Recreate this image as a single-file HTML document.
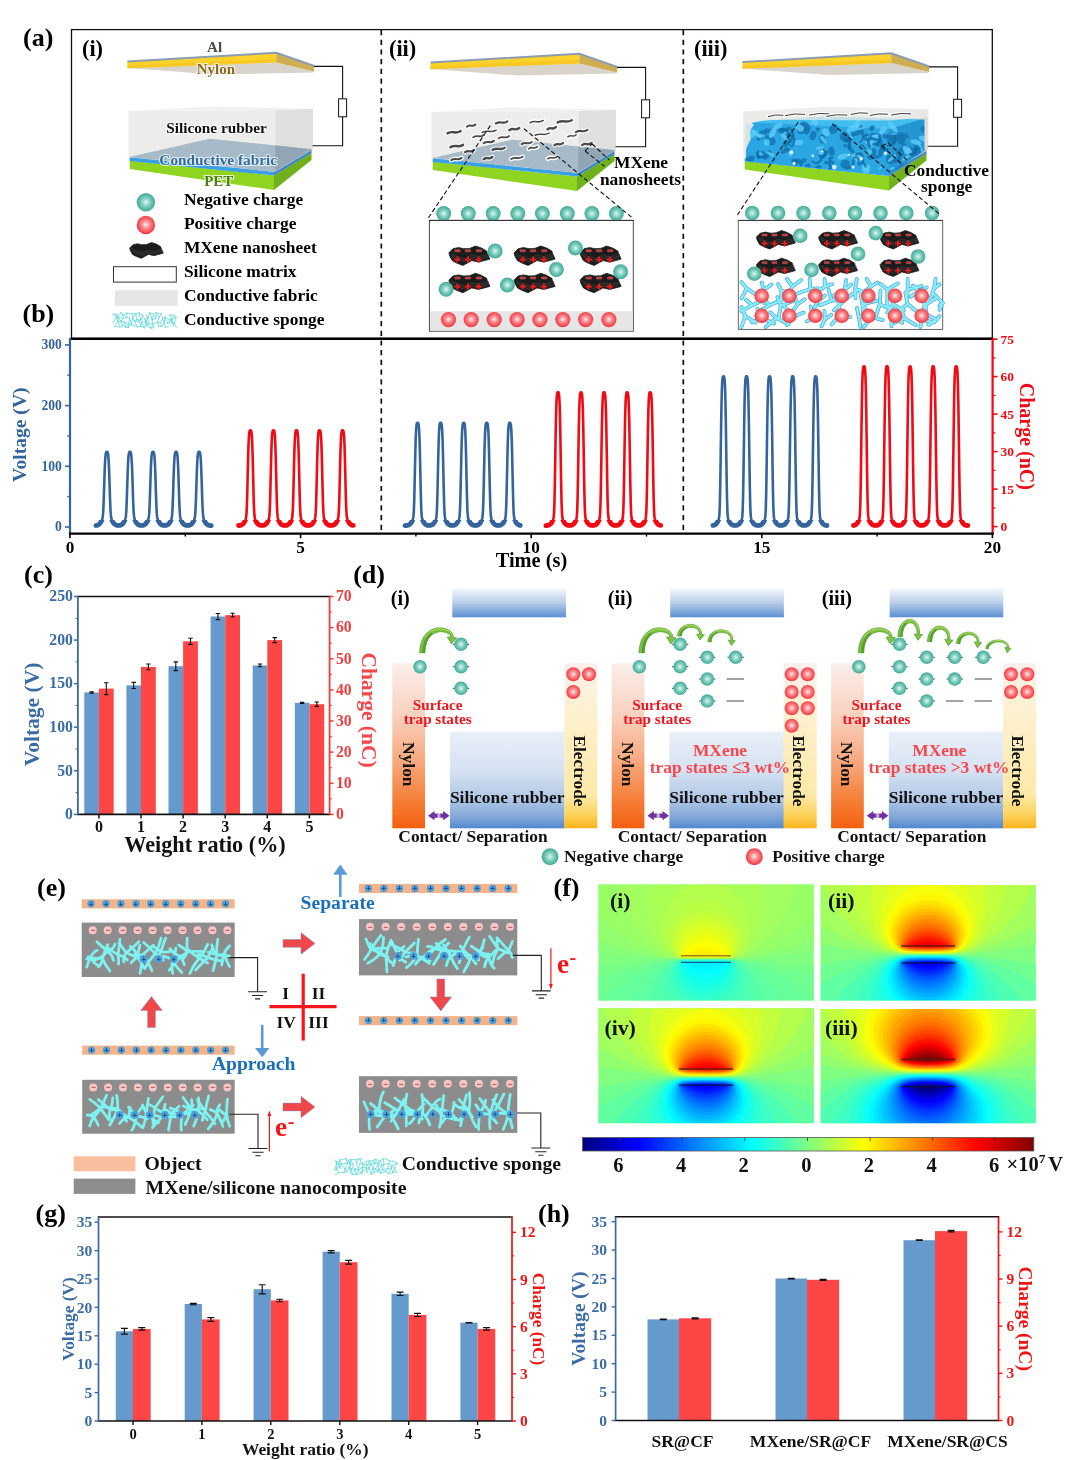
<!DOCTYPE html>
<html><head><meta charset="utf-8"><title>Figure</title>
<style>html,body{margin:0;padding:0;background:#fff}svg{display:block}text{font-family:"Liberation Serif",serif;font-weight:bold}</style>
</head><body><svg width="1080" height="1460" viewBox="0 0 1080 1460" font-family="Liberation Serif, serif" font-weight="bold">
<defs>
<radialGradient id="gT" cx="50%" cy="50%" r="52%"><stop offset="0" stop-color="#e4f7f2"/><stop offset="0.3" stop-color="#9edccf"/><stop offset="0.65" stop-color="#62c0af"/><stop offset="1" stop-color="#46a695"/></radialGradient>
<radialGradient id="gR" cx="50%" cy="48%" r="52%"><stop offset="0" stop-color="#fff0f0"/><stop offset="0.4" stop-color="#fb8e92"/><stop offset="1" stop-color="#f2333d"/></radialGradient>
<linearGradient id="gTopBlue" x1="0" y1="0" x2="0" y2="1"><stop offset="0" stop-color="#f4f7fc"/><stop offset="0.5" stop-color="#b9cde9"/><stop offset="1" stop-color="#5b8fd2"/></linearGradient>
<linearGradient id="gSil" x1="0" y1="0" x2="0" y2="1"><stop offset="0" stop-color="#e9eff8"/><stop offset="0.4" stop-color="#d6e2f2"/><stop offset="0.7" stop-color="#b0c7e5"/><stop offset="0.9" stop-color="#7ca4d7"/><stop offset="1" stop-color="#4f88cd"/></linearGradient>
<linearGradient id="gNylon" x1="0" y1="0" x2="0" y2="1"><stop offset="0" stop-color="#fbeeea"/><stop offset="0.3" stop-color="#f9d3c2"/><stop offset="0.6" stop-color="#f7a77c"/><stop offset="0.85" stop-color="#f57b32"/><stop offset="1" stop-color="#f4600f"/></linearGradient>
<linearGradient id="gElec" x1="0" y1="0" x2="0" y2="1"><stop offset="0" stop-color="#fcefee"/><stop offset="0.25" stop-color="#fdf1d3"/><stop offset="0.8" stop-color="#fde9a8"/><stop offset="0.92" stop-color="#fcd25a"/><stop offset="1" stop-color="#fbb31c"/></linearGradient>
<filter id="b05" x="-20%" y="-20%" width="140%" height="140%"><feGaussianBlur stdDeviation="0.35"/></filter>
<filter id="b1" x="-20%" y="-20%" width="140%" height="140%"><feGaussianBlur stdDeviation="0.6"/></filter>
<filter id="b2" x="-20%" y="-20%" width="140%" height="140%"><feGaussianBlur stdDeviation="1.2"/></filter>
<filter id="b4" x="-30%" y="-30%" width="160%" height="160%"><feGaussianBlur stdDeviation="4"/></filter>
<filter id="b8" x="-30%" y="-30%" width="160%" height="160%"><feGaussianBlur stdDeviation="8"/></filter>
<filter id="b14" x="-50%" y="-50%" width="200%" height="200%"><feGaussianBlur stdDeviation="14"/></filter>
</defs>

<rect x="71.5" y="29.6" width="920.8" height="308.6" fill="none" stroke="#111" stroke-width="1.3"/>
<line x1="70" y1="338.9" x2="993.5" y2="338.9" stroke="#000" stroke-width="2.4"/>
<line x1="381.3" y1="30" x2="381.3" y2="533" stroke="#111" stroke-width="1.7" stroke-dasharray="5.2 4.5"/>
<line x1="683.3" y1="30" x2="683.3" y2="533" stroke="#111" stroke-width="1.7" stroke-dasharray="5.2 4.5"/>
<text x="23" y="45.5" font-size="26" fill="#000" text-anchor="start" >(a)</text>
<text x="22.5" y="321.5" font-size="26" fill="#000" text-anchor="start" >(b)</text>
<text x="82" y="55.8" font-size="22.3" fill="#000" text-anchor="start" >(i)</text>
<text x="389" y="55.8" font-size="22.3" fill="#000" text-anchor="start" >(ii)</text>
<text x="694" y="55.8" font-size="22.3" fill="#000" text-anchor="start" >(iii)</text>
<g transform="translate(0 0)"><polygon points="127.4,68.0 276.2,62.4 314.2,71.5 313.0,72.5 215.0,74.6" fill="#d8d3cb" /><polygon points="127.4,61.8 276.2,53.0 276.2,62.4 127.4,68.2" fill="#fbd22a" /><polygon points="127.4,65.5 276.2,59 276.2,62.4 127.4,68.2" fill="#f6c423" opacity="0.8"/><polygon points="276.2,53.0 314.2,66.2 314.2,71.5 276.2,62.4" fill="#cfae52" /><path d="M127.4,61.6 L276.2,52.7 L314.2,66" fill="none" stroke="#8c9db2" stroke-width="2" stroke-linejoin="round"/></g>
<g transform="translate(0 0)"><path d="M314,66.4 H342.6 V145.8 H312" fill="none" stroke="#111" stroke-width="1.1"/><rect x="338.6" y="98.8" width="8" height="18" fill="#fff" stroke="#111" stroke-width="1"/></g>
<g transform="translate(303 1)"><polygon points="127.4,68.0 276.2,62.4 314.2,71.5 313.0,72.5 215.0,74.6" fill="#d8d3cb" /><polygon points="127.4,61.8 276.2,53.0 276.2,62.4 127.4,68.2" fill="#fbd22a" /><polygon points="127.4,65.5 276.2,59 276.2,62.4 127.4,68.2" fill="#f6c423" opacity="0.8"/><polygon points="276.2,53.0 314.2,66.2 314.2,71.5 276.2,62.4" fill="#cfae52" /><path d="M127.4,61.6 L276.2,52.7 L314.2,66" fill="none" stroke="#8c9db2" stroke-width="2" stroke-linejoin="round"/></g>
<g transform="translate(303 1)"><path d="M314,66.4 H342.6 V145.8 H312" fill="none" stroke="#111" stroke-width="1.1"/><rect x="338.6" y="98.8" width="8" height="18" fill="#fff" stroke="#111" stroke-width="1"/></g>
<g transform="translate(615 0.5)"><polygon points="127.4,68.0 276.2,62.4 314.2,71.5 313.0,72.5 215.0,74.6" fill="#d8d3cb" /><polygon points="127.4,61.8 276.2,53.0 276.2,62.4 127.4,68.2" fill="#fbd22a" /><polygon points="127.4,65.5 276.2,59 276.2,62.4 127.4,68.2" fill="#f6c423" opacity="0.8"/><polygon points="276.2,53.0 314.2,66.2 314.2,71.5 276.2,62.4" fill="#cfae52" /><path d="M127.4,61.6 L276.2,52.7 L314.2,66" fill="none" stroke="#8c9db2" stroke-width="2" stroke-linejoin="round"/></g>
<g transform="translate(615 0.5)"><path d="M314,66.4 H342.6 V145.8 H312" fill="none" stroke="#111" stroke-width="1.1"/><rect x="338.6" y="98.8" width="8" height="18" fill="#fff" stroke="#111" stroke-width="1"/></g>
<g transform="translate(0 0)"><polygon points="129.7,160.8 274.0,175.4 274.0,190.0 129.7,169.0" fill="#8fd421" /><polygon points="274.0,175.4 311.5,152.7 311.5,160.0 274.0,190.0" fill="#6fb01c" /><polygon points="129.7,156.9 274.0,171.7 274.0,175.6 129.7,161.0" fill="#3aa0e6" /><polygon points="274.0,171.7 311.5,149.2 311.5,152.9 274.0,175.6" fill="#3b86c8" /><polygon points="129.7,156.9 209.5,138.8 311.5,149.2 274.0,171.7" fill="#86a2b6" /><polygon points="128.5,111.0 275.5,110.0 275.5,172.0 128.5,157.2" fill="#e6e6e3" opacity="0.74"/><polygon points="275.5,110.0 313.0,108.7 313.0,149.5 275.5,172.0" fill="#cfcfcc" opacity="0.66"/><polygon points="128.5,111.0 210.0,106.4 313.0,108.7 275.5,110.2" fill="#efefed" opacity="0.9"/><polygon points="129.7,156.9 209.5,138.8 311.5,149.2 274.0,171.7" fill="#7f9fb8" opacity="0.5"/><polygon points="275.5,171.0 311.5,149.2 275.5,145.6" fill="#7f93a6" opacity="0.35"/></g>
<text x="214.6" y="52" font-size="15" fill="#4a4a4a" text-anchor="middle" stroke="#fff" stroke-opacity="0.75" stroke-width="2.2" paint-order="stroke" stroke-linejoin="round">Al</text>
<text x="215.8" y="74" font-size="15" fill="#8a6a1c" text-anchor="middle" stroke="#fff" stroke-opacity="0.75" stroke-width="2.2" paint-order="stroke" stroke-linejoin="round">Nylon</text>
<text x="216.5" y="132.5" font-size="15.3" fill="#111" text-anchor="middle" stroke="#fff" stroke-opacity="0.75" stroke-width="2.2" paint-order="stroke" stroke-linejoin="round">Silicone rubber</text>
<text x="218.2" y="165" font-size="15.3" fill="#2e6da4" text-anchor="middle" stroke="#fff" stroke-opacity="0.75" stroke-width="2.2" paint-order="stroke" stroke-linejoin="round">Conductive fabric</text>
<text x="218.8" y="185.5" font-size="15" fill="#4f7c14" text-anchor="middle" stroke="#fff" stroke-opacity="0.75" stroke-width="2.2" paint-order="stroke" stroke-linejoin="round">PET</text>
<circle cx="145.9" cy="202.2" r="9.2" fill="url(#gT)"/>
<circle cx="145.9" cy="225.0" r="9.2" fill="url(#gR)"/>
<g transform="translate(146.5 250.3) scale(0.82)"><path d="M-20.5,-2.8 L-16.5,-6.9 L-10.9,-8 L-5.7,-6.9 L0.2,-7.2 L6.1,-9.6 L12,-7.6 L17.2,-4.6 L18,-2 L19.4,0.9 L20.5,3.5 L15,5 L9.1,6.5 L2.4,5 L-4.3,8.7 L-6.5,9.8 L-12.4,7.6 L-17.2,5 L-19.8,0.2 Z" fill="#1c1c1c" stroke="#1c1c1c" stroke-width="0.8" stroke-linejoin="round"/><path d="M-19.0,-2.6 L-13,0.6 L-5,2.9 L2,-0.2 L9,1.0 L19.5,-1.4" fill="none" stroke="#4a4a4a" stroke-width="0.55"/><path d="M-18.2,-0.9 L-13,2.3 L-5,4.6 L2,1.5 L9,2.7 L19.2,0.3" fill="none" stroke="#4a4a4a" stroke-width="0.55"/><path d="M-17.4,0.8 L-13,4.0 L-5,6.3 L2,3.2 L9,4.4 L18.9,2.0" fill="none" stroke="#4a4a4a" stroke-width="0.55"/></g>
<rect x="113.5" y="266.7" width="62.8" height="15.4" fill="#fff" stroke="#333" stroke-width="1"/>
<rect x="114.8" y="290.2" width="63" height="15.7" fill="#e6e6e6"/>
<path d="M112.8,314.1 L116.8,314.3 M112.8,314.1 L116.3,317.0 M116.8,314.3 L117.9,317.4 M116.8,314.3 L116.3,317.0 M121.0,312.6 L123.0,315.1 M121.0,312.6 L123.7,318.1 M121.0,312.6 L117.9,317.4 M123.0,315.1 L127.2,313.1 M123.0,315.1 L126.4,317.7 M127.2,313.1 L132.7,313.9 M127.2,313.1 L126.4,317.7 M132.7,313.9 L135.9,313.9 M132.7,313.9 L132.8,318.6 M135.9,313.9 L139.0,312.9 M135.9,313.9 L137.0,319.6 M135.9,313.9 L132.8,318.6 M139.0,312.9 L142.6,315.2 M139.0,312.9 L140.9,319.7 M142.6,315.2 L144.9,319.9 M142.6,315.2 L140.9,319.7 M145.9,314.8 L148.0,317.3 M149.8,312.6 L153.6,314.3 M149.8,312.6 L152.1,319.8 M149.8,312.6 L148.0,317.3 M153.6,314.3 L155.8,318.6 M153.6,314.3 L152.1,319.8 M156.0,312.5 L161.1,313.9 M156.0,312.5 L158.9,317.4 M156.0,312.5 L155.8,318.6 M161.1,313.9 L162.8,318.6 M161.1,313.9 L158.9,317.4 M167.9,315.3 L170.6,315.0 M170.6,315.0 L174.4,315.4 M170.6,315.0 L171.6,319.3 M174.4,315.4 L176.1,317.2 M174.4,315.4 L171.6,319.3 M116.3,317.0 L117.9,317.4 M116.3,317.0 L113.0,323.5 M116.3,317.0 L118.1,321.2 M117.9,317.4 L123.7,318.1 M117.9,317.4 L118.1,321.2 M117.9,317.4 L121.0,321.2 M123.7,318.1 L121.0,321.2 M126.4,317.7 L129.7,318.0 M129.7,318.0 L128.8,324.2 M129.7,318.0 L131.5,324.3 M132.8,318.6 L131.5,324.3 M132.8,318.6 L134.5,321.3 M137.0,319.6 L140.9,319.7 M137.0,319.6 L134.5,321.3 M137.0,319.6 L138.9,321.2 M140.9,319.7 L138.9,321.2 M140.9,319.7 L141.4,322.4 M144.9,319.9 L148.0,317.3 M144.9,319.9 L146.1,321.6 M148.0,317.3 L146.1,321.6 M148.0,317.3 L148.2,323.8 M152.1,319.8 L155.8,318.6 M152.1,319.8 L152.5,324.1 M158.9,317.4 L157.6,322.3 M162.8,318.6 L160.0,322.7 M162.8,318.6 L164.1,323.0 M165.0,316.9 L170.0,319.9 M165.0,316.9 L164.1,323.0 M165.0,316.9 L167.5,323.1 M170.0,319.9 L171.6,319.3 M170.0,319.9 L167.5,323.1 M170.0,319.9 L172.1,322.7 M171.6,319.3 L176.1,317.2 M171.6,319.3 L172.1,322.7 M171.6,319.3 L174.3,323.4 M176.1,317.2 L174.3,323.4 M118.1,321.2 L121.0,321.2 M118.1,321.2 L120.1,327.1 M118.1,321.2 L114.6,326.4 M121.0,321.2 L124.8,322.1 M121.0,321.2 L122.6,325.4 M124.8,322.1 L128.8,324.2 M124.8,322.1 L125.8,327.3 M124.8,322.1 L122.6,325.4 M128.8,324.2 L131.5,324.3 M128.8,324.2 L128.4,327.4 M128.8,324.2 L125.8,327.3 M131.5,324.3 L133.6,325.6 M131.5,324.3 L128.4,327.4 M134.5,321.3 L138.9,321.2 M134.5,321.3 L137.2,326.9 M138.9,321.2 L140.9,326.5 M141.4,322.4 L146.1,321.6 M141.4,322.4 L144.5,327.8 M141.4,322.4 L140.9,326.5 M146.1,321.6 L148.2,323.8 M146.1,321.6 L146.3,325.6 M146.1,321.6 L144.5,327.8 M148.2,323.8 L152.5,324.1 M148.2,323.8 L151.6,328.5 M148.2,323.8 L146.3,325.6 M152.5,324.1 L157.6,322.3 M152.5,324.1 L154.1,326.9 M152.5,324.1 L151.6,328.5 M157.6,322.3 L160.0,322.7 M157.6,322.3 L158.6,326.4 M160.0,322.7 L161.6,326.4 M164.1,323.0 L165.2,327.3 M164.1,323.0 L161.6,326.4 M167.5,323.1 L172.1,322.7 M172.1,322.7 L173.4,325.5 M174.3,323.4 L176.5,327.8 M174.3,323.4 L173.4,325.5 M114.6,326.4 L120.1,327.1 M120.1,327.1 L122.6,325.4 M122.6,325.4 L125.8,327.3 M125.8,327.3 L128.4,327.4 M133.6,325.6 L137.2,326.9 M137.2,326.9 L140.9,326.5 M140.9,326.5 L144.5,327.8 M146.3,325.6 L151.6,328.5 M151.6,328.5 L154.1,326.9 M158.6,326.4 L161.6,326.4 M165.2,327.3 L168.6,326.6" stroke="#62d8dc" stroke-width="0.8" fill="none" stroke-linecap="round"/>
<text x="183.9" y="205.2" font-size="17.4" fill="#000" text-anchor="start" >Negative charge</text>
<text x="183.9" y="228.9" font-size="17.4" fill="#000" text-anchor="start" >Positive charge</text>
<text x="183.9" y="252.6" font-size="17.4" fill="#000" text-anchor="start" >MXene nanosheet</text>
<text x="183.9" y="276.9" font-size="17.4" fill="#000" text-anchor="start" >Silicone matrix</text>
<text x="183.9" y="300.6" font-size="17.4" fill="#000" text-anchor="start" >Conductive fabric</text>
<text x="183.9" y="325.2" font-size="17.4" fill="#000" text-anchor="start" >Conductive sponge</text>
<g transform="translate(303 1)"><polygon points="129.7,160.8 274.0,175.4 274.0,190.0 129.7,169.0" fill="#8fd421" /><polygon points="274.0,175.4 311.5,152.7 311.5,160.0 274.0,190.0" fill="#6fb01c" /><polygon points="129.7,156.9 274.0,171.7 274.0,175.6 129.7,161.0" fill="#3aa0e6" /><polygon points="274.0,171.7 311.5,149.2 311.5,152.9 274.0,175.6" fill="#3b86c8" /><polygon points="129.7,156.9 209.5,138.8 311.5,149.2 274.0,171.7" fill="#86a2b6" /><polygon points="128.5,111.0 275.5,110.0 275.5,172.0 128.5,157.2" fill="#e6e6e3" opacity="0.74"/><polygon points="275.5,110.0 313.0,108.7 313.0,149.5 275.5,172.0" fill="#cfcfcc" opacity="0.66"/><polygon points="128.5,111.0 210.0,106.4 313.0,108.7 275.5,110.2" fill="#efefed" opacity="0.9"/><polygon points="129.7,156.9 209.5,138.8 311.5,149.2 274.0,171.7" fill="#7f9fb8" opacity="0.5"/><polygon points="275.5,171.0 311.5,149.2 275.5,145.6" fill="#7f93a6" opacity="0.35"/></g>
<g filter="url(#b1)"><path d="M447.4,133.3 q3.3,-1.6 6.6,-1 t6.6,-1.2" fill="none" stroke="#fff" stroke-width="4.6" stroke-linecap="round" opacity="0.95"/><path d="M466.9,126.7 q2.1,-1.6 4.3,-1 t4.3,-1.2" fill="none" stroke="#fff" stroke-width="4.6" stroke-linecap="round" opacity="0.95"/><path d="M482.2,132.4 q3.5,-1.6 6.9,-1 t6.9,-1.2" fill="none" stroke="#fff" stroke-width="4.6" stroke-linecap="round" opacity="0.95"/><path d="M495.8,123.5 q2.9,-1.6 5.8,-1 t5.8,-1.2" fill="none" stroke="#fff" stroke-width="4.6" stroke-linecap="round" opacity="0.95"/><path d="M509.3,130.2 q2.5,-1.6 5.0,-1 t5.0,-1.2" fill="none" stroke="#fff" stroke-width="4.6" stroke-linecap="round" opacity="0.95"/><path d="M530.0,122.7 q3.3,-1.6 6.6,-1 t6.6,-1.2" fill="none" stroke="#fff" stroke-width="4.6" stroke-linecap="round" opacity="0.95"/><path d="M547.5,129.3 q2.1,-1.6 4.2,-1 t4.2,-1.2" fill="none" stroke="#fff" stroke-width="4.6" stroke-linecap="round" opacity="0.95"/><path d="M557.6,122.4 q3.6,-1.6 7.1,-1 t7.1,-1.2" fill="none" stroke="#fff" stroke-width="4.6" stroke-linecap="round" opacity="0.95"/><path d="M575.9,132.1 q2.9,-1.6 5.8,-1 t5.8,-1.2" fill="none" stroke="#fff" stroke-width="4.6" stroke-linecap="round" opacity="0.95"/><path d="M450.4,147.1 q3.1,-1.6 6.3,-1 t6.3,-1.2" fill="none" stroke="#fff" stroke-width="4.6" stroke-linecap="round" opacity="0.95"/><path d="M473.2,137.2 q2.6,-1.6 5.3,-1 t5.3,-1.2" fill="none" stroke="#fff" stroke-width="4.6" stroke-linecap="round" opacity="0.95"/><path d="M483.7,143.1 q2.6,-1.6 5.1,-1 t5.1,-1.2" fill="none" stroke="#fff" stroke-width="4.6" stroke-linecap="round" opacity="0.95"/><path d="M498.7,138.3 q2.6,-1.6 5.2,-1 t5.2,-1.2" fill="none" stroke="#fff" stroke-width="4.6" stroke-linecap="round" opacity="0.95"/><path d="M521.6,144.2 q2.6,-1.6 5.1,-1 t5.1,-1.2" fill="none" stroke="#fff" stroke-width="4.6" stroke-linecap="round" opacity="0.95"/><path d="M535.0,135.3 q3.6,-1.6 7.1,-1 t7.1,-1.2" fill="none" stroke="#fff" stroke-width="4.6" stroke-linecap="round" opacity="0.95"/><path d="M554.5,145.2 q2.1,-1.6 4.3,-1 t4.3,-1.2" fill="none" stroke="#fff" stroke-width="4.6" stroke-linecap="round" opacity="0.95"/><path d="M567.8,136.9 q2.1,-1.6 4.2,-1 t4.2,-1.2" fill="none" stroke="#fff" stroke-width="4.6" stroke-linecap="round" opacity="0.95"/><path d="M582.1,145.1 q2.4,-1.6 4.8,-1 t4.8,-1.2" fill="none" stroke="#fff" stroke-width="4.6" stroke-linecap="round" opacity="0.95"/><path d="M451.2,160.1 q2.6,-1.6 5.2,-1 t5.2,-1.2" fill="none" stroke="#fff" stroke-width="4.6" stroke-linecap="round" opacity="0.95"/><path d="M465.0,152.2 q2.3,-1.6 4.5,-1 t4.5,-1.2" fill="none" stroke="#fff" stroke-width="4.6" stroke-linecap="round" opacity="0.95"/><path d="M483.7,159.2 q2.2,-1.6 4.3,-1 t4.3,-1.2" fill="none" stroke="#fff" stroke-width="4.6" stroke-linecap="round" opacity="0.95"/><path d="M492.6,149.9 q3.0,-1.6 6.0,-1 t6.0,-1.2" fill="none" stroke="#fff" stroke-width="4.6" stroke-linecap="round" opacity="0.95"/><path d="M511.1,159.0 q2.9,-1.6 5.8,-1 t5.8,-1.2" fill="none" stroke="#fff" stroke-width="4.6" stroke-linecap="round" opacity="0.95"/><path d="M528.6,148.8 q2.2,-1.6 4.4,-1 t4.4,-1.2" fill="none" stroke="#fff" stroke-width="4.6" stroke-linecap="round" opacity="0.95"/><path d="M547.6,158.8 q2.3,-1.6 4.7,-1 t4.7,-1.2" fill="none" stroke="#fff" stroke-width="4.6" stroke-linecap="round" opacity="0.95"/></g><g filter="url(#b05)"><path d="M447.4,133.3 q3.3,-1.6 6.6,-1 t6.6,-1.2" fill="none" stroke="#4a4a4a" stroke-width="2.4" stroke-linecap="round"/><path d="M466.9,126.7 q2.1,-1.6 4.3,-1 t4.3,-1.2" fill="none" stroke="#4a4a4a" stroke-width="2.0" stroke-linecap="round"/><path d="M482.2,132.4 q3.5,-1.6 6.9,-1 t6.9,-1.2" fill="none" stroke="#4a4a4a" stroke-width="1.6" stroke-linecap="round"/><path d="M495.8,123.5 q2.9,-1.6 5.8,-1 t5.8,-1.2" fill="none" stroke="#4a4a4a" stroke-width="2.1" stroke-linecap="round"/><path d="M509.3,130.2 q2.5,-1.6 5.0,-1 t5.0,-1.2" fill="none" stroke="#4a4a4a" stroke-width="2.4" stroke-linecap="round"/><path d="M530.0,122.7 q3.3,-1.6 6.6,-1 t6.6,-1.2" fill="none" stroke="#4a4a4a" stroke-width="1.6" stroke-linecap="round"/><path d="M547.5,129.3 q2.1,-1.6 4.2,-1 t4.2,-1.2" fill="none" stroke="#4a4a4a" stroke-width="2.4" stroke-linecap="round"/><path d="M557.6,122.4 q3.6,-1.6 7.1,-1 t7.1,-1.2" fill="none" stroke="#4a4a4a" stroke-width="2.4" stroke-linecap="round"/><path d="M575.9,132.1 q2.9,-1.6 5.8,-1 t5.8,-1.2" fill="none" stroke="#4a4a4a" stroke-width="2.2" stroke-linecap="round"/><path d="M450.4,147.1 q3.1,-1.6 6.3,-1 t6.3,-1.2" fill="none" stroke="#4a4a4a" stroke-width="2.5" stroke-linecap="round"/><path d="M473.2,137.2 q2.6,-1.6 5.3,-1 t5.3,-1.2" fill="none" stroke="#4a4a4a" stroke-width="1.7" stroke-linecap="round"/><path d="M483.7,143.1 q2.6,-1.6 5.1,-1 t5.1,-1.2" fill="none" stroke="#4a4a4a" stroke-width="2.1" stroke-linecap="round"/><path d="M498.7,138.3 q2.6,-1.6 5.2,-1 t5.2,-1.2" fill="none" stroke="#4a4a4a" stroke-width="1.8" stroke-linecap="round"/><path d="M521.6,144.2 q2.6,-1.6 5.1,-1 t5.1,-1.2" fill="none" stroke="#4a4a4a" stroke-width="2.0" stroke-linecap="round"/><path d="M535.0,135.3 q3.6,-1.6 7.1,-1 t7.1,-1.2" fill="none" stroke="#4a4a4a" stroke-width="1.5" stroke-linecap="round"/><path d="M554.5,145.2 q2.1,-1.6 4.3,-1 t4.3,-1.2" fill="none" stroke="#4a4a4a" stroke-width="2.3" stroke-linecap="round"/><path d="M567.8,136.9 q2.1,-1.6 4.2,-1 t4.2,-1.2" fill="none" stroke="#4a4a4a" stroke-width="1.5" stroke-linecap="round"/><path d="M582.1,145.1 q2.4,-1.6 4.8,-1 t4.8,-1.2" fill="none" stroke="#4a4a4a" stroke-width="2.3" stroke-linecap="round"/><path d="M451.2,160.1 q2.6,-1.6 5.2,-1 t5.2,-1.2" fill="none" stroke="#4a4a4a" stroke-width="1.9" stroke-linecap="round"/><path d="M465.0,152.2 q2.3,-1.6 4.5,-1 t4.5,-1.2" fill="none" stroke="#4a4a4a" stroke-width="2.2" stroke-linecap="round"/><path d="M483.7,159.2 q2.2,-1.6 4.3,-1 t4.3,-1.2" fill="none" stroke="#4a4a4a" stroke-width="2.4" stroke-linecap="round"/><path d="M492.6,149.9 q3.0,-1.6 6.0,-1 t6.0,-1.2" fill="none" stroke="#4a4a4a" stroke-width="2.4" stroke-linecap="round"/><path d="M511.1,159.0 q2.9,-1.6 5.8,-1 t5.8,-1.2" fill="none" stroke="#4a4a4a" stroke-width="1.8" stroke-linecap="round"/><path d="M528.6,148.8 q2.2,-1.6 4.4,-1 t4.4,-1.2" fill="none" stroke="#4a4a4a" stroke-width="1.6" stroke-linecap="round"/><path d="M547.6,158.8 q2.3,-1.6 4.7,-1 t4.7,-1.2" fill="none" stroke="#4a4a4a" stroke-width="1.5" stroke-linecap="round"/></g>
<path d="M585,151 L604.4,166.3 M592.1,143.9 L609.5,160.2 M585,151 L592.1,143.9" stroke="#111" stroke-width="1.1" stroke-dasharray="4.5 2.6" fill="none"/>
<text x="614" y="168" font-size="17.4" fill="#000" text-anchor="start" >MXene</text>
<text x="599.9" y="184.8" font-size="17.4" fill="#000" text-anchor="start" >nanosheets</text>
<rect x="429.4" y="220.4" width="203.9" height="110.8" fill="#fff" stroke="#4a4a4a" stroke-width="1"/>
<rect x="430" y="311.2" width="202.8" height="19.5" fill="#e6e6e6"/>
<circle cx="443.7" cy="213.6" r="7.5" fill="url(#gT)"/>
<circle cx="468.3" cy="213.6" r="7.5" fill="url(#gT)"/>
<circle cx="493.2" cy="213.6" r="7.5" fill="url(#gT)"/>
<circle cx="517.8" cy="213.6" r="7.5" fill="url(#gT)"/>
<circle cx="542.4" cy="213.6" r="7.5" fill="url(#gT)"/>
<circle cx="567.3" cy="213.6" r="7.5" fill="url(#gT)"/>
<circle cx="591.9" cy="213.6" r="7.5" fill="url(#gT)"/>
<circle cx="616.4" cy="213.6" r="7.5" fill="url(#gT)"/>
<line x1="428.9" y1="220.4" x2="633.3" y2="220.4" stroke="#333" stroke-width="1"/>
<circle cx="448.5" cy="319.6" r="7.6" fill="url(#gR)"/>
<circle cx="471.2" cy="319.6" r="7.6" fill="url(#gR)"/>
<circle cx="494.2" cy="319.6" r="7.6" fill="url(#gR)"/>
<circle cx="517.1" cy="319.6" r="7.6" fill="url(#gR)"/>
<circle cx="539.9" cy="319.6" r="7.6" fill="url(#gR)"/>
<circle cx="562.8" cy="319.6" r="7.6" fill="url(#gR)"/>
<circle cx="585.6" cy="319.6" r="7.6" fill="url(#gR)"/>
<circle cx="608.9" cy="319.6" r="7.6" fill="url(#gR)"/>
<g transform="translate(469.4 255.6) scale(1.0)"><path d="M-20.5,-2.8 L-16.5,-6.9 L-10.9,-8 L-5.7,-6.9 L0.2,-7.2 L6.1,-9.6 L12,-7.6 L17.2,-4.6 L18,-2 L19.4,0.9 L20.5,3.5 L15,5 L9.1,6.5 L2.4,5 L-4.3,8.7 L-6.5,9.8 L-12.4,7.6 L-17.2,5 L-19.8,0.2 Z" fill="#1c1c1c" stroke="#1c1c1c" stroke-width="0.8" stroke-linejoin="round"/><path d="M-19.0,-2.6 L-13,0.6 L-5,2.9 L2,-0.2 L9,1.0 L19.5,-1.4" fill="none" stroke="#4a4a4a" stroke-width="0.55"/><path d="M-18.2,-0.9 L-13,2.3 L-5,4.6 L2,1.5 L9,2.7 L19.2,0.3" fill="none" stroke="#4a4a4a" stroke-width="0.55"/><path d="M-17.4,0.8 L-13,4.0 L-5,6.3 L2,3.2 L9,4.4 L18.9,2.0" fill="none" stroke="#4a4a4a" stroke-width="0.55"/><rect x="-14.6" y="-5.9" width="5.4" height="2" rx="0.6" fill="#f41818" stroke="#9a9a9a" stroke-width="0.45"/><rect x="-4.2" y="-5.9" width="5.4" height="2" rx="0.6" fill="#f41818" stroke="#9a9a9a" stroke-width="0.45"/><rect x="6.9" y="-5.9" width="5.4" height="2" rx="0.6" fill="#f41818" stroke="#9a9a9a" stroke-width="0.45"/><text x="-11.9" y="7.4" font-size="11" fill="#f41818" stroke="#f41818" stroke-width="1" text-anchor="middle">+</text><text x="-1.5" y="7.4" font-size="11" fill="#f41818" stroke="#f41818" stroke-width="1" text-anchor="middle">+</text><text x="9.3" y="7.4" font-size="11" fill="#f41818" stroke="#f41818" stroke-width="1" text-anchor="middle">+</text></g>
<g transform="translate(534.6 255.6) scale(1.0)"><path d="M-20.5,-2.8 L-16.5,-6.9 L-10.9,-8 L-5.7,-6.9 L0.2,-7.2 L6.1,-9.6 L12,-7.6 L17.2,-4.6 L18,-2 L19.4,0.9 L20.5,3.5 L15,5 L9.1,6.5 L2.4,5 L-4.3,8.7 L-6.5,9.8 L-12.4,7.6 L-17.2,5 L-19.8,0.2 Z" fill="#1c1c1c" stroke="#1c1c1c" stroke-width="0.8" stroke-linejoin="round"/><path d="M-19.0,-2.6 L-13,0.6 L-5,2.9 L2,-0.2 L9,1.0 L19.5,-1.4" fill="none" stroke="#4a4a4a" stroke-width="0.55"/><path d="M-18.2,-0.9 L-13,2.3 L-5,4.6 L2,1.5 L9,2.7 L19.2,0.3" fill="none" stroke="#4a4a4a" stroke-width="0.55"/><path d="M-17.4,0.8 L-13,4.0 L-5,6.3 L2,3.2 L9,4.4 L18.9,2.0" fill="none" stroke="#4a4a4a" stroke-width="0.55"/><rect x="-14.6" y="-5.9" width="5.4" height="2" rx="0.6" fill="#f41818" stroke="#9a9a9a" stroke-width="0.45"/><rect x="-4.2" y="-5.9" width="5.4" height="2" rx="0.6" fill="#f41818" stroke="#9a9a9a" stroke-width="0.45"/><rect x="6.9" y="-5.9" width="5.4" height="2" rx="0.6" fill="#f41818" stroke="#9a9a9a" stroke-width="0.45"/><text x="-11.9" y="7.4" font-size="11" fill="#f41818" stroke="#f41818" stroke-width="1" text-anchor="middle">+</text><text x="-1.5" y="7.4" font-size="11" fill="#f41818" stroke="#f41818" stroke-width="1" text-anchor="middle">+</text><text x="9.3" y="7.4" font-size="11" fill="#f41818" stroke="#f41818" stroke-width="1" text-anchor="middle">+</text></g>
<g transform="translate(600.6 255.6) scale(1.0)"><path d="M-20.5,-2.8 L-16.5,-6.9 L-10.9,-8 L-5.7,-6.9 L0.2,-7.2 L6.1,-9.6 L12,-7.6 L17.2,-4.6 L18,-2 L19.4,0.9 L20.5,3.5 L15,5 L9.1,6.5 L2.4,5 L-4.3,8.7 L-6.5,9.8 L-12.4,7.6 L-17.2,5 L-19.8,0.2 Z" fill="#1c1c1c" stroke="#1c1c1c" stroke-width="0.8" stroke-linejoin="round"/><path d="M-19.0,-2.6 L-13,0.6 L-5,2.9 L2,-0.2 L9,1.0 L19.5,-1.4" fill="none" stroke="#4a4a4a" stroke-width="0.55"/><path d="M-18.2,-0.9 L-13,2.3 L-5,4.6 L2,1.5 L9,2.7 L19.2,0.3" fill="none" stroke="#4a4a4a" stroke-width="0.55"/><path d="M-17.4,0.8 L-13,4.0 L-5,6.3 L2,3.2 L9,4.4 L18.9,2.0" fill="none" stroke="#4a4a4a" stroke-width="0.55"/><rect x="-14.6" y="-5.9" width="5.4" height="2" rx="0.6" fill="#f41818" stroke="#9a9a9a" stroke-width="0.45"/><rect x="-4.2" y="-5.9" width="5.4" height="2" rx="0.6" fill="#f41818" stroke="#9a9a9a" stroke-width="0.45"/><rect x="6.9" y="-5.9" width="5.4" height="2" rx="0.6" fill="#f41818" stroke="#9a9a9a" stroke-width="0.45"/><text x="-11.9" y="7.4" font-size="11" fill="#f41818" stroke="#f41818" stroke-width="1" text-anchor="middle">+</text><text x="-1.5" y="7.4" font-size="11" fill="#f41818" stroke="#f41818" stroke-width="1" text-anchor="middle">+</text><text x="9.3" y="7.4" font-size="11" fill="#f41818" stroke="#f41818" stroke-width="1" text-anchor="middle">+</text></g>
<g transform="translate(469.4 282.9) scale(1.0)"><path d="M-20.5,-2.8 L-16.5,-6.9 L-10.9,-8 L-5.7,-6.9 L0.2,-7.2 L6.1,-9.6 L12,-7.6 L17.2,-4.6 L18,-2 L19.4,0.9 L20.5,3.5 L15,5 L9.1,6.5 L2.4,5 L-4.3,8.7 L-6.5,9.8 L-12.4,7.6 L-17.2,5 L-19.8,0.2 Z" fill="#1c1c1c" stroke="#1c1c1c" stroke-width="0.8" stroke-linejoin="round"/><path d="M-19.0,-2.6 L-13,0.6 L-5,2.9 L2,-0.2 L9,1.0 L19.5,-1.4" fill="none" stroke="#4a4a4a" stroke-width="0.55"/><path d="M-18.2,-0.9 L-13,2.3 L-5,4.6 L2,1.5 L9,2.7 L19.2,0.3" fill="none" stroke="#4a4a4a" stroke-width="0.55"/><path d="M-17.4,0.8 L-13,4.0 L-5,6.3 L2,3.2 L9,4.4 L18.9,2.0" fill="none" stroke="#4a4a4a" stroke-width="0.55"/><rect x="-14.6" y="-5.9" width="5.4" height="2" rx="0.6" fill="#f41818" stroke="#9a9a9a" stroke-width="0.45"/><rect x="-4.2" y="-5.9" width="5.4" height="2" rx="0.6" fill="#f41818" stroke="#9a9a9a" stroke-width="0.45"/><rect x="6.9" y="-5.9" width="5.4" height="2" rx="0.6" fill="#f41818" stroke="#9a9a9a" stroke-width="0.45"/><text x="-11.9" y="7.4" font-size="11" fill="#f41818" stroke="#f41818" stroke-width="1" text-anchor="middle">+</text><text x="-1.5" y="7.4" font-size="11" fill="#f41818" stroke="#f41818" stroke-width="1" text-anchor="middle">+</text><text x="9.3" y="7.4" font-size="11" fill="#f41818" stroke="#f41818" stroke-width="1" text-anchor="middle">+</text></g>
<g transform="translate(534.6 282.9) scale(1.0)"><path d="M-20.5,-2.8 L-16.5,-6.9 L-10.9,-8 L-5.7,-6.9 L0.2,-7.2 L6.1,-9.6 L12,-7.6 L17.2,-4.6 L18,-2 L19.4,0.9 L20.5,3.5 L15,5 L9.1,6.5 L2.4,5 L-4.3,8.7 L-6.5,9.8 L-12.4,7.6 L-17.2,5 L-19.8,0.2 Z" fill="#1c1c1c" stroke="#1c1c1c" stroke-width="0.8" stroke-linejoin="round"/><path d="M-19.0,-2.6 L-13,0.6 L-5,2.9 L2,-0.2 L9,1.0 L19.5,-1.4" fill="none" stroke="#4a4a4a" stroke-width="0.55"/><path d="M-18.2,-0.9 L-13,2.3 L-5,4.6 L2,1.5 L9,2.7 L19.2,0.3" fill="none" stroke="#4a4a4a" stroke-width="0.55"/><path d="M-17.4,0.8 L-13,4.0 L-5,6.3 L2,3.2 L9,4.4 L18.9,2.0" fill="none" stroke="#4a4a4a" stroke-width="0.55"/><rect x="-14.6" y="-5.9" width="5.4" height="2" rx="0.6" fill="#f41818" stroke="#9a9a9a" stroke-width="0.45"/><rect x="-4.2" y="-5.9" width="5.4" height="2" rx="0.6" fill="#f41818" stroke="#9a9a9a" stroke-width="0.45"/><rect x="6.9" y="-5.9" width="5.4" height="2" rx="0.6" fill="#f41818" stroke="#9a9a9a" stroke-width="0.45"/><text x="-11.9" y="7.4" font-size="11" fill="#f41818" stroke="#f41818" stroke-width="1" text-anchor="middle">+</text><text x="-1.5" y="7.4" font-size="11" fill="#f41818" stroke="#f41818" stroke-width="1" text-anchor="middle">+</text><text x="9.3" y="7.4" font-size="11" fill="#f41818" stroke="#f41818" stroke-width="1" text-anchor="middle">+</text></g>
<g transform="translate(600.6 282.9) scale(1.0)"><path d="M-20.5,-2.8 L-16.5,-6.9 L-10.9,-8 L-5.7,-6.9 L0.2,-7.2 L6.1,-9.6 L12,-7.6 L17.2,-4.6 L18,-2 L19.4,0.9 L20.5,3.5 L15,5 L9.1,6.5 L2.4,5 L-4.3,8.7 L-6.5,9.8 L-12.4,7.6 L-17.2,5 L-19.8,0.2 Z" fill="#1c1c1c" stroke="#1c1c1c" stroke-width="0.8" stroke-linejoin="round"/><path d="M-19.0,-2.6 L-13,0.6 L-5,2.9 L2,-0.2 L9,1.0 L19.5,-1.4" fill="none" stroke="#4a4a4a" stroke-width="0.55"/><path d="M-18.2,-0.9 L-13,2.3 L-5,4.6 L2,1.5 L9,2.7 L19.2,0.3" fill="none" stroke="#4a4a4a" stroke-width="0.55"/><path d="M-17.4,0.8 L-13,4.0 L-5,6.3 L2,3.2 L9,4.4 L18.9,2.0" fill="none" stroke="#4a4a4a" stroke-width="0.55"/><rect x="-14.6" y="-5.9" width="5.4" height="2" rx="0.6" fill="#f41818" stroke="#9a9a9a" stroke-width="0.45"/><rect x="-4.2" y="-5.9" width="5.4" height="2" rx="0.6" fill="#f41818" stroke="#9a9a9a" stroke-width="0.45"/><rect x="6.9" y="-5.9" width="5.4" height="2" rx="0.6" fill="#f41818" stroke="#9a9a9a" stroke-width="0.45"/><text x="-11.9" y="7.4" font-size="11" fill="#f41818" stroke="#f41818" stroke-width="1" text-anchor="middle">+</text><text x="-1.5" y="7.4" font-size="11" fill="#f41818" stroke="#f41818" stroke-width="1" text-anchor="middle">+</text><text x="9.3" y="7.4" font-size="11" fill="#f41818" stroke="#f41818" stroke-width="1" text-anchor="middle">+</text></g>
<circle cx="495.1" cy="251.0" r="7.5" fill="url(#gT)"/>
<circle cx="575.4" cy="248.0" r="7.5" fill="url(#gT)"/>
<circle cx="556.4" cy="269.4" r="7.5" fill="url(#gT)"/>
<circle cx="620.6" cy="271.8" r="7.5" fill="url(#gT)"/>
<circle cx="446.1" cy="289.3" r="7.5" fill="url(#gT)"/>
<circle cx="507.4" cy="285.0" r="7.5" fill="url(#gT)"/>
<g transform="translate(615 0.5)"><polygon points="129.7,160.8 274.0,175.4 274.0,190.0 129.7,169.0" fill="#8fd421" /><polygon points="274.0,175.4 311.5,152.7 311.5,160.0 274.0,190.0" fill="#6fb01c" /><polygon points="129.7,156.9 274.0,171.7 274.0,175.6 129.7,161.0" fill="#3aa0e6" /><polygon points="274.0,171.7 311.5,149.2 311.5,152.9 274.0,175.6" fill="#3b86c8" /><polygon points="129.7,156.9 209.5,138.8 311.5,149.2 274.0,171.7" fill="#86a2b6" /></g>
<polygon points="743.3,111.5 890.5,110.5 890.5,172.0 743.3,158.0" fill="#e6e6e3" opacity="0.85"/><polygon points="890.5,110.5 928.3,109.0 928.3,150.0 890.5,172.0" fill="#d6d6d3" opacity="0.8"/><polygon points="743.3,111.5 825.0,106.8 928.3,109.0 890.5,110.7" fill="#efefed" /><clipPath id="spc"><polygon points="746,124.5 760,121 825,116.5 924.5,119.5 924.5,150.5 888,175.5 746,160.8"/></clipPath><g clip-path="url(#spc)"><g filter="url(#b1)"><polygon points="744.0,118.0 889.0,126.0 889.0,178.0 744.0,163.0" fill="#2aa7e3" /><polygon points="889.0,126.0 926.0,117.0 926.0,152.0 889.0,178.0" fill="#2596d2" /><polygon points="744.0,122.0 825.0,114.0 926.0,118.0 889.0,129.0" fill="#43bdf0" /><ellipse cx="860.5" cy="127.2" rx="3.2" ry="2.3" transform="rotate(28 860.5 127.2)" fill="#1477b3" opacity="0.85"/><ellipse cx="867.1" cy="167.0" rx="2.4" ry="3.0" transform="rotate(-56 867.1 167.0)" fill="#1477b3" opacity="0.85"/><ellipse cx="786.5" cy="149.2" rx="2.1" ry="2.2" transform="rotate(18 786.5 149.2)" fill="#1477b3" opacity="0.85"/><ellipse cx="843.9" cy="136.1" rx="4.7" ry="4.3" transform="rotate(-59 843.9 136.1)" fill="#1477b3" opacity="0.85"/><ellipse cx="889.8" cy="158.1" rx="3.5" ry="2.0" transform="rotate(55 889.8 158.1)" fill="#1477b3" opacity="0.85"/><ellipse cx="807.2" cy="130.3" rx="2.4" ry="4.5" transform="rotate(12 807.2 130.3)" fill="#1477b3" opacity="0.85"/><ellipse cx="890.1" cy="159.6" rx="4.4" ry="4.9" transform="rotate(-15 890.1 159.6)" fill="#1477b3" opacity="0.85"/><ellipse cx="845.2" cy="164.2" rx="4.8" ry="4.5" transform="rotate(9 845.2 164.2)" fill="#1477b3" opacity="0.85"/><ellipse cx="872.0" cy="128.1" rx="3.0" ry="2.5" transform="rotate(-50 872.0 128.1)" fill="#1477b3" opacity="0.85"/><ellipse cx="789.0" cy="130.6" rx="3.3" ry="3.7" transform="rotate(-16 789.0 130.6)" fill="#1477b3" opacity="0.85"/><ellipse cx="813.2" cy="135.6" rx="3.2" ry="4.8" transform="rotate(18 813.2 135.6)" fill="#1477b3" opacity="0.85"/><ellipse cx="855.2" cy="133.9" rx="5.3" ry="2.1" transform="rotate(-14 855.2 133.9)" fill="#1477b3" opacity="0.85"/><ellipse cx="922.2" cy="155.4" rx="4.5" ry="3.9" transform="rotate(41 922.2 155.4)" fill="#1477b3" opacity="0.85"/><ellipse cx="884.6" cy="136.5" rx="2.1" ry="2.6" transform="rotate(-28 884.6 136.5)" fill="#1477b3" opacity="0.85"/><ellipse cx="785.1" cy="169.4" rx="5.9" ry="2.6" transform="rotate(19 785.1 169.4)" fill="#1477b3" opacity="0.85"/><ellipse cx="817.6" cy="168.1" rx="4.1" ry="2.4" transform="rotate(-30 817.6 168.1)" fill="#1477b3" opacity="0.85"/><ellipse cx="846.8" cy="138.1" rx="4.6" ry="4.6" transform="rotate(-12 846.8 138.1)" fill="#1477b3" opacity="0.85"/><ellipse cx="786.6" cy="171.9" rx="4.3" ry="1.8" transform="rotate(-54 786.6 171.9)" fill="#1477b3" opacity="0.85"/><ellipse cx="767.3" cy="154.9" rx="5.6" ry="3.0" transform="rotate(-52 767.3 154.9)" fill="#1477b3" opacity="0.85"/><ellipse cx="815.2" cy="171.8" rx="4.4" ry="4.9" transform="rotate(43 815.2 171.8)" fill="#1477b3" opacity="0.85"/><ellipse cx="750.0" cy="159.2" rx="5.1" ry="3.4" transform="rotate(-28 750.0 159.2)" fill="#1477b3" opacity="0.85"/><ellipse cx="860.8" cy="131.1" rx="4.0" ry="3.1" transform="rotate(54 860.8 131.1)" fill="#1477b3" opacity="0.85"/><ellipse cx="902.2" cy="138.1" rx="4.3" ry="2.1" transform="rotate(50 902.2 138.1)" fill="#1477b3" opacity="0.85"/><ellipse cx="901.2" cy="139.7" rx="4.9" ry="3.6" transform="rotate(-42 901.2 139.7)" fill="#1477b3" opacity="0.85"/><ellipse cx="882.2" cy="150.8" rx="5.5" ry="3.4" transform="rotate(-60 882.2 150.8)" fill="#1477b3" opacity="0.85"/><ellipse cx="805.1" cy="126.9" rx="6.2" ry="4.6" transform="rotate(40 805.1 126.9)" fill="#1477b3" opacity="0.85"/><ellipse cx="802.1" cy="128.7" rx="6.0" ry="4.8" transform="rotate(-50 802.1 128.7)" fill="#1477b3" opacity="0.85"/><ellipse cx="833.5" cy="129.2" rx="5.4" ry="4.2" transform="rotate(-45 833.5 129.2)" fill="#1477b3" opacity="0.85"/><ellipse cx="831.6" cy="151.3" rx="3.2" ry="4.6" transform="rotate(-9 831.6 151.3)" fill="#1477b3" opacity="0.85"/><ellipse cx="785.3" cy="150.8" rx="5.3" ry="2.2" transform="rotate(-23 785.3 150.8)" fill="#1477b3" opacity="0.85"/><ellipse cx="923.1" cy="155.9" rx="4.0" ry="3.3" transform="rotate(-45 923.1 155.9)" fill="#1477b3" opacity="0.85"/><ellipse cx="787.5" cy="141.6" rx="4.6" ry="2.3" transform="rotate(-34 787.5 141.6)" fill="#1477b3" opacity="0.85"/><ellipse cx="760.5" cy="155.0" rx="3.0" ry="4.7" transform="rotate(43 760.5 155.0)" fill="#1477b3" opacity="0.85"/><ellipse cx="760.5" cy="136.9" rx="5.0" ry="2.2" transform="rotate(-44 760.5 136.9)" fill="#1477b3" opacity="0.85"/><ellipse cx="912.7" cy="152.3" rx="4.1" ry="4.2" transform="rotate(37 912.7 152.3)" fill="#1477b3" opacity="0.85"/><ellipse cx="781.5" cy="130.5" rx="3.9" ry="3.0" transform="rotate(-4 781.5 130.5)" fill="#1477b3" opacity="0.85"/><ellipse cx="876.3" cy="157.0" rx="6.4" ry="1.8" transform="rotate(-12 876.3 157.0)" fill="#1477b3" opacity="0.85"/><ellipse cx="807.7" cy="165.6" rx="3.1" ry="2.2" transform="rotate(-6 807.7 165.6)" fill="#1477b3" opacity="0.85"/><ellipse cx="822.3" cy="138.8" rx="3.1" ry="4.7" transform="rotate(-7 822.3 138.8)" fill="#1477b3" opacity="0.85"/><ellipse cx="899.6" cy="151.3" rx="2.2" ry="5.0" transform="rotate(40 899.6 151.3)" fill="#1477b3" opacity="0.85"/><ellipse cx="918.5" cy="168.6" rx="5.8" ry="2.1" transform="rotate(-2 918.5 168.6)" fill="#1477b3" opacity="0.85"/><ellipse cx="785.6" cy="144.4" rx="2.3" ry="2.8" transform="rotate(58 785.6 144.4)" fill="#1477b3" opacity="0.85"/><ellipse cx="794.7" cy="162.1" rx="4.0" ry="3.0" transform="rotate(55 794.7 162.1)" fill="#1477b3" opacity="0.85"/><ellipse cx="923.2" cy="151.6" rx="5.2" ry="2.0" transform="rotate(-24 923.2 151.6)" fill="#1477b3" opacity="0.85"/><ellipse cx="918.5" cy="152.6" rx="4.4" ry="4.1" transform="rotate(-53 918.5 152.6)" fill="#1477b3" opacity="0.85"/><ellipse cx="850.8" cy="149.1" rx="5.8" ry="2.1" transform="rotate(55 850.8 149.1)" fill="#1477b3" opacity="0.85"/><ellipse cx="762.1" cy="134.5" rx="4.7" ry="3.9" transform="rotate(-32 762.1 134.5)" fill="#1477b3" opacity="0.85"/><ellipse cx="769.1" cy="167.0" rx="3.1" ry="3.6" transform="rotate(14 769.1 167.0)" fill="#1477b3" opacity="0.85"/><ellipse cx="821.8" cy="152.8" rx="4.4" ry="4.8" transform="rotate(-35 821.8 152.8)" fill="#1477b3" opacity="0.85"/><ellipse cx="874.0" cy="137.0" rx="3.8" ry="3.9" transform="rotate(-24 874.0 137.0)" fill="#1477b3" opacity="0.85"/><ellipse cx="803.6" cy="160.6" rx="2.3" ry="3.1" transform="rotate(60 803.6 160.6)" fill="#1477b3" opacity="0.85"/><ellipse cx="923.3" cy="129.4" rx="3.0" ry="2.4" transform="rotate(52 923.3 129.4)" fill="#1477b3" opacity="0.85"/><ellipse cx="903.0" cy="166.4" rx="3.7" ry="2.1" transform="rotate(40 903.0 166.4)" fill="#1477b3" opacity="0.85"/><ellipse cx="871.8" cy="154.1" rx="6.4" ry="3.8" transform="rotate(-59 871.8 154.1)" fill="#1477b3" opacity="0.85"/><ellipse cx="891.8" cy="139.8" rx="5.0" ry="4.8" transform="rotate(-44 891.8 139.8)" fill="#1477b3" opacity="0.85"/><ellipse cx="768.3" cy="130.9" rx="4.5" ry="2.5" transform="rotate(13 768.3 130.9)" fill="#1477b3" opacity="0.85"/><ellipse cx="874.3" cy="135.4" rx="4.9" ry="2.4" transform="rotate(-1 874.3 135.4)" fill="#1477b3" opacity="0.85"/><ellipse cx="907.3" cy="164.9" rx="2.4" ry="3.0" transform="rotate(-27 907.3 164.9)" fill="#1477b3" opacity="0.85"/><ellipse cx="748.6" cy="161.5" rx="4.9" ry="2.4" transform="rotate(29 748.6 161.5)" fill="#1477b3" opacity="0.85"/><ellipse cx="845.1" cy="145.7" rx="2.0" ry="1.8" transform="rotate(46 845.1 145.7)" fill="#1477b3" opacity="0.85"/><ellipse cx="907.1" cy="151.1" rx="5.8" ry="3.5" transform="rotate(-42 907.1 151.1)" fill="#1477b3" opacity="0.85"/><ellipse cx="770.4" cy="140.2" rx="6.0" ry="4.3" transform="rotate(43 770.4 140.2)" fill="#1477b3" opacity="0.85"/><ellipse cx="906.2" cy="135.7" rx="3.1" ry="1.9" transform="rotate(34 906.2 135.7)" fill="#1477b3" opacity="0.85"/><ellipse cx="903.6" cy="144.7" rx="4.8" ry="2.0" transform="rotate(52 903.6 144.7)" fill="#1477b3" opacity="0.85"/><ellipse cx="900.2" cy="170.9" rx="5.6" ry="4.6" transform="rotate(-57 900.2 170.9)" fill="#1477b3" opacity="0.85"/><ellipse cx="877.6" cy="141.3" rx="6.2" ry="4.3" transform="rotate(44 877.6 141.3)" fill="#1477b3" opacity="0.85"/><ellipse cx="890.7" cy="138.3" rx="5.5" ry="1.9" transform="rotate(45 890.7 138.3)" fill="#1477b3" opacity="0.85"/><ellipse cx="899.1" cy="136.2" rx="5.7" ry="3.1" transform="rotate(-23 899.1 136.2)" fill="#1477b3" opacity="0.85"/><ellipse cx="888.0" cy="136.5" rx="2.1" ry="2.2" transform="rotate(-21 888.0 136.5)" fill="#1477b3" opacity="0.85"/><ellipse cx="900.1" cy="170.5" rx="3.3" ry="3.7" transform="rotate(-12 900.1 170.5)" fill="#1477b3" opacity="0.85"/><ellipse cx="920.7" cy="147.7" rx="6.7" ry="1.3" transform="rotate(66 920.7 147.7)" fill="#5ccdf7" opacity="0.8"/><ellipse cx="779.4" cy="168.2" rx="3.3" ry="1.3" transform="rotate(-9 779.4 168.2)" fill="#5ccdf7" opacity="0.8"/><ellipse cx="876.2" cy="137.1" rx="5.0" ry="2.3" transform="rotate(-16 876.2 137.1)" fill="#5ccdf7" opacity="0.8"/><ellipse cx="849.5" cy="134.2" rx="5.5" ry="1.0" transform="rotate(60 849.5 134.2)" fill="#5ccdf7" opacity="0.8"/><ellipse cx="842.8" cy="156.5" rx="5.7" ry="2.7" transform="rotate(-19 842.8 156.5)" fill="#5ccdf7" opacity="0.8"/><ellipse cx="760.3" cy="153.9" rx="3.7" ry="1.8" transform="rotate(49 760.3 153.9)" fill="#5ccdf7" opacity="0.8"/><ellipse cx="874.7" cy="136.4" rx="3.5" ry="2.0" transform="rotate(-14 874.7 136.4)" fill="#5ccdf7" opacity="0.8"/><ellipse cx="800.0" cy="128.1" rx="4.1" ry="3.4" transform="rotate(25 800.0 128.1)" fill="#5ccdf7" opacity="0.8"/><ellipse cx="906.9" cy="151.5" rx="3.5" ry="2.4" transform="rotate(-70 906.9 151.5)" fill="#5ccdf7" opacity="0.8"/><ellipse cx="798.5" cy="142.6" rx="4.9" ry="2.6" transform="rotate(-5 798.5 142.6)" fill="#5ccdf7" opacity="0.8"/><ellipse cx="825.8" cy="132.3" rx="4.4" ry="3.3" transform="rotate(41 825.8 132.3)" fill="#5ccdf7" opacity="0.8"/><ellipse cx="777.9" cy="126.1" rx="4.6" ry="2.6" transform="rotate(-23 777.9 126.1)" fill="#5ccdf7" opacity="0.8"/><ellipse cx="892.0" cy="158.1" rx="5.4" ry="1.6" transform="rotate(-42 892.0 158.1)" fill="#5ccdf7" opacity="0.8"/><ellipse cx="752.3" cy="133.8" rx="4.4" ry="3.1" transform="rotate(-60 752.3 133.8)" fill="#5ccdf7" opacity="0.8"/><ellipse cx="820.9" cy="152.2" rx="3.0" ry="2.7" transform="rotate(-1 820.9 152.2)" fill="#5ccdf7" opacity="0.8"/><ellipse cx="790.9" cy="153.5" rx="2.0" ry="2.9" transform="rotate(38 790.9 153.5)" fill="#5ccdf7" opacity="0.8"/><ellipse cx="766.8" cy="142.4" rx="2.9" ry="3.4" transform="rotate(3 766.8 142.4)" fill="#5ccdf7" opacity="0.8"/><ellipse cx="756.8" cy="134.0" rx="6.2" ry="2.1" transform="rotate(42 756.8 134.0)" fill="#5ccdf7" opacity="0.8"/><ellipse cx="865.5" cy="169.4" rx="5.0" ry="3.4" transform="rotate(55 865.5 169.4)" fill="#5ccdf7" opacity="0.8"/><ellipse cx="855.8" cy="156.5" rx="4.5" ry="3.1" transform="rotate(7 855.8 156.5)" fill="#5ccdf7" opacity="0.8"/><ellipse cx="905.9" cy="157.7" rx="4.4" ry="1.6" transform="rotate(-35 905.9 157.7)" fill="#5ccdf7" opacity="0.8"/><ellipse cx="860.2" cy="158.8" rx="4.6" ry="2.6" transform="rotate(-32 860.2 158.8)" fill="#5ccdf7" opacity="0.8"/><ellipse cx="761.6" cy="135.7" rx="3.4" ry="1.8" transform="rotate(6 761.6 135.7)" fill="#5ccdf7" opacity="0.8"/><ellipse cx="772.4" cy="133.1" rx="5.5" ry="2.8" transform="rotate(-61 772.4 133.1)" fill="#5ccdf7" opacity="0.8"/><ellipse cx="819.7" cy="148.0" rx="4.1" ry="1.5" transform="rotate(-11 819.7 148.0)" fill="#5ccdf7" opacity="0.8"/><ellipse cx="907.3" cy="150.0" rx="5.5" ry="3.1" transform="rotate(37 907.3 150.0)" fill="#5ccdf7" opacity="0.8"/><ellipse cx="814.9" cy="122.3" rx="3.8" ry="2.9" transform="rotate(49 814.9 122.3)" fill="#5ccdf7" opacity="0.8"/><ellipse cx="915.8" cy="142.1" rx="5.7" ry="2.4" transform="rotate(14 915.8 142.1)" fill="#5ccdf7" opacity="0.8"/><ellipse cx="786.8" cy="132.5" rx="4.2" ry="1.1" transform="rotate(-23 786.8 132.5)" fill="#5ccdf7" opacity="0.8"/><ellipse cx="867.5" cy="141.4" rx="2.8" ry="2.2" transform="rotate(-52 867.5 141.4)" fill="#5ccdf7" opacity="0.8"/><ellipse cx="857.5" cy="123.3" rx="4.0" ry="2.4" transform="rotate(-66 857.5 123.3)" fill="#5ccdf7" opacity="0.8"/><ellipse cx="861.1" cy="128.5" rx="4.3" ry="1.1" transform="rotate(-17 861.1 128.5)" fill="#5ccdf7" opacity="0.8"/><ellipse cx="785.3" cy="137.7" rx="5.8" ry="1.9" transform="rotate(35 785.3 137.7)" fill="#5ccdf7" opacity="0.8"/><ellipse cx="894.4" cy="134.1" rx="2.4" ry="1.0" transform="rotate(6 894.4 134.1)" fill="#5ccdf7" opacity="0.8"/><ellipse cx="924.0" cy="138.8" rx="5.3" ry="3.0" transform="rotate(21 924.0 138.8)" fill="#5ccdf7" opacity="0.8"/><ellipse cx="880.7" cy="167.6" rx="3.0" ry="1.1" transform="rotate(-49 880.7 167.6)" fill="#5ccdf7" opacity="0.8"/><ellipse cx="770.2" cy="154.1" rx="4.8" ry="1.5" transform="rotate(28 770.2 154.1)" fill="#5ccdf7" opacity="0.8"/><ellipse cx="883.0" cy="130.1" rx="5.0" ry="2.9" transform="rotate(-54 883.0 130.1)" fill="#5ccdf7" opacity="0.8"/><ellipse cx="892.2" cy="168.3" rx="2.5" ry="1.1" transform="rotate(-26 892.2 168.3)" fill="#5ccdf7" opacity="0.8"/><ellipse cx="867.2" cy="168.0" rx="4.0" ry="2.8" transform="rotate(-59 867.2 168.0)" fill="#5ccdf7" opacity="0.8"/><ellipse cx="869.5" cy="152.1" rx="2.5" ry="2.9" transform="rotate(49 869.5 152.1)" fill="#5ccdf7" opacity="0.8"/><ellipse cx="853.7" cy="127.8" rx="6.9" ry="3.0" transform="rotate(-21 853.7 127.8)" fill="#5ccdf7" opacity="0.8"/><ellipse cx="823.4" cy="139.8" rx="4.5" ry="1.9" transform="rotate(49 823.4 139.8)" fill="#5ccdf7" opacity="0.8"/><ellipse cx="892.7" cy="127.1" rx="6.8" ry="2.6" transform="rotate(46 892.7 127.1)" fill="#5ccdf7" opacity="0.8"/><ellipse cx="872.5" cy="142.9" rx="5.7" ry="3.4" transform="rotate(-32 872.5 142.9)" fill="#5ccdf7" opacity="0.8"/><path d="M887.4,149.5 q-8.0,0.8 -5.0,-3.3" stroke="#0f6aa6" stroke-width="3.0" fill="none" stroke-linecap="round" opacity="0.8"/><path d="M795.6,162.1 q2.7,-4.9 5.6,2.6" stroke="#0f6aa6" stroke-width="3.3" fill="none" stroke-linecap="round" opacity="0.8"/><path d="M791.5,146.6 q-5.9,-4.9 0.9,-4.6" stroke="#0f6aa6" stroke-width="1.6" fill="none" stroke-linecap="round" opacity="0.8"/><path d="M894.7,135.3 q2.5,10.3 -7.3,10.7" stroke="#0f6aa6" stroke-width="2.2" fill="none" stroke-linecap="round" opacity="0.8"/><path d="M899.7,156.0 q-0.8,5.0 -4.7,5.0" stroke="#0f6aa6" stroke-width="3.4" fill="none" stroke-linecap="round" opacity="0.8"/><path d="M764.6,156.8 q-10.3,0.8 -6.2,-5.2" stroke="#0f6aa6" stroke-width="2.9" fill="none" stroke-linecap="round" opacity="0.8"/><path d="M859.8,147.6 q1.5,-5.5 5.4,1.3" stroke="#0f6aa6" stroke-width="1.9" fill="none" stroke-linecap="round" opacity="0.8"/><path d="M867.6,140.2 q-7.3,-4.1 -0.5,-5.3" stroke="#0f6aa6" stroke-width="2.6" fill="none" stroke-linecap="round" opacity="0.8"/><path d="M822.3,157.8 q-4.8,8.7 -9.9,3.6" stroke="#0f6aa6" stroke-width="2.0" fill="none" stroke-linecap="round" opacity="0.8"/><path d="M792.7,132.8 q2.1,5.5 -3.5,7.7" stroke="#0f6aa6" stroke-width="2.6" fill="none" stroke-linecap="round" opacity="0.8"/><path d="M879.6,135.4 q1.8,8.2 -5.9,8.9" stroke="#0f6aa6" stroke-width="2.9" fill="none" stroke-linecap="round" opacity="0.8"/><path d="M916.0,149.0 q-1.2,5.6 -5.3,5.0" stroke="#0f6aa6" stroke-width="1.9" fill="none" stroke-linecap="round" opacity="0.8"/><path d="M788.7,135.2 q8.7,0.8 4.1,10.7" stroke="#0f6aa6" stroke-width="2.0" fill="none" stroke-linecap="round" opacity="0.8"/><path d="M915.6,150.1 q-1.9,-5.6 3.6,-1.6" stroke="#0f6aa6" stroke-width="3.2" fill="none" stroke-linecap="round" opacity="0.8"/><path d="M833.4,162.9 q-7.4,-3.7 -0.9,-5.2" stroke="#0f6aa6" stroke-width="2.4" fill="none" stroke-linecap="round" opacity="0.8"/><path d="M781.3,130.1 q7.8,-3.0 6.8,7.9" stroke="#0f6aa6" stroke-width="3.1" fill="none" stroke-linecap="round" opacity="0.8"/><path d="M818.1,131.0 q-3.7,-3.9 1.3,-2.2" stroke="#0f6aa6" stroke-width="1.8" fill="none" stroke-linecap="round" opacity="0.8"/><path d="M845.7,140.2 q5.8,-0.2 3.3,7.8" stroke="#0f6aa6" stroke-width="3.0" fill="none" stroke-linecap="round" opacity="0.8"/><path d="M853.1,159.6 q1.3,8.6 -6.5,8.7" stroke="#0f6aa6" stroke-width="2.4" fill="none" stroke-linecap="round" opacity="0.8"/><path d="M825.3,162.4 q7.1,-0.5 4.2,8.7" stroke="#0f6aa6" stroke-width="2.7" fill="none" stroke-linecap="round" opacity="0.8"/><path d="M853.6,157.6 q6.1,-2.1 5.1,7.0" stroke="#0f6aa6" stroke-width="1.9" fill="none" stroke-linecap="round" opacity="0.8"/><path d="M862.3,134.3 q2.5,4.9 -2.7,7.8" stroke="#0f6aa6" stroke-width="1.5" fill="none" stroke-linecap="round" opacity="0.8"/><path d="M826.6,151.8 q-1.7,6.4 -6.3,5.0" stroke="#0f6aa6" stroke-width="2.9" fill="none" stroke-linecap="round" opacity="0.8"/><path d="M869.5,146.2 q-4.4,-10.6 6.5,-6.4" stroke="#0f6aa6" stroke-width="3.1" fill="none" stroke-linecap="round" opacity="0.8"/><path d="M856.3,154.4 q7.3,-3.3 6.7,7.4" stroke="#0f6aa6" stroke-width="2.6" fill="none" stroke-linecap="round" opacity="0.8"/><path d="M860.1,164.3 q2.5,-4.9 5.5,2.5" stroke="#0f6aa6" stroke-width="1.8" fill="none" stroke-linecap="round" opacity="0.8"/><circle cx="794.1" cy="163.5" r="1.7" fill="#e8f4fb" opacity="0.9"/><circle cx="791.3" cy="152.2" r="1.9" fill="#e8f4fb" opacity="0.9"/><circle cx="853.0" cy="167.0" r="1.7" fill="#e8f4fb" opacity="0.9"/><circle cx="822.1" cy="151.4" r="1.1" fill="#e8f4fb" opacity="0.9"/><circle cx="812.8" cy="155.8" r="1.3" fill="#e8f4fb" opacity="0.9"/><circle cx="761.7" cy="167.3" r="2.1" fill="#e8f4fb" opacity="0.9"/><circle cx="834.3" cy="167.1" r="2.3" fill="#e8f4fb" opacity="0.9"/><circle cx="848.8" cy="154.9" r="1.1" fill="#e8f4fb" opacity="0.9"/><circle cx="861.4" cy="158.5" r="1.8" fill="#e8f4fb" opacity="0.9"/><circle cx="885.4" cy="153.3" r="1.8" fill="#e8f4fb" opacity="0.9"/></g></g><path d="M744,123 q6,-3 10,2 q-6,6 -3,14 q-5,8 -7,18 z" fill="#e9e9e6" opacity="0.9"/><polygon points="743.3,111.5 890.5,110.5 928.3,109.0 928.3,117.0 890.5,120.5 743.3,119.5" fill="#e9e9e6" opacity="0.75"/><path d="M768.4,116.5 q7.4,-2.5 14.7,-1.2" stroke="#fff" stroke-width="3.4" fill="none" stroke-linecap="round" opacity="0.9"/><path d="M768.4,116.5 q7.4,-2.5 14.7,-1.2" stroke="#3c3c3c" stroke-width="1" fill="none" stroke-linecap="round"/><path d="M785.4,115.5 q9.7,-2.5 19.4,-1.2" stroke="#fff" stroke-width="3.4" fill="none" stroke-linecap="round" opacity="0.9"/><path d="M785.4,115.5 q9.7,-2.5 19.4,-1.2" stroke="#3c3c3c" stroke-width="1" fill="none" stroke-linecap="round"/><path d="M809.4,115.0 q9.8,-2.5 19.5,-1.2" stroke="#fff" stroke-width="3.4" fill="none" stroke-linecap="round" opacity="0.9"/><path d="M809.4,115.0 q9.8,-2.5 19.5,-1.2" stroke="#3c3c3c" stroke-width="1" fill="none" stroke-linecap="round"/><path d="M826.5,116.3 q10.3,-2.5 20.5,-1.2" stroke="#fff" stroke-width="3.4" fill="none" stroke-linecap="round" opacity="0.9"/><path d="M826.5,116.3 q10.3,-2.5 20.5,-1.2" stroke="#3c3c3c" stroke-width="1" fill="none" stroke-linecap="round"/><path d="M851.0,114.4 q8.3,-2.5 16.5,-1.2" stroke="#fff" stroke-width="3.4" fill="none" stroke-linecap="round" opacity="0.9"/><path d="M851.0,114.4 q8.3,-2.5 16.5,-1.2" stroke="#3c3c3c" stroke-width="1" fill="none" stroke-linecap="round"/><path d="M870.3,115.4 q8.6,-2.5 17.2,-1.2" stroke="#fff" stroke-width="3.4" fill="none" stroke-linecap="round" opacity="0.9"/><path d="M870.3,115.4 q8.6,-2.5 17.2,-1.2" stroke="#3c3c3c" stroke-width="1" fill="none" stroke-linecap="round"/><path d="M891.5,115.0 q9.6,-2.5 19.3,-1.2" stroke="#fff" stroke-width="3.4" fill="none" stroke-linecap="round" opacity="0.9"/><path d="M891.5,115.0 q9.6,-2.5 19.3,-1.2" stroke="#3c3c3c" stroke-width="1" fill="none" stroke-linecap="round"/>
<path d="M881.8,146 L903,165 M887.9,142.9 L907.2,160.2 M881.8,146 L887.9,142.9" stroke="#111" stroke-width="1.1" stroke-dasharray="4.5 2.6" fill="none"/>
<text x="903.9" y="176" font-size="17.4" fill="#000" text-anchor="start" >Conductive</text>
<text x="921.1" y="192.2" font-size="17.4" fill="#000" text-anchor="start" >sponge</text>
<rect x="738.3" y="220.4" width="204.4" height="109" fill="#fff" stroke="#555" stroke-width="0.9"/>
<circle cx="752.2" cy="213.0" r="7.3" fill="url(#gT)"/>
<circle cx="778.0" cy="213.0" r="7.3" fill="url(#gT)"/>
<circle cx="803.5" cy="213.0" r="7.3" fill="url(#gT)"/>
<circle cx="829.3" cy="213.0" r="7.3" fill="url(#gT)"/>
<circle cx="855.0" cy="213.0" r="7.3" fill="url(#gT)"/>
<circle cx="880.5" cy="213.0" r="7.3" fill="url(#gT)"/>
<circle cx="906.3" cy="213.0" r="7.3" fill="url(#gT)"/>
<circle cx="932.1" cy="213.0" r="7.3" fill="url(#gT)"/>
<line x1="738.3" y1="220.4" x2="942.7" y2="220.4" stroke="#333" stroke-width="1"/>
<path d="M746.7,288.4 L755.6,294.4 M746.7,288.4 L741.5,298.4 M746.7,288.4 L741.5,281.9 M763.6,289.8 L771.5,284.7 M763.6,289.8 L764.2,303.2 M763.6,289.8 L761.8,282.6 M781.5,290.8 L793.1,293.3 M781.5,290.8 L781.1,297.9 M781.5,290.8 L778.1,284.1 M792.5,286.5 L801.0,279.9 M792.5,286.5 L786.6,298.8 M792.5,286.5 L786.9,279.0 M810.2,289.0 L819.4,288.4 M810.2,289.0 L796.1,294.0 M810.2,289.0 L809.7,279.0 M824.9,286.4 L832.1,284.2 M824.9,286.4 L816.9,292.7 M824.9,286.4 L824.6,279.0 M844.5,290.1 L851.2,284.5 M844.5,290.1 L834.9,294.9 M844.5,290.1 L846.2,280.0 M855.0,288.8 L863.5,292.3 M855.0,288.8 L855.5,298.4 M855.0,288.8 L856.8,279.0 M871.1,286.5 L877.5,282.5 M871.1,286.5 L864.3,291.4 M871.1,286.5 L866.7,279.0 M887.3,289.4 L897.9,283.4 M887.3,289.4 L887.4,299.8 M887.3,289.4 L880.1,283.8 M907.8,289.8 L921.4,286.0 M907.8,289.8 L906.6,299.9 M907.8,289.8 L907.6,279.0 M918.4,290.9 L926.7,287.4 M918.4,290.9 L910.8,296.8 M918.4,290.9 L913.0,285.6 M934.1,288.5 L939.5,284.3 M934.1,288.5 L930.5,298.5 M934.1,288.5 L935.6,279.0 M752.4,305.2 L759.9,301.7 M752.4,305.2 L741.5,311.3 M752.4,305.2 L746.0,299.7 M769.2,305.6 L782.5,299.6 M769.2,305.6 L758.9,311.4 M769.2,305.6 L764.7,299.3 M780.8,305.8 L792.6,301.3 M780.8,305.8 L778.3,319.1 M780.8,305.8 L777.4,297.1 M797.5,304.3 L804.7,299.3 M797.5,304.3 L789.5,315.6 M797.5,304.3 L794.3,295.6 M817.7,301.2 L824.8,295.5 M817.7,301.2 L814.4,308.0 M817.7,301.2 L809.5,295.6 M831.4,300.8 L845.3,298.1 M831.4,300.8 L820.0,305.2 M831.4,300.8 L828.6,289.5 M844.6,300.2 L855.8,291.3 M844.6,300.2 L834.0,310.3 M844.6,300.2 L833.5,295.6 M862.5,304.4 L877.0,300.6 M862.5,304.4 L863.2,315.7 M862.5,304.4 L859.9,290.4 M879.8,304.2 L893.0,309.9 M879.8,304.2 L875.9,316.1 M879.8,304.2 L880.5,290.3 M893.7,304.7 L903.8,310.4 M893.7,304.7 L887.2,312.4 M893.7,304.7 L889.1,293.8 M907.5,303.8 L918.3,312.8 M907.5,303.8 L899.9,310.5 M907.5,303.8 L905.4,292.4 M925.4,305.0 L936.3,297.9 M925.4,305.0 L927.0,316.7 M925.4,305.0 L920.9,297.4 M942.8,303.0 L939.5,305.3 M942.8,303.0 L939.5,309.9 M942.8,303.0 L934.0,294.2 M745.2,316.0 L755.6,322.6 M745.2,316.0 L741.5,327.0 M745.2,316.0 L741.5,307.0 M761.0,317.6 L774.0,323.5 M761.0,317.6 L752.2,322.5 M761.0,317.6 L757.3,308.8 M776.4,318.0 L788.7,324.2 M776.4,318.0 L765.7,327.0 M776.4,318.0 L770.3,312.3 M794.1,316.7 L803.6,312.6 M794.1,316.7 L787.0,325.0 M794.1,316.7 L784.5,306.8 M813.1,317.7 L819.1,313.6 M813.1,317.7 L806.7,321.4 M813.1,317.7 L810.6,306.4 M824.9,319.7 L831.2,314.7 M824.9,319.7 L821.6,326.2 M824.9,319.7 L824.4,310.9 M839.6,315.3 L850.0,317.2 M839.6,315.3 L831.7,324.6 M839.6,315.3 L838.4,300.7 M858.7,316.2 L867.1,315.9 M858.7,316.2 L860.4,326.8 M858.7,316.2 L856.9,308.0 M872.0,317.1 L882.8,320.1 M872.0,317.1 L863.7,327.0 M872.0,317.1 L863.8,306.6 M891.6,315.5 L902.1,322.8 M891.6,315.5 L891.5,326.2 M891.6,315.5 L886.9,302.0 M904.3,318.4 L915.8,325.2 M904.3,318.4 L894.5,322.8 M904.3,318.4 L901.7,310.2 M922.1,319.9 L934.6,322.4 M922.1,319.9 L920.3,327.0 M922.1,319.9 L924.5,305.3 M936.8,319.7 L939.5,316.2 M936.8,319.7 L928.4,324.8 M936.8,319.7 L927.5,314.9" stroke="#3f9fd6" stroke-width="3.8" fill="none" stroke-linecap="round"/>
<path d="M746.7,288.4 L755.6,294.4 M746.7,288.4 L741.5,298.4 M746.7,288.4 L741.5,281.9 M763.6,289.8 L771.5,284.7 M763.6,289.8 L764.2,303.2 M763.6,289.8 L761.8,282.6 M781.5,290.8 L793.1,293.3 M781.5,290.8 L781.1,297.9 M781.5,290.8 L778.1,284.1 M792.5,286.5 L801.0,279.9 M792.5,286.5 L786.6,298.8 M792.5,286.5 L786.9,279.0 M810.2,289.0 L819.4,288.4 M810.2,289.0 L796.1,294.0 M810.2,289.0 L809.7,279.0 M824.9,286.4 L832.1,284.2 M824.9,286.4 L816.9,292.7 M824.9,286.4 L824.6,279.0 M844.5,290.1 L851.2,284.5 M844.5,290.1 L834.9,294.9 M844.5,290.1 L846.2,280.0 M855.0,288.8 L863.5,292.3 M855.0,288.8 L855.5,298.4 M855.0,288.8 L856.8,279.0 M871.1,286.5 L877.5,282.5 M871.1,286.5 L864.3,291.4 M871.1,286.5 L866.7,279.0 M887.3,289.4 L897.9,283.4 M887.3,289.4 L887.4,299.8 M887.3,289.4 L880.1,283.8 M907.8,289.8 L921.4,286.0 M907.8,289.8 L906.6,299.9 M907.8,289.8 L907.6,279.0 M918.4,290.9 L926.7,287.4 M918.4,290.9 L910.8,296.8 M918.4,290.9 L913.0,285.6 M934.1,288.5 L939.5,284.3 M934.1,288.5 L930.5,298.5 M934.1,288.5 L935.6,279.0 M752.4,305.2 L759.9,301.7 M752.4,305.2 L741.5,311.3 M752.4,305.2 L746.0,299.7 M769.2,305.6 L782.5,299.6 M769.2,305.6 L758.9,311.4 M769.2,305.6 L764.7,299.3 M780.8,305.8 L792.6,301.3 M780.8,305.8 L778.3,319.1 M780.8,305.8 L777.4,297.1 M797.5,304.3 L804.7,299.3 M797.5,304.3 L789.5,315.6 M797.5,304.3 L794.3,295.6 M817.7,301.2 L824.8,295.5 M817.7,301.2 L814.4,308.0 M817.7,301.2 L809.5,295.6 M831.4,300.8 L845.3,298.1 M831.4,300.8 L820.0,305.2 M831.4,300.8 L828.6,289.5 M844.6,300.2 L855.8,291.3 M844.6,300.2 L834.0,310.3 M844.6,300.2 L833.5,295.6 M862.5,304.4 L877.0,300.6 M862.5,304.4 L863.2,315.7 M862.5,304.4 L859.9,290.4 M879.8,304.2 L893.0,309.9 M879.8,304.2 L875.9,316.1 M879.8,304.2 L880.5,290.3 M893.7,304.7 L903.8,310.4 M893.7,304.7 L887.2,312.4 M893.7,304.7 L889.1,293.8 M907.5,303.8 L918.3,312.8 M907.5,303.8 L899.9,310.5 M907.5,303.8 L905.4,292.4 M925.4,305.0 L936.3,297.9 M925.4,305.0 L927.0,316.7 M925.4,305.0 L920.9,297.4 M942.8,303.0 L939.5,305.3 M942.8,303.0 L939.5,309.9 M942.8,303.0 L934.0,294.2 M745.2,316.0 L755.6,322.6 M745.2,316.0 L741.5,327.0 M745.2,316.0 L741.5,307.0 M761.0,317.6 L774.0,323.5 M761.0,317.6 L752.2,322.5 M761.0,317.6 L757.3,308.8 M776.4,318.0 L788.7,324.2 M776.4,318.0 L765.7,327.0 M776.4,318.0 L770.3,312.3 M794.1,316.7 L803.6,312.6 M794.1,316.7 L787.0,325.0 M794.1,316.7 L784.5,306.8 M813.1,317.7 L819.1,313.6 M813.1,317.7 L806.7,321.4 M813.1,317.7 L810.6,306.4 M824.9,319.7 L831.2,314.7 M824.9,319.7 L821.6,326.2 M824.9,319.7 L824.4,310.9 M839.6,315.3 L850.0,317.2 M839.6,315.3 L831.7,324.6 M839.6,315.3 L838.4,300.7 M858.7,316.2 L867.1,315.9 M858.7,316.2 L860.4,326.8 M858.7,316.2 L856.9,308.0 M872.0,317.1 L882.8,320.1 M872.0,317.1 L863.7,327.0 M872.0,317.1 L863.8,306.6 M891.6,315.5 L902.1,322.8 M891.6,315.5 L891.5,326.2 M891.6,315.5 L886.9,302.0 M904.3,318.4 L915.8,325.2 M904.3,318.4 L894.5,322.8 M904.3,318.4 L901.7,310.2 M922.1,319.9 L934.6,322.4 M922.1,319.9 L920.3,327.0 M922.1,319.9 L924.5,305.3 M936.8,319.7 L939.5,316.2 M936.8,319.7 L928.4,324.8 M936.8,319.7 L927.5,314.9" stroke="#86ecf8" stroke-width="2.6" fill="none" stroke-linecap="round"/>
<circle cx="761.7" cy="295.9" r="7.3" fill="url(#gR)"/>
<circle cx="789.3" cy="295.9" r="7.3" fill="url(#gR)"/>
<circle cx="815.3" cy="295.9" r="7.3" fill="url(#gR)"/>
<circle cx="841.7" cy="295.9" r="7.3" fill="url(#gR)"/>
<circle cx="868.4" cy="295.9" r="7.3" fill="url(#gR)"/>
<circle cx="895.0" cy="295.9" r="7.3" fill="url(#gR)"/>
<circle cx="921.7" cy="295.9" r="7.3" fill="url(#gR)"/>
<circle cx="761.7" cy="315.8" r="7.3" fill="url(#gR)"/>
<circle cx="789.3" cy="315.8" r="7.3" fill="url(#gR)"/>
<circle cx="815.3" cy="315.8" r="7.3" fill="url(#gR)"/>
<circle cx="841.7" cy="315.8" r="7.3" fill="url(#gR)"/>
<circle cx="868.4" cy="315.8" r="7.3" fill="url(#gR)"/>
<circle cx="895.0" cy="315.8" r="7.3" fill="url(#gR)"/>
<circle cx="921.7" cy="315.8" r="7.3" fill="url(#gR)"/>
<g transform="translate(775.9 239.7) scale(0.95)"><path d="M-20.5,-2.8 L-16.5,-6.9 L-10.9,-8 L-5.7,-6.9 L0.2,-7.2 L6.1,-9.6 L12,-7.6 L17.2,-4.6 L18,-2 L19.4,0.9 L20.5,3.5 L15,5 L9.1,6.5 L2.4,5 L-4.3,8.7 L-6.5,9.8 L-12.4,7.6 L-17.2,5 L-19.8,0.2 Z" fill="#1c1c1c" stroke="#1c1c1c" stroke-width="0.8" stroke-linejoin="round"/><path d="M-19.0,-2.6 L-13,0.6 L-5,2.9 L2,-0.2 L9,1.0 L19.5,-1.4" fill="none" stroke="#4a4a4a" stroke-width="0.55"/><path d="M-18.2,-0.9 L-13,2.3 L-5,4.6 L2,1.5 L9,2.7 L19.2,0.3" fill="none" stroke="#4a4a4a" stroke-width="0.55"/><path d="M-17.4,0.8 L-13,4.0 L-5,6.3 L2,3.2 L9,4.4 L18.9,2.0" fill="none" stroke="#4a4a4a" stroke-width="0.55"/><rect x="-14.6" y="-5.9" width="5.4" height="2" rx="0.6" fill="#f41818" stroke="#9a9a9a" stroke-width="0.45"/><rect x="-4.2" y="-5.9" width="5.4" height="2" rx="0.6" fill="#f41818" stroke="#9a9a9a" stroke-width="0.45"/><rect x="6.9" y="-5.9" width="5.4" height="2" rx="0.6" fill="#f41818" stroke="#9a9a9a" stroke-width="0.45"/><text x="-11.9" y="7.4" font-size="11" fill="#f41818" stroke="#f41818" stroke-width="1" text-anchor="middle">+</text><text x="-1.5" y="7.4" font-size="11" fill="#f41818" stroke="#f41818" stroke-width="1" text-anchor="middle">+</text><text x="9.3" y="7.4" font-size="11" fill="#f41818" stroke="#f41818" stroke-width="1" text-anchor="middle">+</text></g>
<g transform="translate(838.1 239.7) scale(0.95)"><path d="M-20.5,-2.8 L-16.5,-6.9 L-10.9,-8 L-5.7,-6.9 L0.2,-7.2 L6.1,-9.6 L12,-7.6 L17.2,-4.6 L18,-2 L19.4,0.9 L20.5,3.5 L15,5 L9.1,6.5 L2.4,5 L-4.3,8.7 L-6.5,9.8 L-12.4,7.6 L-17.2,5 L-19.8,0.2 Z" fill="#1c1c1c" stroke="#1c1c1c" stroke-width="0.8" stroke-linejoin="round"/><path d="M-19.0,-2.6 L-13,0.6 L-5,2.9 L2,-0.2 L9,1.0 L19.5,-1.4" fill="none" stroke="#4a4a4a" stroke-width="0.55"/><path d="M-18.2,-0.9 L-13,2.3 L-5,4.6 L2,1.5 L9,2.7 L19.2,0.3" fill="none" stroke="#4a4a4a" stroke-width="0.55"/><path d="M-17.4,0.8 L-13,4.0 L-5,6.3 L2,3.2 L9,4.4 L18.9,2.0" fill="none" stroke="#4a4a4a" stroke-width="0.55"/><rect x="-14.6" y="-5.9" width="5.4" height="2" rx="0.6" fill="#f41818" stroke="#9a9a9a" stroke-width="0.45"/><rect x="-4.2" y="-5.9" width="5.4" height="2" rx="0.6" fill="#f41818" stroke="#9a9a9a" stroke-width="0.45"/><rect x="6.9" y="-5.9" width="5.4" height="2" rx="0.6" fill="#f41818" stroke="#9a9a9a" stroke-width="0.45"/><text x="-11.9" y="7.4" font-size="11" fill="#f41818" stroke="#f41818" stroke-width="1" text-anchor="middle">+</text><text x="-1.5" y="7.4" font-size="11" fill="#f41818" stroke="#f41818" stroke-width="1" text-anchor="middle">+</text><text x="9.3" y="7.4" font-size="11" fill="#f41818" stroke="#f41818" stroke-width="1" text-anchor="middle">+</text></g>
<g transform="translate(899.5 239.7) scale(0.95)"><path d="M-20.5,-2.8 L-16.5,-6.9 L-10.9,-8 L-5.7,-6.9 L0.2,-7.2 L6.1,-9.6 L12,-7.6 L17.2,-4.6 L18,-2 L19.4,0.9 L20.5,3.5 L15,5 L9.1,6.5 L2.4,5 L-4.3,8.7 L-6.5,9.8 L-12.4,7.6 L-17.2,5 L-19.8,0.2 Z" fill="#1c1c1c" stroke="#1c1c1c" stroke-width="0.8" stroke-linejoin="round"/><path d="M-19.0,-2.6 L-13,0.6 L-5,2.9 L2,-0.2 L9,1.0 L19.5,-1.4" fill="none" stroke="#4a4a4a" stroke-width="0.55"/><path d="M-18.2,-0.9 L-13,2.3 L-5,4.6 L2,1.5 L9,2.7 L19.2,0.3" fill="none" stroke="#4a4a4a" stroke-width="0.55"/><path d="M-17.4,0.8 L-13,4.0 L-5,6.3 L2,3.2 L9,4.4 L18.9,2.0" fill="none" stroke="#4a4a4a" stroke-width="0.55"/><rect x="-14.6" y="-5.9" width="5.4" height="2" rx="0.6" fill="#f41818" stroke="#9a9a9a" stroke-width="0.45"/><rect x="-4.2" y="-5.9" width="5.4" height="2" rx="0.6" fill="#f41818" stroke="#9a9a9a" stroke-width="0.45"/><rect x="6.9" y="-5.9" width="5.4" height="2" rx="0.6" fill="#f41818" stroke="#9a9a9a" stroke-width="0.45"/><text x="-11.9" y="7.4" font-size="11" fill="#f41818" stroke="#f41818" stroke-width="1" text-anchor="middle">+</text><text x="-1.5" y="7.4" font-size="11" fill="#f41818" stroke="#f41818" stroke-width="1" text-anchor="middle">+</text><text x="9.3" y="7.4" font-size="11" fill="#f41818" stroke="#f41818" stroke-width="1" text-anchor="middle">+</text></g>
<g transform="translate(775.9 267.3) scale(0.95)"><path d="M-20.5,-2.8 L-16.5,-6.9 L-10.9,-8 L-5.7,-6.9 L0.2,-7.2 L6.1,-9.6 L12,-7.6 L17.2,-4.6 L18,-2 L19.4,0.9 L20.5,3.5 L15,5 L9.1,6.5 L2.4,5 L-4.3,8.7 L-6.5,9.8 L-12.4,7.6 L-17.2,5 L-19.8,0.2 Z" fill="#1c1c1c" stroke="#1c1c1c" stroke-width="0.8" stroke-linejoin="round"/><path d="M-19.0,-2.6 L-13,0.6 L-5,2.9 L2,-0.2 L9,1.0 L19.5,-1.4" fill="none" stroke="#4a4a4a" stroke-width="0.55"/><path d="M-18.2,-0.9 L-13,2.3 L-5,4.6 L2,1.5 L9,2.7 L19.2,0.3" fill="none" stroke="#4a4a4a" stroke-width="0.55"/><path d="M-17.4,0.8 L-13,4.0 L-5,6.3 L2,3.2 L9,4.4 L18.9,2.0" fill="none" stroke="#4a4a4a" stroke-width="0.55"/><rect x="-14.6" y="-5.9" width="5.4" height="2" rx="0.6" fill="#f41818" stroke="#9a9a9a" stroke-width="0.45"/><rect x="-4.2" y="-5.9" width="5.4" height="2" rx="0.6" fill="#f41818" stroke="#9a9a9a" stroke-width="0.45"/><rect x="6.9" y="-5.9" width="5.4" height="2" rx="0.6" fill="#f41818" stroke="#9a9a9a" stroke-width="0.45"/><text x="-11.9" y="7.4" font-size="11" fill="#f41818" stroke="#f41818" stroke-width="1" text-anchor="middle">+</text><text x="-1.5" y="7.4" font-size="11" fill="#f41818" stroke="#f41818" stroke-width="1" text-anchor="middle">+</text><text x="9.3" y="7.4" font-size="11" fill="#f41818" stroke="#f41818" stroke-width="1" text-anchor="middle">+</text></g>
<g transform="translate(838.1 267.3) scale(0.95)"><path d="M-20.5,-2.8 L-16.5,-6.9 L-10.9,-8 L-5.7,-6.9 L0.2,-7.2 L6.1,-9.6 L12,-7.6 L17.2,-4.6 L18,-2 L19.4,0.9 L20.5,3.5 L15,5 L9.1,6.5 L2.4,5 L-4.3,8.7 L-6.5,9.8 L-12.4,7.6 L-17.2,5 L-19.8,0.2 Z" fill="#1c1c1c" stroke="#1c1c1c" stroke-width="0.8" stroke-linejoin="round"/><path d="M-19.0,-2.6 L-13,0.6 L-5,2.9 L2,-0.2 L9,1.0 L19.5,-1.4" fill="none" stroke="#4a4a4a" stroke-width="0.55"/><path d="M-18.2,-0.9 L-13,2.3 L-5,4.6 L2,1.5 L9,2.7 L19.2,0.3" fill="none" stroke="#4a4a4a" stroke-width="0.55"/><path d="M-17.4,0.8 L-13,4.0 L-5,6.3 L2,3.2 L9,4.4 L18.9,2.0" fill="none" stroke="#4a4a4a" stroke-width="0.55"/><rect x="-14.6" y="-5.9" width="5.4" height="2" rx="0.6" fill="#f41818" stroke="#9a9a9a" stroke-width="0.45"/><rect x="-4.2" y="-5.9" width="5.4" height="2" rx="0.6" fill="#f41818" stroke="#9a9a9a" stroke-width="0.45"/><rect x="6.9" y="-5.9" width="5.4" height="2" rx="0.6" fill="#f41818" stroke="#9a9a9a" stroke-width="0.45"/><text x="-11.9" y="7.4" font-size="11" fill="#f41818" stroke="#f41818" stroke-width="1" text-anchor="middle">+</text><text x="-1.5" y="7.4" font-size="11" fill="#f41818" stroke="#f41818" stroke-width="1" text-anchor="middle">+</text><text x="9.3" y="7.4" font-size="11" fill="#f41818" stroke="#f41818" stroke-width="1" text-anchor="middle">+</text></g>
<g transform="translate(899.5 267.3) scale(0.95)"><path d="M-20.5,-2.8 L-16.5,-6.9 L-10.9,-8 L-5.7,-6.9 L0.2,-7.2 L6.1,-9.6 L12,-7.6 L17.2,-4.6 L18,-2 L19.4,0.9 L20.5,3.5 L15,5 L9.1,6.5 L2.4,5 L-4.3,8.7 L-6.5,9.8 L-12.4,7.6 L-17.2,5 L-19.8,0.2 Z" fill="#1c1c1c" stroke="#1c1c1c" stroke-width="0.8" stroke-linejoin="round"/><path d="M-19.0,-2.6 L-13,0.6 L-5,2.9 L2,-0.2 L9,1.0 L19.5,-1.4" fill="none" stroke="#4a4a4a" stroke-width="0.55"/><path d="M-18.2,-0.9 L-13,2.3 L-5,4.6 L2,1.5 L9,2.7 L19.2,0.3" fill="none" stroke="#4a4a4a" stroke-width="0.55"/><path d="M-17.4,0.8 L-13,4.0 L-5,6.3 L2,3.2 L9,4.4 L18.9,2.0" fill="none" stroke="#4a4a4a" stroke-width="0.55"/><rect x="-14.6" y="-5.9" width="5.4" height="2" rx="0.6" fill="#f41818" stroke="#9a9a9a" stroke-width="0.45"/><rect x="-4.2" y="-5.9" width="5.4" height="2" rx="0.6" fill="#f41818" stroke="#9a9a9a" stroke-width="0.45"/><rect x="6.9" y="-5.9" width="5.4" height="2" rx="0.6" fill="#f41818" stroke="#9a9a9a" stroke-width="0.45"/><text x="-11.9" y="7.4" font-size="11" fill="#f41818" stroke="#f41818" stroke-width="1" text-anchor="middle">+</text><text x="-1.5" y="7.4" font-size="11" fill="#f41818" stroke="#f41818" stroke-width="1" text-anchor="middle">+</text><text x="9.3" y="7.4" font-size="11" fill="#f41818" stroke="#f41818" stroke-width="1" text-anchor="middle">+</text></g>
<circle cx="800.2" cy="235.8" r="7.3" fill="url(#gT)"/>
<circle cx="875.8" cy="233.1" r="7.3" fill="url(#gT)"/>
<circle cx="858.0" cy="253.9" r="7.3" fill="url(#gT)"/>
<circle cx="918.1" cy="256.5" r="7.3" fill="url(#gT)"/>
<circle cx="754.3" cy="273.7" r="7.3" fill="url(#gT)"/>
<circle cx="811.5" cy="269.9" r="7.3" fill="url(#gT)"/>
<path d="M798.1,122.2 L737.4,215 M832.2,123.7 L940.4,215" stroke="#111" stroke-width="1.1" stroke-dasharray="4.5 2.6" fill="none"/>
<path d="M490.3,125.6 L428.3,218 M523.9,128.6 L632.5,218" stroke="#111" stroke-width="1.1" stroke-dasharray="4.5 2.6" fill="none"/>
<clipPath id="pk1"><rect x="92" y="520.1" width="123.5" height="12"/></clipPath><path d="M96.0,525.5 L96.4,525.4 L96.8,525.3 L97.2,525.3 L97.6,525.1 L98.0,525.0 L98.4,524.8 L98.8,524.5 L99.2,524.2 L99.6,523.8 L100.0,523.4 L100.4,522.8 L100.8,522.2 L101.2,521.5 L101.6,520.7 L102.0,519.8 L102.4,518.7 L102.8,516.5 L103.2,512.0 L103.6,503.6 L104.0,491.7 L104.4,478.8 L104.8,467.5 L105.2,459.5 L105.6,454.9 L106.0,452.7 L106.4,451.9 L106.8,451.7 L107.2,451.8 L107.6,452.2 L108.0,453.5 L108.4,456.8 L108.8,463.0 L109.2,472.8 L109.6,485.2 L110.0,498.0 L110.4,508.3 L110.8,514.7 L111.2,517.8 L111.6,519.3 L112.0,520.3 L112.4,521.1 L112.8,521.9 L113.2,522.5 L113.6,523.1 L114.0,523.6 L114.4,524.0 L114.8,524.4 L115.2,524.6 L115.6,524.9 L116.0,525.0 L116.4,525.2 L116.8,525.3 L117.2,525.4 L117.6,525.4 L118.0,525.4 L118.4,525.5 L118.8,525.4 L119.2,525.4 L119.6,525.4 L120.0,525.3 L120.4,525.2 L120.8,525.1 L121.2,524.9 L121.6,524.7 L122.0,524.4 L122.4,524.1 L122.8,523.7 L123.2,523.2 L123.6,522.6 L124.0,522.0 L124.4,521.2 L124.8,520.4 L125.2,519.4 L125.6,518.0 L126.0,515.2 L126.4,509.3 L126.8,499.5 L127.2,486.8 L127.6,474.2 L128.0,464.1 L128.4,457.4 L128.8,453.8 L129.2,452.3 L129.6,451.8 L130.0,451.7 L130.4,451.9 L130.8,452.5 L131.2,454.5 L131.6,458.7 L132.0,466.3 L132.4,477.2 L132.8,490.1 L133.2,502.3 L133.6,511.1 L134.0,516.1 L134.4,518.5 L134.8,519.7 L135.2,520.6 L135.6,521.4 L136.0,522.1 L136.4,522.8 L136.8,523.3 L137.2,523.8 L137.6,524.2 L138.0,524.5 L138.4,524.7 L138.8,524.9 L139.2,525.1 L139.6,525.2 L140.0,525.3 L140.4,525.4 L140.8,525.4 L141.2,525.4 L141.6,525.5 L142.0,525.4 L142.4,525.4 L142.8,525.3 L143.2,525.3 L143.6,525.2 L144.0,525.0 L144.4,524.8 L144.8,524.6 L145.2,524.3 L145.6,523.9 L146.0,523.5 L146.4,523.0 L146.8,522.4 L147.2,521.7 L147.6,520.9 L148.0,520.1 L148.4,519.0 L148.8,517.2 L149.2,513.4 L149.6,506.1 L150.0,494.9 L150.4,481.9 L150.8,470.0 L151.2,461.1 L151.6,455.7 L152.0,453.1 L152.4,452.0 L152.8,451.7 L153.2,451.7 L153.6,452.0 L154.0,453.1 L154.4,455.7 L154.8,461.1 L155.2,470.0 L155.6,481.9 L156.0,494.9 L156.4,506.1 L156.8,513.4 L157.2,517.2 L157.6,519.0 L158.0,520.1 L158.4,520.9 L158.8,521.7 L159.2,522.4 L159.6,523.0 L160.0,523.5 L160.4,523.9 L160.8,524.3 L161.2,524.6 L161.6,524.8 L162.0,525.0 L162.4,525.2 L162.8,525.3 L163.2,525.3 L163.6,525.4 L164.0,525.4 L164.4,525.5 L164.8,525.4 L165.2,525.4 L165.6,525.4 L166.0,525.3 L166.4,525.2 L166.8,525.1 L167.2,524.9 L167.6,524.7 L168.0,524.5 L168.4,524.2 L168.8,523.8 L169.2,523.3 L169.6,522.8 L170.0,522.1 L170.4,521.4 L170.8,520.6 L171.2,519.7 L171.6,518.5 L172.0,516.1 L172.4,511.1 L172.8,502.3 L173.2,490.1 L173.6,477.2 L174.0,466.3 L174.4,458.7 L174.8,454.5 L175.2,452.5 L175.6,451.9 L176.0,451.7 L176.4,451.8 L176.8,452.3 L177.2,453.8 L177.6,457.4 L178.0,464.1 L178.4,474.2 L178.8,486.8 L179.2,499.5 L179.6,509.3 L180.0,515.2 L180.4,518.0 L180.8,519.4 L181.2,520.4 L181.6,521.2 L182.0,522.0 L182.4,522.6 L182.8,523.2 L183.2,523.7 L183.6,524.1 L184.0,524.4 L184.4,524.7 L184.8,524.9 L185.2,525.1 L185.6,525.2 L186.0,525.3 L186.4,525.4 L186.8,525.4 L187.2,525.4 L187.6,525.5 L188.0,525.4 L188.4,525.4 L188.8,525.4 L189.2,525.3 L189.6,525.2 L190.0,525.0 L190.4,524.9 L190.8,524.6 L191.2,524.4 L191.6,524.0 L192.0,523.6 L192.4,523.1 L192.8,522.5 L193.2,521.9 L193.6,521.1 L194.0,520.3 L194.4,519.3 L194.8,517.8 L195.2,514.7 L195.6,508.3 L196.0,498.0 L196.4,485.2 L196.8,472.8 L197.2,463.0 L197.6,456.8 L198.0,453.5 L198.4,452.2 L198.8,451.8 L199.2,451.7 L199.6,451.9 L200.0,452.7 L200.4,454.9 L200.8,459.5 L201.2,467.5 L201.6,478.8 L202.0,491.7 L202.4,503.6 L202.8,512.0 L203.2,516.5 L203.6,518.7 L204.0,519.8 L204.4,520.7 L204.8,521.5 L205.2,522.2 L205.6,522.8 L206.0,523.4 L206.4,523.8 L206.8,524.2 L207.2,524.5 L207.6,524.8 L208.0,525.0 L208.4,525.1 L208.8,525.3 L209.2,525.3 L209.6,525.4 L210.0,525.5 L210.4,525.5 L210.8,525.5 L211.2,525.6" stroke="#33659c" stroke-width="2.6" fill="none" stroke-linejoin="round" stroke-linecap="round"/><path d="M96.0,525.5 L96.4,525.4 L96.8,525.3 L97.2,525.3 L97.6,525.1 L98.0,525.0 L98.4,524.8 L98.8,524.5 L99.2,524.2 L99.6,523.8 L100.0,523.4 L100.4,522.8 L100.8,522.2 L101.2,521.5 L101.6,520.7 L102.0,519.8 L102.4,518.7 L102.8,516.5 L103.2,512.0 L103.6,503.6 L104.0,491.7 L104.4,478.8 L104.8,467.5 L105.2,459.5 L105.6,454.9 L106.0,452.7 L106.4,451.9 L106.8,451.7 L107.2,451.8 L107.6,452.2 L108.0,453.5 L108.4,456.8 L108.8,463.0 L109.2,472.8 L109.6,485.2 L110.0,498.0 L110.4,508.3 L110.8,514.7 L111.2,517.8 L111.6,519.3 L112.0,520.3 L112.4,521.1 L112.8,521.9 L113.2,522.5 L113.6,523.1 L114.0,523.6 L114.4,524.0 L114.8,524.4 L115.2,524.6 L115.6,524.9 L116.0,525.0 L116.4,525.2 L116.8,525.3 L117.2,525.4 L117.6,525.4 L118.0,525.4 L118.4,525.5 L118.8,525.4 L119.2,525.4 L119.6,525.4 L120.0,525.3 L120.4,525.2 L120.8,525.1 L121.2,524.9 L121.6,524.7 L122.0,524.4 L122.4,524.1 L122.8,523.7 L123.2,523.2 L123.6,522.6 L124.0,522.0 L124.4,521.2 L124.8,520.4 L125.2,519.4 L125.6,518.0 L126.0,515.2 L126.4,509.3 L126.8,499.5 L127.2,486.8 L127.6,474.2 L128.0,464.1 L128.4,457.4 L128.8,453.8 L129.2,452.3 L129.6,451.8 L130.0,451.7 L130.4,451.9 L130.8,452.5 L131.2,454.5 L131.6,458.7 L132.0,466.3 L132.4,477.2 L132.8,490.1 L133.2,502.3 L133.6,511.1 L134.0,516.1 L134.4,518.5 L134.8,519.7 L135.2,520.6 L135.6,521.4 L136.0,522.1 L136.4,522.8 L136.8,523.3 L137.2,523.8 L137.6,524.2 L138.0,524.5 L138.4,524.7 L138.8,524.9 L139.2,525.1 L139.6,525.2 L140.0,525.3 L140.4,525.4 L140.8,525.4 L141.2,525.4 L141.6,525.5 L142.0,525.4 L142.4,525.4 L142.8,525.3 L143.2,525.3 L143.6,525.2 L144.0,525.0 L144.4,524.8 L144.8,524.6 L145.2,524.3 L145.6,523.9 L146.0,523.5 L146.4,523.0 L146.8,522.4 L147.2,521.7 L147.6,520.9 L148.0,520.1 L148.4,519.0 L148.8,517.2 L149.2,513.4 L149.6,506.1 L150.0,494.9 L150.4,481.9 L150.8,470.0 L151.2,461.1 L151.6,455.7 L152.0,453.1 L152.4,452.0 L152.8,451.7 L153.2,451.7 L153.6,452.0 L154.0,453.1 L154.4,455.7 L154.8,461.1 L155.2,470.0 L155.6,481.9 L156.0,494.9 L156.4,506.1 L156.8,513.4 L157.2,517.2 L157.6,519.0 L158.0,520.1 L158.4,520.9 L158.8,521.7 L159.2,522.4 L159.6,523.0 L160.0,523.5 L160.4,523.9 L160.8,524.3 L161.2,524.6 L161.6,524.8 L162.0,525.0 L162.4,525.2 L162.8,525.3 L163.2,525.3 L163.6,525.4 L164.0,525.4 L164.4,525.5 L164.8,525.4 L165.2,525.4 L165.6,525.4 L166.0,525.3 L166.4,525.2 L166.8,525.1 L167.2,524.9 L167.6,524.7 L168.0,524.5 L168.4,524.2 L168.8,523.8 L169.2,523.3 L169.6,522.8 L170.0,522.1 L170.4,521.4 L170.8,520.6 L171.2,519.7 L171.6,518.5 L172.0,516.1 L172.4,511.1 L172.8,502.3 L173.2,490.1 L173.6,477.2 L174.0,466.3 L174.4,458.7 L174.8,454.5 L175.2,452.5 L175.6,451.9 L176.0,451.7 L176.4,451.8 L176.8,452.3 L177.2,453.8 L177.6,457.4 L178.0,464.1 L178.4,474.2 L178.8,486.8 L179.2,499.5 L179.6,509.3 L180.0,515.2 L180.4,518.0 L180.8,519.4 L181.2,520.4 L181.6,521.2 L182.0,522.0 L182.4,522.6 L182.8,523.2 L183.2,523.7 L183.6,524.1 L184.0,524.4 L184.4,524.7 L184.8,524.9 L185.2,525.1 L185.6,525.2 L186.0,525.3 L186.4,525.4 L186.8,525.4 L187.2,525.4 L187.6,525.5 L188.0,525.4 L188.4,525.4 L188.8,525.4 L189.2,525.3 L189.6,525.2 L190.0,525.0 L190.4,524.9 L190.8,524.6 L191.2,524.4 L191.6,524.0 L192.0,523.6 L192.4,523.1 L192.8,522.5 L193.2,521.9 L193.6,521.1 L194.0,520.3 L194.4,519.3 L194.8,517.8 L195.2,514.7 L195.6,508.3 L196.0,498.0 L196.4,485.2 L196.8,472.8 L197.2,463.0 L197.6,456.8 L198.0,453.5 L198.4,452.2 L198.8,451.8 L199.2,451.7 L199.6,451.9 L200.0,452.7 L200.4,454.9 L200.8,459.5 L201.2,467.5 L201.6,478.8 L202.0,491.7 L202.4,503.6 L202.8,512.0 L203.2,516.5 L203.6,518.7 L204.0,519.8 L204.4,520.7 L204.8,521.5 L205.2,522.2 L205.6,522.8 L206.0,523.4 L206.4,523.8 L206.8,524.2 L207.2,524.5 L207.6,524.8 L208.0,525.0 L208.4,525.1 L208.8,525.3 L209.2,525.3 L209.6,525.4 L210.0,525.5 L210.4,525.5 L210.8,525.5 L211.2,525.6" stroke="#33659c" stroke-width="4.8" fill="none" stroke-linejoin="round" stroke-linecap="round" clip-path="url(#pk1)"/>
<clipPath id="pk2"><rect x="234.5" y="520.1" width="123.0" height="12"/></clipPath><path d="M238.5,525.5 L238.9,525.5 L239.3,525.5 L239.7,525.4 L240.1,525.4 L240.5,525.3 L240.9,525.2 L241.3,525.1 L241.7,524.9 L242.1,524.6 L242.5,524.4 L242.9,524.0 L243.3,523.6 L243.7,523.1 L244.1,522.5 L244.5,521.9 L244.9,521.1 L245.3,520.3 L245.7,519.3 L246.1,517.6 L246.5,513.6 L246.9,505.3 L247.3,491.6 L247.7,474.5 L248.1,457.9 L248.5,444.9 L248.9,436.7 L249.3,432.4 L249.7,430.7 L250.1,430.3 L250.5,430.2 L250.9,430.4 L251.3,431.4 L251.7,434.2 L252.1,440.2 L252.5,450.8 L252.9,465.9 L253.3,483.3 L253.7,499.1 L254.1,510.2 L254.5,516.0 L254.9,518.6 L255.3,519.8 L255.7,520.7 L256.1,521.5 L256.5,522.2 L256.9,522.8 L257.3,523.4 L257.7,523.8 L258.1,524.2 L258.5,524.5 L258.9,524.8 L259.3,525.0 L259.7,525.1 L260.1,525.2 L260.5,525.3 L260.9,525.4 L261.3,525.4 L261.7,525.4 L262.1,525.5 L262.5,525.4 L262.9,525.4 L263.3,525.3 L263.7,525.3 L264.1,525.1 L264.5,525.0 L264.9,524.8 L265.3,524.5 L265.7,524.2 L266.1,523.9 L266.5,523.4 L266.9,522.9 L267.3,522.3 L267.7,521.6 L268.1,520.8 L268.5,519.9 L268.9,518.8 L269.3,516.5 L269.7,511.1 L270.1,500.8 L270.5,485.4 L270.9,468.0 L271.3,452.5 L271.7,441.3 L272.1,434.7 L272.5,431.6 L272.9,430.5 L273.3,430.2 L273.7,430.2 L274.1,430.6 L274.5,432.1 L274.9,436.0 L275.3,443.6 L275.7,456.0 L276.1,472.4 L276.5,489.6 L276.9,503.9 L277.3,512.9 L277.7,517.2 L278.1,519.1 L278.5,520.2 L278.9,521.0 L279.3,521.8 L279.7,522.5 L280.1,523.0 L280.5,523.5 L280.9,524.0 L281.3,524.3 L281.7,524.6 L282.1,524.8 L282.5,525.0 L282.9,525.2 L283.3,525.3 L283.7,525.4 L284.1,525.4 L284.5,525.4 L284.9,525.5 L285.3,525.4 L285.7,525.4 L286.1,525.4 L286.5,525.3 L286.9,525.2 L287.3,525.1 L287.7,524.9 L288.1,524.7 L288.5,524.4 L288.9,524.1 L289.3,523.7 L289.7,523.2 L290.1,522.7 L290.5,522.0 L290.9,521.3 L291.3,520.5 L291.7,519.6 L292.1,518.1 L292.5,515.0 L292.9,507.9 L293.3,495.5 L293.7,478.9 L294.1,461.8 L294.5,447.7 L294.9,438.3 L295.3,433.2 L295.7,431.0 L296.1,430.3 L296.5,430.2 L296.9,430.3 L297.3,431.0 L297.7,433.2 L298.1,438.3 L298.5,447.7 L298.9,461.8 L299.3,478.9 L299.7,495.5 L300.1,507.9 L300.5,515.0 L300.9,518.1 L301.3,519.6 L301.7,520.5 L302.1,521.3 L302.5,522.0 L302.9,522.7 L303.3,523.2 L303.7,523.7 L304.1,524.1 L304.5,524.4 L304.9,524.7 L305.3,524.9 L305.7,525.1 L306.1,525.2 L306.5,525.3 L306.9,525.4 L307.3,525.4 L307.7,525.4 L308.1,525.5 L308.5,525.4 L308.9,525.4 L309.3,525.4 L309.7,525.3 L310.1,525.2 L310.5,525.0 L310.9,524.8 L311.3,524.6 L311.7,524.3 L312.1,524.0 L312.5,523.5 L312.9,523.0 L313.3,522.5 L313.7,521.8 L314.1,521.0 L314.5,520.2 L314.9,519.1 L315.3,517.2 L315.7,512.9 L316.1,503.9 L316.5,489.6 L316.9,472.4 L317.3,456.0 L317.7,443.6 L318.1,436.0 L318.5,432.1 L318.9,430.6 L319.3,430.2 L319.7,430.2 L320.1,430.5 L320.5,431.6 L320.9,434.7 L321.3,441.3 L321.7,452.5 L322.1,468.0 L322.5,485.4 L322.9,500.8 L323.3,511.1 L323.7,516.5 L324.1,518.8 L324.5,519.9 L324.9,520.8 L325.3,521.6 L325.7,522.3 L326.1,522.9 L326.5,523.4 L326.9,523.9 L327.3,524.2 L327.7,524.5 L328.1,524.8 L328.5,525.0 L328.9,525.1 L329.3,525.3 L329.7,525.3 L330.1,525.4 L330.5,525.4 L330.9,525.5 L331.3,525.4 L331.7,525.4 L332.1,525.4 L332.5,525.3 L332.9,525.2 L333.3,525.1 L333.7,525.0 L334.1,524.8 L334.5,524.5 L334.9,524.2 L335.3,523.8 L335.7,523.4 L336.1,522.8 L336.5,522.2 L336.9,521.5 L337.3,520.7 L337.7,519.8 L338.1,518.6 L338.5,516.0 L338.9,510.2 L339.3,499.1 L339.7,483.3 L340.1,465.9 L340.5,450.8 L340.9,440.2 L341.3,434.2 L341.7,431.4 L342.1,430.4 L342.5,430.2 L342.9,430.3 L343.3,430.7 L343.7,432.4 L344.1,436.7 L344.5,444.9 L344.9,457.9 L345.3,474.5 L345.7,491.6 L346.1,505.3 L346.5,513.6 L346.9,517.6 L347.3,519.3 L347.7,520.3 L348.1,521.1 L348.5,521.9 L348.9,522.5 L349.3,523.1 L349.7,523.6 L350.1,524.0 L350.5,524.4 L350.9,524.6 L351.3,524.9 L351.7,525.1 L352.1,525.2 L352.5,525.3 L352.9,525.4 L353.3,525.4" stroke="#f00a14" stroke-width="2.6" fill="none" stroke-linejoin="round" stroke-linecap="round"/><path d="M238.5,525.5 L238.9,525.5 L239.3,525.5 L239.7,525.4 L240.1,525.4 L240.5,525.3 L240.9,525.2 L241.3,525.1 L241.7,524.9 L242.1,524.6 L242.5,524.4 L242.9,524.0 L243.3,523.6 L243.7,523.1 L244.1,522.5 L244.5,521.9 L244.9,521.1 L245.3,520.3 L245.7,519.3 L246.1,517.6 L246.5,513.6 L246.9,505.3 L247.3,491.6 L247.7,474.5 L248.1,457.9 L248.5,444.9 L248.9,436.7 L249.3,432.4 L249.7,430.7 L250.1,430.3 L250.5,430.2 L250.9,430.4 L251.3,431.4 L251.7,434.2 L252.1,440.2 L252.5,450.8 L252.9,465.9 L253.3,483.3 L253.7,499.1 L254.1,510.2 L254.5,516.0 L254.9,518.6 L255.3,519.8 L255.7,520.7 L256.1,521.5 L256.5,522.2 L256.9,522.8 L257.3,523.4 L257.7,523.8 L258.1,524.2 L258.5,524.5 L258.9,524.8 L259.3,525.0 L259.7,525.1 L260.1,525.2 L260.5,525.3 L260.9,525.4 L261.3,525.4 L261.7,525.4 L262.1,525.5 L262.5,525.4 L262.9,525.4 L263.3,525.3 L263.7,525.3 L264.1,525.1 L264.5,525.0 L264.9,524.8 L265.3,524.5 L265.7,524.2 L266.1,523.9 L266.5,523.4 L266.9,522.9 L267.3,522.3 L267.7,521.6 L268.1,520.8 L268.5,519.9 L268.9,518.8 L269.3,516.5 L269.7,511.1 L270.1,500.8 L270.5,485.4 L270.9,468.0 L271.3,452.5 L271.7,441.3 L272.1,434.7 L272.5,431.6 L272.9,430.5 L273.3,430.2 L273.7,430.2 L274.1,430.6 L274.5,432.1 L274.9,436.0 L275.3,443.6 L275.7,456.0 L276.1,472.4 L276.5,489.6 L276.9,503.9 L277.3,512.9 L277.7,517.2 L278.1,519.1 L278.5,520.2 L278.9,521.0 L279.3,521.8 L279.7,522.5 L280.1,523.0 L280.5,523.5 L280.9,524.0 L281.3,524.3 L281.7,524.6 L282.1,524.8 L282.5,525.0 L282.9,525.2 L283.3,525.3 L283.7,525.4 L284.1,525.4 L284.5,525.4 L284.9,525.5 L285.3,525.4 L285.7,525.4 L286.1,525.4 L286.5,525.3 L286.9,525.2 L287.3,525.1 L287.7,524.9 L288.1,524.7 L288.5,524.4 L288.9,524.1 L289.3,523.7 L289.7,523.2 L290.1,522.7 L290.5,522.0 L290.9,521.3 L291.3,520.5 L291.7,519.6 L292.1,518.1 L292.5,515.0 L292.9,507.9 L293.3,495.5 L293.7,478.9 L294.1,461.8 L294.5,447.7 L294.9,438.3 L295.3,433.2 L295.7,431.0 L296.1,430.3 L296.5,430.2 L296.9,430.3 L297.3,431.0 L297.7,433.2 L298.1,438.3 L298.5,447.7 L298.9,461.8 L299.3,478.9 L299.7,495.5 L300.1,507.9 L300.5,515.0 L300.9,518.1 L301.3,519.6 L301.7,520.5 L302.1,521.3 L302.5,522.0 L302.9,522.7 L303.3,523.2 L303.7,523.7 L304.1,524.1 L304.5,524.4 L304.9,524.7 L305.3,524.9 L305.7,525.1 L306.1,525.2 L306.5,525.3 L306.9,525.4 L307.3,525.4 L307.7,525.4 L308.1,525.5 L308.5,525.4 L308.9,525.4 L309.3,525.4 L309.7,525.3 L310.1,525.2 L310.5,525.0 L310.9,524.8 L311.3,524.6 L311.7,524.3 L312.1,524.0 L312.5,523.5 L312.9,523.0 L313.3,522.5 L313.7,521.8 L314.1,521.0 L314.5,520.2 L314.9,519.1 L315.3,517.2 L315.7,512.9 L316.1,503.9 L316.5,489.6 L316.9,472.4 L317.3,456.0 L317.7,443.6 L318.1,436.0 L318.5,432.1 L318.9,430.6 L319.3,430.2 L319.7,430.2 L320.1,430.5 L320.5,431.6 L320.9,434.7 L321.3,441.3 L321.7,452.5 L322.1,468.0 L322.5,485.4 L322.9,500.8 L323.3,511.1 L323.7,516.5 L324.1,518.8 L324.5,519.9 L324.9,520.8 L325.3,521.6 L325.7,522.3 L326.1,522.9 L326.5,523.4 L326.9,523.9 L327.3,524.2 L327.7,524.5 L328.1,524.8 L328.5,525.0 L328.9,525.1 L329.3,525.3 L329.7,525.3 L330.1,525.4 L330.5,525.4 L330.9,525.5 L331.3,525.4 L331.7,525.4 L332.1,525.4 L332.5,525.3 L332.9,525.2 L333.3,525.1 L333.7,525.0 L334.1,524.8 L334.5,524.5 L334.9,524.2 L335.3,523.8 L335.7,523.4 L336.1,522.8 L336.5,522.2 L336.9,521.5 L337.3,520.7 L337.7,519.8 L338.1,518.6 L338.5,516.0 L338.9,510.2 L339.3,499.1 L339.7,483.3 L340.1,465.9 L340.5,450.8 L340.9,440.2 L341.3,434.2 L341.7,431.4 L342.1,430.4 L342.5,430.2 L342.9,430.3 L343.3,430.7 L343.7,432.4 L344.1,436.7 L344.5,444.9 L344.9,457.9 L345.3,474.5 L345.7,491.6 L346.1,505.3 L346.5,513.6 L346.9,517.6 L347.3,519.3 L347.7,520.3 L348.1,521.1 L348.5,521.9 L348.9,522.5 L349.3,523.1 L349.7,523.6 L350.1,524.0 L350.5,524.4 L350.9,524.6 L351.3,524.9 L351.7,525.1 L352.1,525.2 L352.5,525.3 L352.9,525.4 L353.3,525.4" stroke="#f00a14" stroke-width="4.8" fill="none" stroke-linejoin="round" stroke-linecap="round" clip-path="url(#pk2)"/>
<clipPath id="pk3"><rect x="401" y="520.1" width="123.5" height="12"/></clipPath><path d="M405.0,525.6 L405.4,525.6 L405.8,525.5 L406.2,525.5 L406.6,525.5 L407.0,525.4 L407.4,525.4 L407.8,525.3 L408.2,525.2 L408.6,525.0 L409.0,524.8 L409.4,524.6 L409.8,524.3 L410.2,523.9 L410.6,523.5 L411.0,523.0 L411.4,522.4 L411.8,521.7 L412.2,520.9 L412.6,520.1 L413.0,518.9 L413.4,516.7 L413.8,511.6 L414.2,501.1 L414.6,485.0 L415.0,466.1 L415.4,448.7 L415.8,435.9 L416.2,428.2 L416.6,424.4 L417.0,423.1 L417.4,422.7 L417.8,422.7 L418.2,423.1 L418.6,424.4 L419.0,428.2 L419.4,435.9 L419.8,448.7 L420.2,466.1 L420.6,485.0 L421.0,501.1 L421.4,511.6 L421.8,516.7 L422.2,518.9 L422.6,520.1 L423.0,520.9 L423.4,521.7 L423.8,522.4 L424.2,523.0 L424.6,523.5 L425.0,523.9 L425.4,524.3 L425.8,524.6 L426.2,524.8 L426.6,525.0 L427.0,525.2 L427.4,525.3 L427.8,525.3 L428.2,525.4 L428.6,525.4 L429.0,525.5 L429.4,525.4 L429.8,525.4 L430.2,525.4 L430.6,525.3 L431.0,525.2 L431.4,525.1 L431.8,524.9 L432.2,524.7 L432.6,524.5 L433.0,524.2 L433.4,523.8 L433.8,523.3 L434.2,522.8 L434.6,522.1 L435.0,521.4 L435.4,520.6 L435.8,519.7 L436.2,518.3 L436.6,515.3 L437.0,508.4 L437.4,495.6 L437.8,478.0 L438.2,459.2 L438.6,443.3 L439.0,432.4 L439.4,426.4 L439.8,423.7 L440.2,422.9 L440.6,422.7 L441.0,422.8 L441.4,423.4 L441.8,425.5 L442.2,430.5 L442.6,440.1 L443.0,454.8 L443.4,473.2 L443.8,491.6 L444.2,505.7 L444.6,514.0 L445.0,517.8 L445.4,519.4 L445.8,520.4 L446.2,521.2 L446.6,522.0 L447.0,522.6 L447.4,523.2 L447.8,523.7 L448.2,524.1 L448.6,524.4 L449.0,524.7 L449.4,524.9 L449.8,525.1 L450.2,525.2 L450.6,525.3 L451.0,525.4 L451.4,525.4 L451.8,525.4 L452.2,525.5 L452.6,525.4 L453.0,525.4 L453.4,525.4 L453.8,525.3 L454.2,525.2 L454.6,525.0 L455.0,524.9 L455.4,524.6 L455.8,524.4 L456.2,524.0 L456.6,523.6 L457.0,523.1 L457.4,522.5 L457.8,521.9 L458.2,521.1 L458.6,520.3 L459.0,519.3 L459.4,517.5 L459.8,513.3 L460.2,504.3 L460.6,489.4 L461.0,470.8 L461.4,452.7 L461.8,438.6 L462.2,429.7 L462.6,425.1 L463.0,423.3 L463.4,422.8 L463.8,422.7 L464.2,422.9 L464.6,423.9 L465.0,426.9 L465.4,433.5 L465.8,445.0 L466.2,461.4 L466.6,480.3 L467.0,497.5 L467.4,509.5 L467.8,515.8 L468.2,518.5 L468.6,519.8 L469.0,520.7 L469.4,521.5 L469.8,522.2 L470.2,522.8 L470.6,523.4 L471.0,523.8 L471.4,524.2 L471.8,524.5 L472.2,524.8 L472.6,525.0 L473.0,525.1 L473.4,525.2 L473.8,525.3 L474.2,525.4 L474.6,525.4 L475.0,525.4 L475.4,525.5 L475.8,525.4 L476.2,525.4 L476.6,525.3 L477.0,525.3 L477.4,525.1 L477.8,525.0 L478.2,524.8 L478.6,524.5 L479.0,524.2 L479.4,523.9 L479.8,523.4 L480.2,522.9 L480.6,522.3 L481.0,521.6 L481.4,520.8 L481.8,519.9 L482.2,518.7 L482.6,516.3 L483.0,510.6 L483.4,499.4 L483.8,482.7 L484.2,463.7 L484.6,446.8 L485.0,434.7 L485.4,427.5 L485.8,424.2 L486.2,423.0 L486.6,422.7 L487.0,422.7 L487.4,423.2 L487.8,424.7 L488.2,428.9 L488.6,437.2 L489.0,450.7 L489.4,468.4 L489.8,487.2 L490.2,502.7 L490.6,512.5 L491.0,517.1 L491.4,519.1 L491.8,520.2 L492.2,521.0 L492.6,521.8 L493.0,522.5 L493.4,523.0 L493.8,523.5 L494.2,524.0 L494.6,524.3 L495.0,524.6 L495.4,524.8 L495.8,525.0 L496.2,525.2 L496.6,525.3 L497.0,525.4 L497.4,525.4 L497.8,525.4 L498.2,525.5 L498.6,525.4 L499.0,525.4 L499.4,525.4 L499.8,525.3 L500.2,525.2 L500.6,525.1 L501.0,524.9 L501.4,524.7 L501.8,524.4 L502.2,524.1 L502.6,523.7 L503.0,523.2 L503.4,522.7 L503.8,522.0 L504.2,521.3 L504.6,520.5 L505.0,519.6 L505.4,518.1 L505.8,514.7 L506.2,507.1 L506.6,493.6 L507.0,475.6 L507.4,457.0 L507.8,441.7 L508.2,431.4 L508.6,425.9 L509.0,423.6 L509.4,422.8 L509.8,422.7 L510.2,422.8 L510.6,423.6 L511.0,425.9 L511.4,431.4 L511.8,441.7 L512.2,457.0 L512.6,475.6 L513.0,493.6 L513.4,507.1 L513.8,514.7 L514.2,518.1 L514.6,519.6 L515.0,520.5 L515.4,521.3 L515.8,522.0 L516.2,522.7 L516.6,523.2 L517.0,523.7 L517.4,524.1 L517.8,524.4 L518.2,524.7 L518.6,524.9 L519.0,525.1 L519.4,525.2 L519.8,525.3 L520.2,525.4" stroke="#33659c" stroke-width="2.6" fill="none" stroke-linejoin="round" stroke-linecap="round"/><path d="M405.0,525.6 L405.4,525.6 L405.8,525.5 L406.2,525.5 L406.6,525.5 L407.0,525.4 L407.4,525.4 L407.8,525.3 L408.2,525.2 L408.6,525.0 L409.0,524.8 L409.4,524.6 L409.8,524.3 L410.2,523.9 L410.6,523.5 L411.0,523.0 L411.4,522.4 L411.8,521.7 L412.2,520.9 L412.6,520.1 L413.0,518.9 L413.4,516.7 L413.8,511.6 L414.2,501.1 L414.6,485.0 L415.0,466.1 L415.4,448.7 L415.8,435.9 L416.2,428.2 L416.6,424.4 L417.0,423.1 L417.4,422.7 L417.8,422.7 L418.2,423.1 L418.6,424.4 L419.0,428.2 L419.4,435.9 L419.8,448.7 L420.2,466.1 L420.6,485.0 L421.0,501.1 L421.4,511.6 L421.8,516.7 L422.2,518.9 L422.6,520.1 L423.0,520.9 L423.4,521.7 L423.8,522.4 L424.2,523.0 L424.6,523.5 L425.0,523.9 L425.4,524.3 L425.8,524.6 L426.2,524.8 L426.6,525.0 L427.0,525.2 L427.4,525.3 L427.8,525.3 L428.2,525.4 L428.6,525.4 L429.0,525.5 L429.4,525.4 L429.8,525.4 L430.2,525.4 L430.6,525.3 L431.0,525.2 L431.4,525.1 L431.8,524.9 L432.2,524.7 L432.6,524.5 L433.0,524.2 L433.4,523.8 L433.8,523.3 L434.2,522.8 L434.6,522.1 L435.0,521.4 L435.4,520.6 L435.8,519.7 L436.2,518.3 L436.6,515.3 L437.0,508.4 L437.4,495.6 L437.8,478.0 L438.2,459.2 L438.6,443.3 L439.0,432.4 L439.4,426.4 L439.8,423.7 L440.2,422.9 L440.6,422.7 L441.0,422.8 L441.4,423.4 L441.8,425.5 L442.2,430.5 L442.6,440.1 L443.0,454.8 L443.4,473.2 L443.8,491.6 L444.2,505.7 L444.6,514.0 L445.0,517.8 L445.4,519.4 L445.8,520.4 L446.2,521.2 L446.6,522.0 L447.0,522.6 L447.4,523.2 L447.8,523.7 L448.2,524.1 L448.6,524.4 L449.0,524.7 L449.4,524.9 L449.8,525.1 L450.2,525.2 L450.6,525.3 L451.0,525.4 L451.4,525.4 L451.8,525.4 L452.2,525.5 L452.6,525.4 L453.0,525.4 L453.4,525.4 L453.8,525.3 L454.2,525.2 L454.6,525.0 L455.0,524.9 L455.4,524.6 L455.8,524.4 L456.2,524.0 L456.6,523.6 L457.0,523.1 L457.4,522.5 L457.8,521.9 L458.2,521.1 L458.6,520.3 L459.0,519.3 L459.4,517.5 L459.8,513.3 L460.2,504.3 L460.6,489.4 L461.0,470.8 L461.4,452.7 L461.8,438.6 L462.2,429.7 L462.6,425.1 L463.0,423.3 L463.4,422.8 L463.8,422.7 L464.2,422.9 L464.6,423.9 L465.0,426.9 L465.4,433.5 L465.8,445.0 L466.2,461.4 L466.6,480.3 L467.0,497.5 L467.4,509.5 L467.8,515.8 L468.2,518.5 L468.6,519.8 L469.0,520.7 L469.4,521.5 L469.8,522.2 L470.2,522.8 L470.6,523.4 L471.0,523.8 L471.4,524.2 L471.8,524.5 L472.2,524.8 L472.6,525.0 L473.0,525.1 L473.4,525.2 L473.8,525.3 L474.2,525.4 L474.6,525.4 L475.0,525.4 L475.4,525.5 L475.8,525.4 L476.2,525.4 L476.6,525.3 L477.0,525.3 L477.4,525.1 L477.8,525.0 L478.2,524.8 L478.6,524.5 L479.0,524.2 L479.4,523.9 L479.8,523.4 L480.2,522.9 L480.6,522.3 L481.0,521.6 L481.4,520.8 L481.8,519.9 L482.2,518.7 L482.6,516.3 L483.0,510.6 L483.4,499.4 L483.8,482.7 L484.2,463.7 L484.6,446.8 L485.0,434.7 L485.4,427.5 L485.8,424.2 L486.2,423.0 L486.6,422.7 L487.0,422.7 L487.4,423.2 L487.8,424.7 L488.2,428.9 L488.6,437.2 L489.0,450.7 L489.4,468.4 L489.8,487.2 L490.2,502.7 L490.6,512.5 L491.0,517.1 L491.4,519.1 L491.8,520.2 L492.2,521.0 L492.6,521.8 L493.0,522.5 L493.4,523.0 L493.8,523.5 L494.2,524.0 L494.6,524.3 L495.0,524.6 L495.4,524.8 L495.8,525.0 L496.2,525.2 L496.6,525.3 L497.0,525.4 L497.4,525.4 L497.8,525.4 L498.2,525.5 L498.6,525.4 L499.0,525.4 L499.4,525.4 L499.8,525.3 L500.2,525.2 L500.6,525.1 L501.0,524.9 L501.4,524.7 L501.8,524.4 L502.2,524.1 L502.6,523.7 L503.0,523.2 L503.4,522.7 L503.8,522.0 L504.2,521.3 L504.6,520.5 L505.0,519.6 L505.4,518.1 L505.8,514.7 L506.2,507.1 L506.6,493.6 L507.0,475.6 L507.4,457.0 L507.8,441.7 L508.2,431.4 L508.6,425.9 L509.0,423.6 L509.4,422.8 L509.8,422.7 L510.2,422.8 L510.6,423.6 L511.0,425.9 L511.4,431.4 L511.8,441.7 L512.2,457.0 L512.6,475.6 L513.0,493.6 L513.4,507.1 L513.8,514.7 L514.2,518.1 L514.6,519.6 L515.0,520.5 L515.4,521.3 L515.8,522.0 L516.2,522.7 L516.6,523.2 L517.0,523.7 L517.4,524.1 L517.8,524.4 L518.2,524.7 L518.6,524.9 L519.0,525.1 L519.4,525.2 L519.8,525.3 L520.2,525.4" stroke="#33659c" stroke-width="4.8" fill="none" stroke-linejoin="round" stroke-linecap="round" clip-path="url(#pk3)"/>
<clipPath id="pk4"><rect x="542" y="520.1" width="123" height="12"/></clipPath><path d="M546.0,525.6 L546.4,525.5 L546.8,525.5 L547.2,525.5 L547.6,525.4 L548.0,525.3 L548.4,525.2 L548.8,525.1 L549.2,524.9 L549.6,524.7 L550.0,524.4 L550.4,524.1 L550.8,523.7 L551.2,523.2 L551.6,522.7 L552.0,522.0 L552.4,521.3 L552.8,520.5 L553.2,519.5 L553.6,517.8 L554.0,513.7 L554.4,503.8 L554.8,486.0 L555.2,462.1 L555.6,437.3 L556.0,417.0 L556.4,403.5 L556.8,396.2 L557.2,393.2 L557.6,392.3 L558.0,392.2 L558.4,392.3 L558.8,393.2 L559.2,396.2 L559.6,403.5 L560.0,417.0 L560.4,437.3 L560.8,462.1 L561.2,486.0 L561.6,503.8 L562.0,513.7 L562.4,517.8 L562.8,519.5 L563.2,520.5 L563.6,521.3 L564.0,522.0 L564.4,522.7 L564.8,523.2 L565.2,523.7 L565.6,524.1 L566.0,524.4 L566.4,524.7 L566.8,524.9 L567.2,525.1 L567.6,525.2 L568.0,525.3 L568.4,525.4 L568.8,525.4 L569.2,525.4 L569.6,525.5 L570.0,525.4 L570.4,525.4 L570.8,525.4 L571.2,525.3 L571.6,525.2 L572.0,525.0 L572.4,524.8 L572.8,524.6 L573.2,524.3 L573.6,524.0 L574.0,523.5 L574.4,523.0 L574.8,522.5 L575.2,521.8 L575.6,521.0 L576.0,520.2 L576.4,519.0 L576.8,516.7 L577.2,510.8 L577.6,498.0 L578.0,477.5 L578.4,452.5 L578.8,428.9 L579.2,411.1 L579.6,400.1 L580.0,394.7 L580.4,392.7 L580.8,392.2 L581.2,392.2 L581.6,392.5 L582.0,394.0 L582.4,398.3 L582.8,407.7 L583.2,423.8 L583.6,446.3 L584.0,471.5 L584.4,493.6 L584.8,508.4 L585.2,515.7 L585.6,518.6 L586.0,519.9 L586.4,520.8 L586.8,521.6 L587.2,522.3 L587.6,522.9 L588.0,523.4 L588.4,523.9 L588.8,524.2 L589.2,524.5 L589.6,524.8 L590.0,525.0 L590.4,525.1 L590.8,525.3 L591.2,525.3 L591.6,525.4 L592.0,525.4 L592.4,525.5 L592.8,525.4 L593.2,525.4 L593.6,525.4 L594.0,525.3 L594.4,525.2 L594.8,525.1 L595.2,525.0 L595.6,524.8 L596.0,524.5 L596.4,524.2 L596.8,523.8 L597.2,523.4 L597.6,522.8 L598.0,522.2 L598.4,521.5 L598.8,520.7 L599.2,519.8 L599.6,518.4 L600.0,515.1 L600.4,507.0 L600.8,491.2 L601.2,468.4 L601.6,443.2 L602.0,421.4 L602.4,406.2 L602.8,397.6 L603.2,393.7 L603.6,392.4 L604.0,392.2 L604.4,392.3 L604.8,392.9 L605.2,395.2 L605.6,401.1 L606.0,412.9 L606.4,431.6 L606.8,455.7 L607.2,480.4 L607.6,500.1 L608.0,511.9 L608.4,517.1 L608.8,519.2 L609.2,520.3 L609.6,521.1 L610.0,521.9 L610.4,522.5 L610.8,523.1 L611.2,523.6 L611.6,524.0 L612.0,524.4 L612.4,524.6 L612.8,524.9 L613.2,525.0 L613.6,525.2 L614.0,525.3 L614.4,525.4 L614.8,525.4 L615.2,525.4 L615.6,525.5 L616.0,525.4 L616.4,525.4 L616.8,525.4 L617.2,525.3 L617.6,525.2 L618.0,525.1 L618.4,524.9 L618.8,524.7 L619.2,524.4 L619.6,524.1 L620.0,523.7 L620.4,523.2 L620.8,522.6 L621.2,522.0 L621.6,521.2 L622.0,520.4 L622.4,519.4 L622.8,517.5 L623.2,512.8 L623.6,502.0 L624.0,483.2 L624.4,458.9 L624.8,434.4 L625.2,414.9 L625.6,402.3 L626.0,395.7 L626.4,393.0 L626.8,392.3 L627.2,392.2 L627.6,392.4 L628.0,393.4 L628.4,396.9 L628.8,404.8 L629.2,419.1 L629.6,440.2 L630.0,465.2 L630.4,488.6 L630.8,505.4 L631.2,514.4 L631.6,518.1 L632.0,519.7 L632.4,520.6 L632.8,521.4 L633.2,522.1 L633.6,522.8 L634.0,523.3 L634.4,523.8 L634.8,524.2 L635.2,524.5 L635.6,524.7 L636.0,524.9 L636.4,525.1 L636.8,525.2 L637.2,525.3 L637.6,525.4 L638.0,525.4 L638.4,525.4 L638.8,525.5 L639.2,525.4 L639.6,525.4 L640.0,525.3 L640.4,525.3 L640.8,525.2 L641.2,525.0 L641.6,524.8 L642.0,524.6 L642.4,524.3 L642.8,523.9 L643.2,523.5 L643.6,523.0 L644.0,522.4 L644.4,521.7 L644.8,520.9 L645.2,520.1 L645.6,518.8 L646.0,516.2 L646.4,509.6 L646.8,495.9 L647.2,474.5 L647.6,449.4 L648.0,426.3 L648.4,409.3 L648.8,399.2 L649.2,394.3 L649.6,392.6 L650.0,392.2 L650.4,392.2 L650.8,392.6 L651.2,394.3 L651.6,399.2 L652.0,409.3 L652.4,426.3 L652.8,449.4 L653.2,474.5 L653.6,495.9 L654.0,509.6 L654.4,516.2 L654.8,518.8 L655.2,520.1 L655.6,520.9 L656.0,521.7 L656.4,522.4 L656.8,523.0 L657.2,523.5 L657.6,523.9 L658.0,524.3 L658.4,524.6 L658.8,524.8 L659.2,525.0 L659.6,525.2 L660.0,525.3 L660.4,525.4 L660.8,525.4" stroke="#f00a14" stroke-width="2.6" fill="none" stroke-linejoin="round" stroke-linecap="round"/><path d="M546.0,525.6 L546.4,525.5 L546.8,525.5 L547.2,525.5 L547.6,525.4 L548.0,525.3 L548.4,525.2 L548.8,525.1 L549.2,524.9 L549.6,524.7 L550.0,524.4 L550.4,524.1 L550.8,523.7 L551.2,523.2 L551.6,522.7 L552.0,522.0 L552.4,521.3 L552.8,520.5 L553.2,519.5 L553.6,517.8 L554.0,513.7 L554.4,503.8 L554.8,486.0 L555.2,462.1 L555.6,437.3 L556.0,417.0 L556.4,403.5 L556.8,396.2 L557.2,393.2 L557.6,392.3 L558.0,392.2 L558.4,392.3 L558.8,393.2 L559.2,396.2 L559.6,403.5 L560.0,417.0 L560.4,437.3 L560.8,462.1 L561.2,486.0 L561.6,503.8 L562.0,513.7 L562.4,517.8 L562.8,519.5 L563.2,520.5 L563.6,521.3 L564.0,522.0 L564.4,522.7 L564.8,523.2 L565.2,523.7 L565.6,524.1 L566.0,524.4 L566.4,524.7 L566.8,524.9 L567.2,525.1 L567.6,525.2 L568.0,525.3 L568.4,525.4 L568.8,525.4 L569.2,525.4 L569.6,525.5 L570.0,525.4 L570.4,525.4 L570.8,525.4 L571.2,525.3 L571.6,525.2 L572.0,525.0 L572.4,524.8 L572.8,524.6 L573.2,524.3 L573.6,524.0 L574.0,523.5 L574.4,523.0 L574.8,522.5 L575.2,521.8 L575.6,521.0 L576.0,520.2 L576.4,519.0 L576.8,516.7 L577.2,510.8 L577.6,498.0 L578.0,477.5 L578.4,452.5 L578.8,428.9 L579.2,411.1 L579.6,400.1 L580.0,394.7 L580.4,392.7 L580.8,392.2 L581.2,392.2 L581.6,392.5 L582.0,394.0 L582.4,398.3 L582.8,407.7 L583.2,423.8 L583.6,446.3 L584.0,471.5 L584.4,493.6 L584.8,508.4 L585.2,515.7 L585.6,518.6 L586.0,519.9 L586.4,520.8 L586.8,521.6 L587.2,522.3 L587.6,522.9 L588.0,523.4 L588.4,523.9 L588.8,524.2 L589.2,524.5 L589.6,524.8 L590.0,525.0 L590.4,525.1 L590.8,525.3 L591.2,525.3 L591.6,525.4 L592.0,525.4 L592.4,525.5 L592.8,525.4 L593.2,525.4 L593.6,525.4 L594.0,525.3 L594.4,525.2 L594.8,525.1 L595.2,525.0 L595.6,524.8 L596.0,524.5 L596.4,524.2 L596.8,523.8 L597.2,523.4 L597.6,522.8 L598.0,522.2 L598.4,521.5 L598.8,520.7 L599.2,519.8 L599.6,518.4 L600.0,515.1 L600.4,507.0 L600.8,491.2 L601.2,468.4 L601.6,443.2 L602.0,421.4 L602.4,406.2 L602.8,397.6 L603.2,393.7 L603.6,392.4 L604.0,392.2 L604.4,392.3 L604.8,392.9 L605.2,395.2 L605.6,401.1 L606.0,412.9 L606.4,431.6 L606.8,455.7 L607.2,480.4 L607.6,500.1 L608.0,511.9 L608.4,517.1 L608.8,519.2 L609.2,520.3 L609.6,521.1 L610.0,521.9 L610.4,522.5 L610.8,523.1 L611.2,523.6 L611.6,524.0 L612.0,524.4 L612.4,524.6 L612.8,524.9 L613.2,525.0 L613.6,525.2 L614.0,525.3 L614.4,525.4 L614.8,525.4 L615.2,525.4 L615.6,525.5 L616.0,525.4 L616.4,525.4 L616.8,525.4 L617.2,525.3 L617.6,525.2 L618.0,525.1 L618.4,524.9 L618.8,524.7 L619.2,524.4 L619.6,524.1 L620.0,523.7 L620.4,523.2 L620.8,522.6 L621.2,522.0 L621.6,521.2 L622.0,520.4 L622.4,519.4 L622.8,517.5 L623.2,512.8 L623.6,502.0 L624.0,483.2 L624.4,458.9 L624.8,434.4 L625.2,414.9 L625.6,402.3 L626.0,395.7 L626.4,393.0 L626.8,392.3 L627.2,392.2 L627.6,392.4 L628.0,393.4 L628.4,396.9 L628.8,404.8 L629.2,419.1 L629.6,440.2 L630.0,465.2 L630.4,488.6 L630.8,505.4 L631.2,514.4 L631.6,518.1 L632.0,519.7 L632.4,520.6 L632.8,521.4 L633.2,522.1 L633.6,522.8 L634.0,523.3 L634.4,523.8 L634.8,524.2 L635.2,524.5 L635.6,524.7 L636.0,524.9 L636.4,525.1 L636.8,525.2 L637.2,525.3 L637.6,525.4 L638.0,525.4 L638.4,525.4 L638.8,525.5 L639.2,525.4 L639.6,525.4 L640.0,525.3 L640.4,525.3 L640.8,525.2 L641.2,525.0 L641.6,524.8 L642.0,524.6 L642.4,524.3 L642.8,523.9 L643.2,523.5 L643.6,523.0 L644.0,522.4 L644.4,521.7 L644.8,520.9 L645.2,520.1 L645.6,518.8 L646.0,516.2 L646.4,509.6 L646.8,495.9 L647.2,474.5 L647.6,449.4 L648.0,426.3 L648.4,409.3 L648.8,399.2 L649.2,394.3 L649.6,392.6 L650.0,392.2 L650.4,392.2 L650.8,392.6 L651.2,394.3 L651.6,399.2 L652.0,409.3 L652.4,426.3 L652.8,449.4 L653.2,474.5 L653.6,495.9 L654.0,509.6 L654.4,516.2 L654.8,518.8 L655.2,520.1 L655.6,520.9 L656.0,521.7 L656.4,522.4 L656.8,523.0 L657.2,523.5 L657.6,523.9 L658.0,524.3 L658.4,524.6 L658.8,524.8 L659.2,525.0 L659.6,525.2 L660.0,525.3 L660.4,525.4 L660.8,525.4" stroke="#f00a14" stroke-width="4.8" fill="none" stroke-linejoin="round" stroke-linecap="round" clip-path="url(#pk4)"/>
<clipPath id="pk5"><rect x="709" y="520.1" width="122" height="12"/></clipPath><path d="M713.0,525.4 L713.4,525.3 L713.8,525.3 L714.2,525.1 L714.6,525.0 L715.0,524.8 L715.4,524.5 L715.8,524.2 L716.2,523.8 L716.6,523.4 L717.0,522.8 L717.4,522.2 L717.8,521.5 L718.2,520.7 L718.6,519.8 L719.0,518.3 L719.4,514.7 L719.8,505.6 L720.2,487.8 L720.6,462.1 L721.0,433.7 L721.4,409.1 L721.8,391.9 L722.2,382.2 L722.6,377.8 L723.0,376.5 L723.4,376.2 L723.8,376.3 L724.2,376.9 L724.6,379.5 L725.0,386.2 L725.4,399.5 L725.8,420.6 L726.2,447.8 L726.6,475.7 L727.0,497.9 L727.4,511.1 L727.8,517.0 L728.2,519.2 L728.6,520.3 L729.0,521.1 L729.4,521.9 L729.8,522.5 L730.2,523.1 L730.6,523.6 L731.0,524.0 L731.4,524.4 L731.8,524.6 L732.2,524.9 L732.6,525.0 L733.0,525.2 L733.4,525.3 L733.8,525.4 L734.2,525.4 L734.6,525.4 L735.0,525.5 L735.4,525.4 L735.8,525.4 L736.2,525.4 L736.6,525.3 L737.0,525.2 L737.4,525.1 L737.8,524.9 L738.2,524.7 L738.6,524.4 L739.0,524.1 L739.4,523.7 L739.8,523.2 L740.2,522.6 L740.6,522.0 L741.0,521.2 L741.4,520.4 L741.8,519.4 L742.2,517.4 L742.6,512.2 L743.0,500.0 L743.4,478.9 L743.8,451.4 L744.2,423.7 L744.6,401.7 L745.0,387.4 L745.4,380.0 L745.8,377.1 L746.2,376.3 L746.6,376.2 L747.0,376.4 L747.4,377.6 L747.8,381.4 L748.2,390.3 L748.6,406.5 L749.0,430.3 L749.4,458.5 L749.8,485.0 L750.2,503.9 L750.6,514.0 L751.0,518.0 L751.4,519.7 L751.8,520.6 L752.2,521.4 L752.6,522.1 L753.0,522.8 L753.4,523.3 L753.8,523.8 L754.2,524.2 L754.6,524.5 L755.0,524.7 L755.4,524.9 L755.8,525.1 L756.2,525.2 L756.6,525.3 L757.0,525.4 L757.4,525.4 L757.8,525.4 L758.2,525.5 L758.6,525.4 L759.0,525.4 L759.4,525.3 L759.8,525.3 L760.2,525.2 L760.6,525.0 L761.0,524.8 L761.4,524.6 L761.8,524.3 L762.2,523.9 L762.6,523.5 L763.0,523.0 L763.4,522.4 L763.8,521.7 L764.2,520.9 L764.6,520.0 L765.0,518.8 L765.4,516.0 L765.8,508.6 L766.2,493.1 L766.6,469.0 L767.0,440.6 L767.4,414.6 L767.8,395.4 L768.2,384.0 L768.6,378.6 L769.0,376.6 L769.4,376.2 L769.8,376.2 L770.2,376.6 L770.6,378.6 L771.0,384.0 L771.4,395.4 L771.8,414.6 L772.2,440.6 L772.6,469.0 L773.0,493.1 L773.4,508.6 L773.8,516.0 L774.2,518.8 L774.6,520.0 L775.0,520.9 L775.4,521.7 L775.8,522.4 L776.2,523.0 L776.6,523.5 L777.0,523.9 L777.4,524.3 L777.8,524.6 L778.2,524.8 L778.6,525.0 L779.0,525.2 L779.4,525.3 L779.8,525.3 L780.2,525.4 L780.6,525.4 L781.0,525.5 L781.4,525.4 L781.8,525.4 L782.2,525.4 L782.6,525.3 L783.0,525.2 L783.4,525.1 L783.8,524.9 L784.2,524.7 L784.6,524.5 L785.0,524.2 L785.4,523.8 L785.8,523.3 L786.2,522.8 L786.6,522.1 L787.0,521.4 L787.4,520.6 L787.8,519.7 L788.2,518.0 L788.6,514.0 L789.0,503.9 L789.4,485.0 L789.8,458.5 L790.2,430.3 L790.6,406.5 L791.0,390.3 L791.4,381.4 L791.8,377.6 L792.2,376.4 L792.6,376.2 L793.0,376.3 L793.4,377.1 L793.8,380.0 L794.2,387.4 L794.6,401.7 L795.0,423.7 L795.4,451.4 L795.8,478.9 L796.2,500.0 L796.6,512.2 L797.0,517.4 L797.4,519.4 L797.8,520.4 L798.2,521.2 L798.6,522.0 L799.0,522.6 L799.4,523.2 L799.8,523.7 L800.2,524.1 L800.6,524.4 L801.0,524.7 L801.4,524.9 L801.8,525.1 L802.2,525.2 L802.6,525.3 L803.0,525.4 L803.4,525.4 L803.8,525.4 L804.2,525.5 L804.6,525.4 L805.0,525.4 L805.4,525.4 L805.8,525.3 L806.2,525.2 L806.6,525.0 L807.0,524.9 L807.4,524.6 L807.8,524.4 L808.2,524.0 L808.6,523.6 L809.0,523.1 L809.4,522.5 L809.8,521.9 L810.2,521.1 L810.6,520.3 L811.0,519.2 L811.4,517.0 L811.8,511.1 L812.2,497.9 L812.6,475.7 L813.0,447.8 L813.4,420.6 L813.8,399.5 L814.2,386.2 L814.6,379.5 L815.0,376.9 L815.4,376.3 L815.8,376.2 L816.2,376.5 L816.6,377.8 L817.0,382.2 L817.4,391.9 L817.8,409.1 L818.2,433.7 L818.6,462.1 L819.0,487.8 L819.4,505.6 L819.8,514.7 L820.2,518.3 L820.6,519.8 L821.0,520.7 L821.4,521.5 L821.8,522.2 L822.2,522.8 L822.6,523.4 L823.0,523.8 L823.4,524.2 L823.8,524.5 L824.2,524.8 L824.6,525.0 L825.0,525.1 L825.4,525.3 L825.8,525.3 L826.2,525.4 L826.6,525.5 L827.0,525.5" stroke="#33659c" stroke-width="2.6" fill="none" stroke-linejoin="round" stroke-linecap="round"/><path d="M713.0,525.4 L713.4,525.3 L713.8,525.3 L714.2,525.1 L714.6,525.0 L715.0,524.8 L715.4,524.5 L715.8,524.2 L716.2,523.8 L716.6,523.4 L717.0,522.8 L717.4,522.2 L717.8,521.5 L718.2,520.7 L718.6,519.8 L719.0,518.3 L719.4,514.7 L719.8,505.6 L720.2,487.8 L720.6,462.1 L721.0,433.7 L721.4,409.1 L721.8,391.9 L722.2,382.2 L722.6,377.8 L723.0,376.5 L723.4,376.2 L723.8,376.3 L724.2,376.9 L724.6,379.5 L725.0,386.2 L725.4,399.5 L725.8,420.6 L726.2,447.8 L726.6,475.7 L727.0,497.9 L727.4,511.1 L727.8,517.0 L728.2,519.2 L728.6,520.3 L729.0,521.1 L729.4,521.9 L729.8,522.5 L730.2,523.1 L730.6,523.6 L731.0,524.0 L731.4,524.4 L731.8,524.6 L732.2,524.9 L732.6,525.0 L733.0,525.2 L733.4,525.3 L733.8,525.4 L734.2,525.4 L734.6,525.4 L735.0,525.5 L735.4,525.4 L735.8,525.4 L736.2,525.4 L736.6,525.3 L737.0,525.2 L737.4,525.1 L737.8,524.9 L738.2,524.7 L738.6,524.4 L739.0,524.1 L739.4,523.7 L739.8,523.2 L740.2,522.6 L740.6,522.0 L741.0,521.2 L741.4,520.4 L741.8,519.4 L742.2,517.4 L742.6,512.2 L743.0,500.0 L743.4,478.9 L743.8,451.4 L744.2,423.7 L744.6,401.7 L745.0,387.4 L745.4,380.0 L745.8,377.1 L746.2,376.3 L746.6,376.2 L747.0,376.4 L747.4,377.6 L747.8,381.4 L748.2,390.3 L748.6,406.5 L749.0,430.3 L749.4,458.5 L749.8,485.0 L750.2,503.9 L750.6,514.0 L751.0,518.0 L751.4,519.7 L751.8,520.6 L752.2,521.4 L752.6,522.1 L753.0,522.8 L753.4,523.3 L753.8,523.8 L754.2,524.2 L754.6,524.5 L755.0,524.7 L755.4,524.9 L755.8,525.1 L756.2,525.2 L756.6,525.3 L757.0,525.4 L757.4,525.4 L757.8,525.4 L758.2,525.5 L758.6,525.4 L759.0,525.4 L759.4,525.3 L759.8,525.3 L760.2,525.2 L760.6,525.0 L761.0,524.8 L761.4,524.6 L761.8,524.3 L762.2,523.9 L762.6,523.5 L763.0,523.0 L763.4,522.4 L763.8,521.7 L764.2,520.9 L764.6,520.0 L765.0,518.8 L765.4,516.0 L765.8,508.6 L766.2,493.1 L766.6,469.0 L767.0,440.6 L767.4,414.6 L767.8,395.4 L768.2,384.0 L768.6,378.6 L769.0,376.6 L769.4,376.2 L769.8,376.2 L770.2,376.6 L770.6,378.6 L771.0,384.0 L771.4,395.4 L771.8,414.6 L772.2,440.6 L772.6,469.0 L773.0,493.1 L773.4,508.6 L773.8,516.0 L774.2,518.8 L774.6,520.0 L775.0,520.9 L775.4,521.7 L775.8,522.4 L776.2,523.0 L776.6,523.5 L777.0,523.9 L777.4,524.3 L777.8,524.6 L778.2,524.8 L778.6,525.0 L779.0,525.2 L779.4,525.3 L779.8,525.3 L780.2,525.4 L780.6,525.4 L781.0,525.5 L781.4,525.4 L781.8,525.4 L782.2,525.4 L782.6,525.3 L783.0,525.2 L783.4,525.1 L783.8,524.9 L784.2,524.7 L784.6,524.5 L785.0,524.2 L785.4,523.8 L785.8,523.3 L786.2,522.8 L786.6,522.1 L787.0,521.4 L787.4,520.6 L787.8,519.7 L788.2,518.0 L788.6,514.0 L789.0,503.9 L789.4,485.0 L789.8,458.5 L790.2,430.3 L790.6,406.5 L791.0,390.3 L791.4,381.4 L791.8,377.6 L792.2,376.4 L792.6,376.2 L793.0,376.3 L793.4,377.1 L793.8,380.0 L794.2,387.4 L794.6,401.7 L795.0,423.7 L795.4,451.4 L795.8,478.9 L796.2,500.0 L796.6,512.2 L797.0,517.4 L797.4,519.4 L797.8,520.4 L798.2,521.2 L798.6,522.0 L799.0,522.6 L799.4,523.2 L799.8,523.7 L800.2,524.1 L800.6,524.4 L801.0,524.7 L801.4,524.9 L801.8,525.1 L802.2,525.2 L802.6,525.3 L803.0,525.4 L803.4,525.4 L803.8,525.4 L804.2,525.5 L804.6,525.4 L805.0,525.4 L805.4,525.4 L805.8,525.3 L806.2,525.2 L806.6,525.0 L807.0,524.9 L807.4,524.6 L807.8,524.4 L808.2,524.0 L808.6,523.6 L809.0,523.1 L809.4,522.5 L809.8,521.9 L810.2,521.1 L810.6,520.3 L811.0,519.2 L811.4,517.0 L811.8,511.1 L812.2,497.9 L812.6,475.7 L813.0,447.8 L813.4,420.6 L813.8,399.5 L814.2,386.2 L814.6,379.5 L815.0,376.9 L815.4,376.3 L815.8,376.2 L816.2,376.5 L816.6,377.8 L817.0,382.2 L817.4,391.9 L817.8,409.1 L818.2,433.7 L818.6,462.1 L819.0,487.8 L819.4,505.6 L819.8,514.7 L820.2,518.3 L820.6,519.8 L821.0,520.7 L821.4,521.5 L821.8,522.2 L822.2,522.8 L822.6,523.4 L823.0,523.8 L823.4,524.2 L823.8,524.5 L824.2,524.8 L824.6,525.0 L825.0,525.1 L825.4,525.3 L825.8,525.3 L826.2,525.4 L826.6,525.5 L827.0,525.5" stroke="#33659c" stroke-width="4.8" fill="none" stroke-linejoin="round" stroke-linecap="round" clip-path="url(#pk5)"/>
<clipPath id="pk6"><rect x="849.5" y="520.1" width="122.5" height="12"/></clipPath><path d="M853.5,525.4 L853.9,525.3 L854.3,525.3 L854.7,525.1 L855.1,525.0 L855.5,524.8 L855.9,524.5 L856.3,524.2 L856.7,523.8 L857.1,523.4 L857.5,522.8 L857.9,522.2 L858.3,521.5 L858.7,520.7 L859.1,519.8 L859.5,518.3 L859.9,514.5 L860.3,504.8 L860.7,485.7 L861.1,458.1 L861.5,427.7 L861.9,401.3 L862.3,382.9 L862.7,372.5 L863.1,367.9 L863.5,366.5 L863.9,366.2 L864.3,366.3 L864.7,366.9 L865.1,369.7 L865.5,376.8 L865.9,391.0 L866.3,413.7 L866.7,442.8 L867.1,472.7 L867.5,496.5 L867.9,510.6 L868.3,516.9 L868.7,519.2 L869.1,520.3 L869.5,521.1 L869.9,521.9 L870.3,522.5 L870.7,523.1 L871.1,523.6 L871.5,524.0 L871.9,524.4 L872.3,524.6 L872.7,524.9 L873.1,525.0 L873.5,525.2 L873.9,525.3 L874.3,525.4 L874.7,525.4 L875.1,525.4 L875.5,525.5 L875.9,525.4 L876.3,525.4 L876.7,525.4 L877.1,525.3 L877.5,525.2 L877.9,525.1 L878.3,524.9 L878.7,524.7 L879.1,524.4 L879.5,524.1 L879.9,523.7 L880.3,523.2 L880.7,522.6 L881.1,522.0 L881.5,521.2 L881.9,520.4 L882.3,519.3 L882.7,517.3 L883.1,511.8 L883.5,498.8 L883.9,476.2 L884.3,446.7 L884.7,417.0 L885.1,393.4 L885.5,378.2 L885.9,370.3 L886.3,367.1 L886.7,366.3 L887.1,366.2 L887.5,366.4 L887.9,367.6 L888.3,371.7 L888.7,381.2 L889.1,398.6 L889.5,424.1 L889.9,454.3 L890.3,482.7 L890.7,502.9 L891.1,513.7 L891.5,518.0 L891.9,519.6 L892.3,520.6 L892.7,521.4 L893.1,522.1 L893.5,522.8 L893.9,523.3 L894.3,523.8 L894.7,524.2 L895.1,524.5 L895.5,524.7 L895.9,524.9 L896.3,525.1 L896.7,525.2 L897.1,525.3 L897.5,525.4 L897.9,525.4 L898.3,525.4 L898.7,525.5 L899.1,525.4 L899.5,525.4 L899.9,525.3 L900.3,525.3 L900.7,525.2 L901.1,525.0 L901.5,524.8 L901.9,524.6 L902.3,524.3 L902.7,523.9 L903.1,523.5 L903.5,523.0 L903.9,522.4 L904.3,521.7 L904.7,520.9 L905.1,520.0 L905.5,518.8 L905.9,515.8 L906.3,508.0 L906.7,491.4 L907.1,465.6 L907.5,435.2 L907.9,407.3 L908.3,386.7 L908.7,374.5 L909.1,368.7 L909.5,366.7 L909.9,366.2 L910.3,366.2 L910.7,366.7 L911.1,368.7 L911.5,374.5 L911.9,386.7 L912.3,407.3 L912.7,435.2 L913.1,465.6 L913.5,491.4 L913.9,508.0 L914.3,515.8 L914.7,518.8 L915.1,520.0 L915.5,520.9 L915.9,521.7 L916.3,522.4 L916.7,523.0 L917.1,523.5 L917.5,523.9 L917.9,524.3 L918.3,524.6 L918.7,524.8 L919.1,525.0 L919.5,525.2 L919.9,525.3 L920.3,525.3 L920.7,525.4 L921.1,525.4 L921.5,525.5 L921.9,525.4 L922.3,525.4 L922.7,525.4 L923.1,525.3 L923.5,525.2 L923.9,525.1 L924.3,524.9 L924.7,524.7 L925.1,524.5 L925.5,524.2 L925.9,523.8 L926.3,523.3 L926.7,522.8 L927.1,522.1 L927.5,521.4 L927.9,520.6 L928.3,519.6 L928.7,518.0 L929.1,513.7 L929.5,502.9 L929.9,482.7 L930.3,454.3 L930.7,424.1 L931.1,398.6 L931.5,381.2 L931.9,371.7 L932.3,367.6 L932.7,366.4 L933.1,366.2 L933.5,366.3 L933.9,367.1 L934.3,370.3 L934.7,378.2 L935.1,393.4 L935.5,417.0 L935.9,446.7 L936.3,476.2 L936.7,498.8 L937.1,511.8 L937.5,517.3 L937.9,519.3 L938.3,520.4 L938.7,521.2 L939.1,522.0 L939.5,522.6 L939.9,523.2 L940.3,523.7 L940.7,524.1 L941.1,524.4 L941.5,524.7 L941.9,524.9 L942.3,525.1 L942.7,525.2 L943.1,525.3 L943.5,525.4 L943.9,525.4 L944.3,525.4 L944.7,525.5 L945.1,525.4 L945.5,525.4 L945.9,525.4 L946.3,525.3 L946.7,525.2 L947.1,525.0 L947.5,524.9 L947.9,524.6 L948.3,524.4 L948.7,524.0 L949.1,523.6 L949.5,523.1 L949.9,522.5 L950.3,521.9 L950.7,521.1 L951.1,520.3 L951.5,519.2 L951.9,516.9 L952.3,510.6 L952.7,496.5 L953.1,472.7 L953.5,442.8 L953.9,413.7 L954.3,391.0 L954.7,376.8 L955.1,369.7 L955.5,366.9 L955.9,366.3 L956.3,366.2 L956.7,366.5 L957.1,367.9 L957.5,372.5 L957.9,382.9 L958.3,401.3 L958.7,427.7 L959.1,458.1 L959.5,485.7 L959.9,504.8 L960.3,514.5 L960.7,518.3 L961.1,519.8 L961.5,520.7 L961.9,521.5 L962.3,522.2 L962.7,522.8 L963.1,523.4 L963.5,523.8 L963.9,524.2 L964.3,524.5 L964.7,524.8 L965.1,525.0 L965.5,525.1 L965.9,525.3 L966.3,525.3 L966.7,525.4 L967.1,525.5 L967.5,525.5 L967.9,525.5" stroke="#f00a14" stroke-width="2.6" fill="none" stroke-linejoin="round" stroke-linecap="round"/><path d="M853.5,525.4 L853.9,525.3 L854.3,525.3 L854.7,525.1 L855.1,525.0 L855.5,524.8 L855.9,524.5 L856.3,524.2 L856.7,523.8 L857.1,523.4 L857.5,522.8 L857.9,522.2 L858.3,521.5 L858.7,520.7 L859.1,519.8 L859.5,518.3 L859.9,514.5 L860.3,504.8 L860.7,485.7 L861.1,458.1 L861.5,427.7 L861.9,401.3 L862.3,382.9 L862.7,372.5 L863.1,367.9 L863.5,366.5 L863.9,366.2 L864.3,366.3 L864.7,366.9 L865.1,369.7 L865.5,376.8 L865.9,391.0 L866.3,413.7 L866.7,442.8 L867.1,472.7 L867.5,496.5 L867.9,510.6 L868.3,516.9 L868.7,519.2 L869.1,520.3 L869.5,521.1 L869.9,521.9 L870.3,522.5 L870.7,523.1 L871.1,523.6 L871.5,524.0 L871.9,524.4 L872.3,524.6 L872.7,524.9 L873.1,525.0 L873.5,525.2 L873.9,525.3 L874.3,525.4 L874.7,525.4 L875.1,525.4 L875.5,525.5 L875.9,525.4 L876.3,525.4 L876.7,525.4 L877.1,525.3 L877.5,525.2 L877.9,525.1 L878.3,524.9 L878.7,524.7 L879.1,524.4 L879.5,524.1 L879.9,523.7 L880.3,523.2 L880.7,522.6 L881.1,522.0 L881.5,521.2 L881.9,520.4 L882.3,519.3 L882.7,517.3 L883.1,511.8 L883.5,498.8 L883.9,476.2 L884.3,446.7 L884.7,417.0 L885.1,393.4 L885.5,378.2 L885.9,370.3 L886.3,367.1 L886.7,366.3 L887.1,366.2 L887.5,366.4 L887.9,367.6 L888.3,371.7 L888.7,381.2 L889.1,398.6 L889.5,424.1 L889.9,454.3 L890.3,482.7 L890.7,502.9 L891.1,513.7 L891.5,518.0 L891.9,519.6 L892.3,520.6 L892.7,521.4 L893.1,522.1 L893.5,522.8 L893.9,523.3 L894.3,523.8 L894.7,524.2 L895.1,524.5 L895.5,524.7 L895.9,524.9 L896.3,525.1 L896.7,525.2 L897.1,525.3 L897.5,525.4 L897.9,525.4 L898.3,525.4 L898.7,525.5 L899.1,525.4 L899.5,525.4 L899.9,525.3 L900.3,525.3 L900.7,525.2 L901.1,525.0 L901.5,524.8 L901.9,524.6 L902.3,524.3 L902.7,523.9 L903.1,523.5 L903.5,523.0 L903.9,522.4 L904.3,521.7 L904.7,520.9 L905.1,520.0 L905.5,518.8 L905.9,515.8 L906.3,508.0 L906.7,491.4 L907.1,465.6 L907.5,435.2 L907.9,407.3 L908.3,386.7 L908.7,374.5 L909.1,368.7 L909.5,366.7 L909.9,366.2 L910.3,366.2 L910.7,366.7 L911.1,368.7 L911.5,374.5 L911.9,386.7 L912.3,407.3 L912.7,435.2 L913.1,465.6 L913.5,491.4 L913.9,508.0 L914.3,515.8 L914.7,518.8 L915.1,520.0 L915.5,520.9 L915.9,521.7 L916.3,522.4 L916.7,523.0 L917.1,523.5 L917.5,523.9 L917.9,524.3 L918.3,524.6 L918.7,524.8 L919.1,525.0 L919.5,525.2 L919.9,525.3 L920.3,525.3 L920.7,525.4 L921.1,525.4 L921.5,525.5 L921.9,525.4 L922.3,525.4 L922.7,525.4 L923.1,525.3 L923.5,525.2 L923.9,525.1 L924.3,524.9 L924.7,524.7 L925.1,524.5 L925.5,524.2 L925.9,523.8 L926.3,523.3 L926.7,522.8 L927.1,522.1 L927.5,521.4 L927.9,520.6 L928.3,519.6 L928.7,518.0 L929.1,513.7 L929.5,502.9 L929.9,482.7 L930.3,454.3 L930.7,424.1 L931.1,398.6 L931.5,381.2 L931.9,371.7 L932.3,367.6 L932.7,366.4 L933.1,366.2 L933.5,366.3 L933.9,367.1 L934.3,370.3 L934.7,378.2 L935.1,393.4 L935.5,417.0 L935.9,446.7 L936.3,476.2 L936.7,498.8 L937.1,511.8 L937.5,517.3 L937.9,519.3 L938.3,520.4 L938.7,521.2 L939.1,522.0 L939.5,522.6 L939.9,523.2 L940.3,523.7 L940.7,524.1 L941.1,524.4 L941.5,524.7 L941.9,524.9 L942.3,525.1 L942.7,525.2 L943.1,525.3 L943.5,525.4 L943.9,525.4 L944.3,525.4 L944.7,525.5 L945.1,525.4 L945.5,525.4 L945.9,525.4 L946.3,525.3 L946.7,525.2 L947.1,525.0 L947.5,524.9 L947.9,524.6 L948.3,524.4 L948.7,524.0 L949.1,523.6 L949.5,523.1 L949.9,522.5 L950.3,521.9 L950.7,521.1 L951.1,520.3 L951.5,519.2 L951.9,516.9 L952.3,510.6 L952.7,496.5 L953.1,472.7 L953.5,442.8 L953.9,413.7 L954.3,391.0 L954.7,376.8 L955.1,369.7 L955.5,366.9 L955.9,366.3 L956.3,366.2 L956.7,366.5 L957.1,367.9 L957.5,372.5 L957.9,382.9 L958.3,401.3 L958.7,427.7 L959.1,458.1 L959.5,485.7 L959.9,504.8 L960.3,514.5 L960.7,518.3 L961.1,519.8 L961.5,520.7 L961.9,521.5 L962.3,522.2 L962.7,522.8 L963.1,523.4 L963.5,523.8 L963.9,524.2 L964.3,524.5 L964.7,524.8 L965.1,525.0 L965.5,525.1 L965.9,525.3 L966.3,525.3 L966.7,525.4 L967.1,525.5 L967.5,525.5 L967.9,525.5" stroke="#f00a14" stroke-width="4.8" fill="none" stroke-linejoin="round" stroke-linecap="round" clip-path="url(#pk6)"/>
<line x1="70" y1="338" x2="70" y2="534.6" stroke="#33659c" stroke-width="2.2"/>
<line x1="992.6" y1="338" x2="992.6" y2="534.6" stroke="#f00a14" stroke-width="2.2"/>
<line x1="69" y1="533.6" x2="993.7" y2="533.6" stroke="#000" stroke-width="2.2"/>
<line x1="65" y1="527.0" x2="70" y2="527.0" stroke="#33659c" stroke-width="1.6"/>
<text x="61.9" y="531.4" font-size="13.6" fill="#33659c" text-anchor="end" >0</text>
<line x1="65" y1="466.3" x2="70" y2="466.3" stroke="#33659c" stroke-width="1.6"/>
<text x="61.9" y="470.7" font-size="13.6" fill="#33659c" text-anchor="end" >100</text>
<line x1="65" y1="405.6" x2="70" y2="405.6" stroke="#33659c" stroke-width="1.6"/>
<text x="61.9" y="410.0" font-size="13.6" fill="#33659c" text-anchor="end" >200</text>
<line x1="65" y1="344.9" x2="70" y2="344.9" stroke="#33659c" stroke-width="1.6"/>
<text x="61.9" y="349.29999999999995" font-size="13.6" fill="#33659c" text-anchor="end" >300</text>
<line x1="67.3" y1="496.6" x2="70" y2="496.6" stroke="#33659c" stroke-width="1.4"/>
<line x1="67.3" y1="435.9" x2="70" y2="435.9" stroke="#33659c" stroke-width="1.4"/>
<line x1="67.3" y1="375.2" x2="70" y2="375.2" stroke="#33659c" stroke-width="1.4"/>
<line x1="992.6" y1="526.6" x2="997.6" y2="526.6" stroke="#f00a14" stroke-width="1.6"/>
<text x="1000.6" y="531.0" font-size="13.4" fill="#f00a14" text-anchor="start" >0</text>
<line x1="992.6" y1="489.1" x2="997.6" y2="489.1" stroke="#f00a14" stroke-width="1.6"/>
<text x="1000.6" y="493.5" font-size="13.4" fill="#f00a14" text-anchor="start" >15</text>
<line x1="992.6" y1="451.6" x2="997.6" y2="451.6" stroke="#f00a14" stroke-width="1.6"/>
<text x="1000.6" y="456.0" font-size="13.4" fill="#f00a14" text-anchor="start" >30</text>
<line x1="992.6" y1="414.1" x2="997.6" y2="414.1" stroke="#f00a14" stroke-width="1.6"/>
<text x="1000.6" y="418.5" font-size="13.4" fill="#f00a14" text-anchor="start" >45</text>
<line x1="992.6" y1="376.6" x2="997.6" y2="376.6" stroke="#f00a14" stroke-width="1.6"/>
<text x="1000.6" y="381.0" font-size="13.4" fill="#f00a14" text-anchor="start" >60</text>
<line x1="992.6" y1="339.1" x2="997.6" y2="339.1" stroke="#f00a14" stroke-width="1.6"/>
<text x="1000.6" y="343.5" font-size="13.4" fill="#f00a14" text-anchor="start" >75</text>
<line x1="992.6" y1="507.9" x2="995.4" y2="507.9" stroke="#f00a14" stroke-width="1.3"/>
<line x1="992.6" y1="470.4" x2="995.4" y2="470.4" stroke="#f00a14" stroke-width="1.3"/>
<line x1="992.6" y1="432.9" x2="995.4" y2="432.9" stroke="#f00a14" stroke-width="1.3"/>
<line x1="992.6" y1="395.4" x2="995.4" y2="395.4" stroke="#f00a14" stroke-width="1.3"/>
<line x1="992.6" y1="357.9" x2="995.4" y2="357.9" stroke="#f00a14" stroke-width="1.3"/>
<line x1="70.0" y1="533.6" x2="70.0" y2="538.2" stroke="#000" stroke-width="1.6"/>
<text x="70.0" y="553.2" font-size="17.2" fill="#000" text-anchor="middle" >0</text>
<line x1="300.6" y1="533.6" x2="300.6" y2="538.2" stroke="#000" stroke-width="1.6"/>
<text x="300.6" y="553.2" font-size="17.2" fill="#000" text-anchor="middle" >5</text>
<line x1="531.2" y1="533.6" x2="531.2" y2="538.2" stroke="#000" stroke-width="1.6"/>
<text x="531.2" y="553.2" font-size="17.2" fill="#000" text-anchor="middle" >10</text>
<line x1="761.8" y1="533.6" x2="761.8" y2="538.2" stroke="#000" stroke-width="1.6"/>
<text x="761.8" y="553.2" font-size="17.2" fill="#000" text-anchor="middle" >15</text>
<line x1="992.4" y1="533.6" x2="992.4" y2="538.2" stroke="#000" stroke-width="1.6"/>
<text x="992.4" y="553.2" font-size="17.2" fill="#000" text-anchor="middle" >20</text>
<line x1="185.3" y1="533.6" x2="185.3" y2="536.6" stroke="#000" stroke-width="1.4"/>
<line x1="415.9" y1="533.6" x2="415.9" y2="536.6" stroke="#000" stroke-width="1.4"/>
<line x1="646.5" y1="533.6" x2="646.5" y2="536.6" stroke="#000" stroke-width="1.4"/>
<line x1="877.1" y1="533.6" x2="877.1" y2="536.6" stroke="#000" stroke-width="1.4"/>
<text x="531.5" y="567.4" font-size="20.4" fill="#000" text-anchor="middle" >Time (s)</text>
<text x="26.5" y="434.7" font-size="19.6" fill="#33659c" text-anchor="middle" transform="rotate(-90 26.5 434.7)" >Voltage (V)</text>
<text x="1019.8" y="436.3" font-size="20" fill="#f00a14" text-anchor="middle" transform="rotate(90 1019.8 436.3)" >Charge (nC)</text>
<text x="24" y="583.4" font-size="26" fill="#000" text-anchor="start" >(c)</text>
<rect x="84.3" y="692.4" width="14.6" height="122.0" fill="#6699cc"/>
<rect x="98.9" y="688.6" width="14.8" height="125.8" fill="#ff4646"/>
<path d="M91.6,691.7 V693.1 M89.4,691.7 h4.4 M89.4,693.1 h4.4" stroke="#111" stroke-width="1.1" fill="none"/>
<path d="M106.3,682.7 V694.6 M104.1,682.7 h4.4 M104.1,694.6 h4.4" stroke="#111" stroke-width="1.1" fill="none"/>
<rect x="126.4" y="685.4" width="14.6" height="129.0" fill="#6699cc"/>
<rect x="141.0" y="666.9" width="14.8" height="147.5" fill="#ff4646"/>
<path d="M133.7,682.4 V688.5 M131.5,682.4 h4.4 M131.5,688.5 h4.4" stroke="#111" stroke-width="1.1" fill="none"/>
<path d="M148.4,664.0 V669.7 M146.2,664.0 h4.4 M146.2,669.7 h4.4" stroke="#111" stroke-width="1.1" fill="none"/>
<rect x="168.5" y="666.2" width="14.6" height="148.2" fill="#6699cc"/>
<rect x="183.1" y="641.3" width="14.8" height="173.1" fill="#ff4646"/>
<path d="M175.8,661.9 V670.6 M173.6,661.9 h4.4 M173.6,670.6 h4.4" stroke="#111" stroke-width="1.1" fill="none"/>
<path d="M190.5,638.2 V644.4 M188.3,638.2 h4.4 M188.3,644.4 h4.4" stroke="#111" stroke-width="1.1" fill="none"/>
<rect x="210.6" y="616.5" width="14.6" height="197.9" fill="#6699cc"/>
<rect x="225.2" y="615.2" width="14.8" height="199.2" fill="#ff4646"/>
<path d="M217.9,613.5 V619.6 M215.7,613.5 h4.4 M215.7,619.6 h4.4" stroke="#111" stroke-width="1.1" fill="none"/>
<path d="M232.6,613.3 V617.0 M230.4,613.3 h4.4 M230.4,617.0 h4.4" stroke="#111" stroke-width="1.1" fill="none"/>
<rect x="252.7" y="665.4" width="14.6" height="149.0" fill="#6699cc"/>
<rect x="267.3" y="640.1" width="14.8" height="174.3" fill="#ff4646"/>
<path d="M260.0,664.0 V666.7 M257.8,664.0 h4.4 M257.8,666.7 h4.4" stroke="#111" stroke-width="1.1" fill="none"/>
<path d="M274.7,637.6 V642.6 M272.5,637.6 h4.4 M272.5,642.6 h4.4" stroke="#111" stroke-width="1.1" fill="none"/>
<rect x="294.8" y="702.8" width="14.6" height="111.6" fill="#6699cc"/>
<rect x="309.4" y="704.2" width="14.8" height="110.2" fill="#ff4646"/>
<path d="M302.1,702.3 V703.4 M299.9,702.3 h4.4 M299.9,703.4 h4.4" stroke="#111" stroke-width="1.1" fill="none"/>
<path d="M316.8,702.0 V706.4 M314.6,702.0 h4.4 M314.6,706.4 h4.4" stroke="#111" stroke-width="1.1" fill="none"/>
<line x1="77.0" y1="596.5" x2="330.5" y2="596.5" stroke="#111" stroke-width="1.6"/>
<line x1="77.0" y1="814.4" x2="330.5" y2="814.4" stroke="#111" stroke-width="1.8"/>
<line x1="77.9" y1="596.5" x2="77.9" y2="814.4" stroke="#3b6ba5" stroke-width="1.8"/>
<line x1="329.6" y1="596.5" x2="329.6" y2="814.4" stroke="#f03e3e" stroke-width="1.8"/>
<line x1="73.9" y1="814.4" x2="77.9" y2="814.4" stroke="#3b6ba5" stroke-width="1.5"/>
<text x="72.9" y="819.1999999999999" font-size="15.7" fill="#3b6ba5" text-anchor="end" >0</text>
<line x1="73.9" y1="770.8" x2="77.9" y2="770.8" stroke="#3b6ba5" stroke-width="1.5"/>
<text x="72.9" y="775.6199999999999" font-size="15.7" fill="#3b6ba5" text-anchor="end" >50</text>
<line x1="73.9" y1="727.2" x2="77.9" y2="727.2" stroke="#3b6ba5" stroke-width="1.5"/>
<text x="72.9" y="732.04" font-size="15.7" fill="#3b6ba5" text-anchor="end" >100</text>
<line x1="73.9" y1="683.7" x2="77.9" y2="683.7" stroke="#3b6ba5" stroke-width="1.5"/>
<text x="72.9" y="688.4599999999999" font-size="15.7" fill="#3b6ba5" text-anchor="end" >150</text>
<line x1="73.9" y1="640.1" x2="77.9" y2="640.1" stroke="#3b6ba5" stroke-width="1.5"/>
<text x="72.9" y="644.88" font-size="15.7" fill="#3b6ba5" text-anchor="end" >200</text>
<line x1="73.9" y1="596.5" x2="77.9" y2="596.5" stroke="#3b6ba5" stroke-width="1.5"/>
<text x="72.9" y="601.3" font-size="15.7" fill="#3b6ba5" text-anchor="end" >250</text>
<line x1="75.7" y1="792.6" x2="77.9" y2="792.6" stroke="#3b6ba5" stroke-width="1.2"/>
<line x1="75.7" y1="749.0" x2="77.9" y2="749.0" stroke="#3b6ba5" stroke-width="1.2"/>
<line x1="75.7" y1="705.5" x2="77.9" y2="705.5" stroke="#3b6ba5" stroke-width="1.2"/>
<line x1="75.7" y1="661.9" x2="77.9" y2="661.9" stroke="#3b6ba5" stroke-width="1.2"/>
<line x1="75.7" y1="618.3" x2="77.9" y2="618.3" stroke="#3b6ba5" stroke-width="1.2"/>
<line x1="329.6" y1="814.4" x2="333.6" y2="814.4" stroke="#f03e3e" stroke-width="1.5"/>
<text x="335.90000000000003" y="819.1999999999999" font-size="15.7" fill="#f03e3e" text-anchor="start" >0</text>
<line x1="329.6" y1="783.3" x2="333.6" y2="783.3" stroke="#f03e3e" stroke-width="1.5"/>
<text x="335.90000000000003" y="788.0714285714286" font-size="15.7" fill="#f03e3e" text-anchor="start" >10</text>
<line x1="329.6" y1="752.1" x2="333.6" y2="752.1" stroke="#f03e3e" stroke-width="1.5"/>
<text x="335.90000000000003" y="756.9428571428571" font-size="15.7" fill="#f03e3e" text-anchor="start" >20</text>
<line x1="329.6" y1="721.0" x2="333.6" y2="721.0" stroke="#f03e3e" stroke-width="1.5"/>
<text x="335.90000000000003" y="725.8142857142857" font-size="15.7" fill="#f03e3e" text-anchor="start" >30</text>
<line x1="329.6" y1="689.9" x2="333.6" y2="689.9" stroke="#f03e3e" stroke-width="1.5"/>
<text x="335.90000000000003" y="694.6857142857142" font-size="15.7" fill="#f03e3e" text-anchor="start" >40</text>
<line x1="329.6" y1="658.8" x2="333.6" y2="658.8" stroke="#f03e3e" stroke-width="1.5"/>
<text x="335.90000000000003" y="663.5571428571428" font-size="15.7" fill="#f03e3e" text-anchor="start" >50</text>
<line x1="329.6" y1="627.6" x2="333.6" y2="627.6" stroke="#f03e3e" stroke-width="1.5"/>
<text x="335.90000000000003" y="632.4285714285713" font-size="15.7" fill="#f03e3e" text-anchor="start" >60</text>
<line x1="329.6" y1="596.5" x2="333.6" y2="596.5" stroke="#f03e3e" stroke-width="1.5"/>
<text x="335.90000000000003" y="601.3" font-size="15.7" fill="#f03e3e" text-anchor="start" >70</text>
<line x1="329.6" y1="798.8" x2="331.8" y2="798.8" stroke="#f03e3e" stroke-width="1.2"/>
<line x1="329.6" y1="767.7" x2="331.8" y2="767.7" stroke="#f03e3e" stroke-width="1.2"/>
<line x1="329.6" y1="736.6" x2="331.8" y2="736.6" stroke="#f03e3e" stroke-width="1.2"/>
<line x1="329.6" y1="705.5" x2="331.8" y2="705.5" stroke="#f03e3e" stroke-width="1.2"/>
<line x1="329.6" y1="674.3" x2="331.8" y2="674.3" stroke="#f03e3e" stroke-width="1.2"/>
<line x1="329.6" y1="643.2" x2="331.8" y2="643.2" stroke="#f03e3e" stroke-width="1.2"/>
<line x1="329.6" y1="612.1" x2="331.8" y2="612.1" stroke="#f03e3e" stroke-width="1.2"/>
<line x1="98.9" y1="814.4" x2="98.9" y2="818.4" stroke="#111" stroke-width="1.5"/>
<text x="98.9" y="832" font-size="16" fill="#111" text-anchor="middle" >0</text>
<line x1="141.0" y1="814.4" x2="141.0" y2="818.4" stroke="#111" stroke-width="1.5"/>
<text x="141.0" y="832" font-size="16" fill="#111" text-anchor="middle" >1</text>
<line x1="183.1" y1="814.4" x2="183.1" y2="818.4" stroke="#111" stroke-width="1.5"/>
<text x="183.10000000000002" y="832" font-size="16" fill="#111" text-anchor="middle" >2</text>
<line x1="225.2" y1="814.4" x2="225.2" y2="818.4" stroke="#111" stroke-width="1.5"/>
<text x="225.20000000000002" y="832" font-size="16" fill="#111" text-anchor="middle" >3</text>
<line x1="267.3" y1="814.4" x2="267.3" y2="818.4" stroke="#111" stroke-width="1.5"/>
<text x="267.3" y="832" font-size="16" fill="#111" text-anchor="middle" >4</text>
<line x1="309.4" y1="814.4" x2="309.4" y2="818.4" stroke="#111" stroke-width="1.5"/>
<text x="309.4" y="832" font-size="16" fill="#111" text-anchor="middle" >5</text>
<text x="205" y="851.5" font-size="22.2" fill="#111" text-anchor="middle" >Weight ratio (%)</text>
<text x="39" y="714.5" font-size="21.5" fill="#3b6ba5" text-anchor="middle" transform="rotate(-90 39 714.5)" >Voltage (V)</text>
<text x="361.5" y="710" font-size="21.5" fill="#f4474c" text-anchor="middle" transform="rotate(90 361.5 710)" >Charge (nC)</text>
<text x="353.2" y="582.8" font-size="26" fill="#000" text-anchor="start" >(d)</text>
<text x="390.7" y="605.2" font-size="20.2" fill="#000" text-anchor="start" >(i)</text>
<rect x="452.3" y="588.3" width="113.7" height="29" fill="url(#gTopBlue)"/>
<rect x="392.3" y="663.3" width="32.7" height="165" fill="url(#gNylon)"/>
<rect x="450.0" y="731.7" width="114.5" height="96.6" fill="url(#gSil)"/>
<rect x="564.3" y="663.3" width="33" height="165" fill="url(#gElec)"/>
<text x="437.7" y="710" font-size="15.2" fill="#f0141e" text-anchor="middle" >Surface</text>
<text x="437.7" y="724.3" font-size="15.2" fill="#f0141e" text-anchor="middle" >trap states</text>
<text x="402.5" y="764.3" font-size="17.4" fill="#111" text-anchor="middle" transform="rotate(90 402.5 764.3)" >Nylon</text>
<text x="573.5" y="771" font-size="17.4" fill="#111" text-anchor="middle" transform="rotate(90 573.5 771)" >Electrode</text>
<text x="507.2" y="803.3" font-size="17.4" fill="#111" text-anchor="middle" >Silicone rubber</text>
<text x="473.0" y="841.7" font-size="17.4" fill="#111" text-anchor="middle" >Contact/ Separation</text>
<polygon points="428.0,815.7 434.5,811.1 434.5,813.6 438.0,813.6 438.0,817.8000000000001 434.5,817.8000000000001 434.5,820.3000000000001" fill="#7030a0"/>
<polygon points="449.6,815.7 443.1,811.1 443.1,813.6 439.6,813.6 439.6,817.8000000000001 443.1,817.8000000000001 443.1,820.3000000000001" fill="#7030a0"/>
<rect x="437.0" y="813.6" width="3.6" height="4.2" fill="#b9a3d6" opacity="0.8"/>
<circle cx="420.0" cy="666.7" r="6.8" fill="url(#gT)"/>
<line x1="452.8" y1="644.3" x2="469.2" y2="644.3" stroke="#444" stroke-width="1"/><circle cx="461.0" cy="644.3" r="6.8" fill="url(#gT)"/>
<line x1="452.8" y1="666.7" x2="469.2" y2="666.7" stroke="#444" stroke-width="1"/><circle cx="461.0" cy="666.7" r="6.8" fill="url(#gT)"/>
<line x1="452.8" y1="688.3" x2="469.2" y2="688.3" stroke="#444" stroke-width="1"/><circle cx="461.0" cy="688.3" r="6.8" fill="url(#gT)"/>
<path d="M419.5,652.7 L420.2,646.3 L421.7,640.9 L424.0,636.5 L426.9,633.0 L430.2,630.5 L433.7,628.8 L437.3,628.0 L440.9,627.8 L444.2,628.3 L447.2,629.2 L449.8,630.7 L451.8,632.6 L453.1,634.9 L453.4,637.5 L456.7,637.8 L451.4,643.9 L447.3,637.0 L450.6,637.3 L450.3,635.9 L449.5,634.6 L448.0,633.5 L445.9,632.5 L443.5,631.9 L440.8,631.7 L438.0,632.0 L435.2,632.9 L432.6,634.3 L430.2,636.3 L428.1,639.1 L426.5,642.7 L425.4,647.2 L424.9,652.9Z" fill="#7ec242" stroke="#4f9a2c" stroke-width="0.7" stroke-linejoin="round"/><path d="M424.9,652.9 L425.4,647.2 L426.5,642.7 L428.1,639.1 L430.2,636.3 L432.6,634.3 L431.4,632.4 L428.5,634.7 L426.1,637.8 L424.1,641.8 L422.8,646.8 L422.2,652.8Z" fill="#4f9a2c" opacity="0.85"/><path d="M425.0,637.1 L427.7,633.8 L430.8,631.4 L434.1,629.8 L437.5,629.0 L440.9,628.8 L444.0,629.2 L446.9,630.1 L449.4,631.4 L451.2,633.1 L452.4,635.2" fill="none" stroke="#b5e06a" stroke-width="0.9" opacity="0.9"/>
<text x="607.7" y="605.2" font-size="20.2" fill="#000" text-anchor="start" >(ii)</text>
<rect x="670.2" y="588.3" width="113.7" height="29" fill="url(#gTopBlue)"/>
<rect x="611.7" y="663.3" width="32.7" height="165" fill="url(#gNylon)"/>
<rect x="669.4" y="731.7" width="114.5" height="96.6" fill="url(#gSil)"/>
<rect x="783.7" y="663.3" width="33" height="165" fill="url(#gElec)"/>
<text x="657.1" y="710" font-size="15.2" fill="#f0141e" text-anchor="middle" >Surface</text>
<text x="657.1" y="724.3" font-size="15.2" fill="#f0141e" text-anchor="middle" >trap states</text>
<text x="621.9" y="764.3" font-size="17.4" fill="#111" text-anchor="middle" transform="rotate(90 621.9 764.3)" >Nylon</text>
<text x="792.9" y="771" font-size="17.4" fill="#111" text-anchor="middle" transform="rotate(90 792.9 771)" >Electrode</text>
<text x="726.6" y="803.3" font-size="17.4" fill="#111" text-anchor="middle" >Silicone rubber</text>
<text x="692.4" y="841.7" font-size="17.4" fill="#111" text-anchor="middle" >Contact/ Separation</text>
<polygon points="647.4,815.7 653.9,811.1 653.9,813.6 657.4,813.6 657.4,817.8000000000001 653.9,817.8000000000001 653.9,820.3000000000001" fill="#7030a0"/>
<polygon points="669.0,815.7 662.5,811.1 662.5,813.6 659.0,813.6 659.0,817.8000000000001 662.5,817.8000000000001 662.5,820.3000000000001" fill="#7030a0"/>
<rect x="656.4" y="813.6" width="3.6" height="4.2" fill="#b9a3d6" opacity="0.8"/>
<circle cx="639.4" cy="666.7" r="6.8" fill="url(#gT)"/>
<line x1="671.9" y1="644.3" x2="688.3" y2="644.3" stroke="#444" stroke-width="1"/><circle cx="680.1" cy="644.3" r="6.8" fill="url(#gT)"/>
<line x1="671.9" y1="666.7" x2="688.3" y2="666.7" stroke="#444" stroke-width="1"/><circle cx="680.1" cy="666.7" r="6.8" fill="url(#gT)"/>
<line x1="671.9" y1="688.3" x2="688.3" y2="688.3" stroke="#444" stroke-width="1"/><circle cx="680.1" cy="688.3" r="6.8" fill="url(#gT)"/>
<path d="M638.9,652.7 L639.6,646.3 L641.1,640.9 L643.4,636.5 L646.3,633.0 L649.6,630.5 L653.1,628.8 L656.7,628.0 L660.3,627.8 L663.6,628.3 L666.6,629.2 L669.2,630.7 L671.2,632.6 L672.5,634.9 L672.8,637.5 L676.1,637.8 L670.8,643.9 L666.7,637.0 L670.0,637.3 L669.7,635.9 L668.9,634.6 L667.4,633.5 L665.3,632.5 L662.9,631.9 L660.2,631.7 L657.4,632.0 L654.6,632.9 L652.0,634.3 L649.6,636.3 L647.5,639.1 L645.9,642.7 L644.8,647.2 L644.3,652.9Z" fill="#7ec242" stroke="#4f9a2c" stroke-width="0.7" stroke-linejoin="round"/><path d="M644.3,652.9 L644.8,647.2 L645.9,642.7 L647.5,639.1 L649.6,636.3 L652.0,634.3 L650.8,632.4 L647.9,634.7 L645.5,637.8 L643.5,641.8 L642.2,646.8 L641.6,652.8Z" fill="#4f9a2c" opacity="0.85"/><path d="M644.4,637.1 L647.1,633.8 L650.2,631.4 L653.5,629.8 L656.9,629.0 L660.3,628.8 L663.4,629.2 L666.3,630.1 L668.8,631.4 L670.6,633.1 L671.8,635.2" fill="none" stroke="#b5e06a" stroke-width="0.9" opacity="0.9"/>
<text x="821.7" y="605.2" font-size="20.2" fill="#000" text-anchor="start" >(iii)</text>
<rect x="889.6" y="588.3" width="113.7" height="29" fill="url(#gTopBlue)"/>
<rect x="831.1" y="663.3" width="32.7" height="165" fill="url(#gNylon)"/>
<rect x="888.8" y="731.7" width="114.5" height="96.6" fill="url(#gSil)"/>
<rect x="1003.1" y="663.3" width="33" height="165" fill="url(#gElec)"/>
<text x="876.5" y="710" font-size="15.2" fill="#f0141e" text-anchor="middle" >Surface</text>
<text x="876.5" y="724.3" font-size="15.2" fill="#f0141e" text-anchor="middle" >trap states</text>
<text x="841.3" y="764.3" font-size="17.4" fill="#111" text-anchor="middle" transform="rotate(90 841.3 764.3)" >Nylon</text>
<text x="1012.3" y="771" font-size="17.4" fill="#111" text-anchor="middle" transform="rotate(90 1012.3 771)" >Electrode</text>
<text x="946.0" y="803.3" font-size="17.4" fill="#111" text-anchor="middle" >Silicone rubber</text>
<text x="911.8" y="841.7" font-size="17.4" fill="#111" text-anchor="middle" >Contact/ Separation</text>
<polygon points="866.8,815.7 873.3,811.1 873.3,813.6 876.8,813.6 876.8,817.8000000000001 873.3,817.8000000000001 873.3,820.3000000000001" fill="#7030a0"/>
<polygon points="888.4000000000001,815.7 881.9000000000001,811.1 881.9000000000001,813.6 878.4000000000001,813.6 878.4000000000001,817.8000000000001 881.9000000000001,817.8000000000001 881.9000000000001,820.3000000000001" fill="#7030a0"/>
<rect x="875.8" y="813.6" width="3.6" height="4.2" fill="#b9a3d6" opacity="0.8"/>
<circle cx="858.8" cy="666.7" r="6.8" fill="url(#gT)"/>
<line x1="891.3" y1="644.3" x2="907.7" y2="644.3" stroke="#444" stroke-width="1"/><circle cx="899.5" cy="644.3" r="6.8" fill="url(#gT)"/>
<line x1="891.3" y1="666.7" x2="907.7" y2="666.7" stroke="#444" stroke-width="1"/><circle cx="899.5" cy="666.7" r="6.8" fill="url(#gT)"/>
<line x1="891.3" y1="688.3" x2="907.7" y2="688.3" stroke="#444" stroke-width="1"/><circle cx="899.5" cy="688.3" r="6.8" fill="url(#gT)"/>
<path d="M858.3,652.7 L859.0,646.3 L860.5,640.9 L862.8,636.5 L865.7,633.0 L869.0,630.5 L872.5,628.8 L876.1,628.0 L879.7,627.8 L883.0,628.3 L886.0,629.2 L888.6,630.7 L890.6,632.6 L891.9,634.9 L892.2,637.5 L895.5,637.8 L890.2,643.9 L886.1,637.0 L889.4,637.3 L889.1,635.9 L888.3,634.6 L886.8,633.5 L884.7,632.5 L882.3,631.9 L879.6,631.7 L876.8,632.0 L874.0,632.9 L871.4,634.3 L869.0,636.3 L866.9,639.1 L865.3,642.7 L864.2,647.2 L863.7,652.9Z" fill="#7ec242" stroke="#4f9a2c" stroke-width="0.7" stroke-linejoin="round"/><path d="M863.7,652.9 L864.2,647.2 L865.3,642.7 L866.9,639.1 L869.0,636.3 L871.4,634.3 L870.2,632.4 L867.3,634.7 L864.9,637.8 L862.9,641.8 L861.6,646.8 L861.0,652.8Z" fill="#4f9a2c" opacity="0.85"/><path d="M863.8,637.1 L866.5,633.8 L869.6,631.4 L872.9,629.8 L876.3,629.0 L879.7,628.8 L882.8,629.2 L885.7,630.1 L888.2,631.4 L890.0,633.1 L891.2,635.2" fill="none" stroke="#b5e06a" stroke-width="0.9" opacity="0.9"/>
<line x1="699.1" y1="657.3" x2="715.5" y2="657.3" stroke="#444" stroke-width="1"/><circle cx="707.3" cy="657.3" r="6.8" fill="url(#gT)"/>
<line x1="699.1" y1="679.0" x2="715.5" y2="679.0" stroke="#444" stroke-width="1"/><circle cx="707.3" cy="679.0" r="6.8" fill="url(#gT)"/>
<line x1="699.1" y1="701.0" x2="715.5" y2="701.0" stroke="#444" stroke-width="1"/><circle cx="707.3" cy="701.0" r="6.8" fill="url(#gT)"/>
<line x1="727.5" y1="657.3" x2="743.9" y2="657.3" stroke="#444" stroke-width="1"/><circle cx="735.7" cy="657.3" r="6.8" fill="url(#gT)"/>
<line x1="726.6" y1="679.0" x2="744.0" y2="679.0" stroke="#333" stroke-width="0.9"/>
<line x1="726.6" y1="701.0" x2="744.0" y2="701.0" stroke="#333" stroke-width="0.9"/>
<path d="M677.5,635.9 L678.0,632.8 L679.3,630.1 L681.0,627.9 L683.1,626.3 L685.5,625.2 L688.0,624.5 L690.5,624.3 L693.0,624.5 L695.4,625.2 L697.5,626.3 L699.3,627.8 L700.7,629.7 L701.4,632.0 L701.5,634.6 L704.4,634.8 L700.0,640.0 L696.6,634.2 L699.5,634.4 L699.3,632.4 L698.7,630.8 L697.6,629.5 L696.2,628.5 L694.5,627.8 L692.6,627.4 L690.6,627.3 L688.6,627.6 L686.7,628.2 L685.0,629.2 L683.6,630.4 L682.5,632.0 L681.8,633.8 L681.5,636.1Z" fill="#7ec242" stroke="#4f9a2c" stroke-width="0.7" stroke-linejoin="round"/><path d="M681.5,636.1 L681.8,633.8 L682.5,632.0 L683.6,630.4 L685.0,629.2 L686.7,628.2 L686.1,626.7 L684.0,627.7 L682.3,629.2 L680.9,631.0 L679.9,633.3 L679.5,636.0Z" fill="#4f9a2c" opacity="0.85"/><path d="M681.6,628.6 L683.6,627.0 L685.8,625.9 L688.1,625.3 L690.5,625.1 L692.9,625.2 L695.2,625.8 L697.2,626.8 L698.9,628.2 L700.2,630.0 L700.9,632.1" fill="none" stroke="#b5e06a" stroke-width="0.9" opacity="0.9"/>
<path d="M707.8,641.7 L708.4,638.5 L709.6,635.7 L711.3,633.5 L713.5,631.8 L716.0,630.6 L718.5,629.9 L721.2,629.7 L723.8,630.0 L726.2,630.6 L728.5,631.8 L730.4,633.3 L731.8,635.3 L732.6,637.7 L732.6,640.5 L735.3,640.7 L731.4,645.4 L728.3,640.1 L731.0,640.3 L730.8,638.1 L730.1,636.2 L728.9,634.8 L727.3,633.6 L725.5,632.8 L723.4,632.4 L721.2,632.3 L719.1,632.6 L717.0,633.2 L715.1,634.3 L713.5,635.6 L712.3,637.3 L711.5,639.4 L711.2,641.9Z" fill="#7ec242" stroke="#4f9a2c" stroke-width="0.7" stroke-linejoin="round"/><path d="M711.2,641.9 L711.5,639.4 L712.3,637.3 L713.5,635.6 L715.1,634.3 L717.0,633.2 L716.5,631.9 L714.3,633.0 L712.4,634.6 L710.9,636.5 L709.9,638.9 L709.5,641.8Z" fill="#4f9a2c" opacity="0.85"/><path d="M711.9,634.0 L713.9,632.4 L716.2,631.3 L718.7,630.6 L721.2,630.4 L723.7,630.6 L726.1,631.2 L728.2,632.2 L730.0,633.7 L731.3,635.6 L732.1,637.8" fill="none" stroke="#b5e06a" stroke-width="0.9" opacity="0.9"/>
<circle cx="791.7" cy="674.3" r="7" fill="url(#gR)"/>
<circle cx="807.7" cy="674.3" r="7" fill="url(#gR)"/>
<circle cx="791.7" cy="692.0" r="7" fill="url(#gR)"/>
<circle cx="807.7" cy="692.0" r="7" fill="url(#gR)"/>
<circle cx="791.7" cy="708.3" r="7" fill="url(#gR)"/>
<circle cx="807.7" cy="708.3" r="7" fill="url(#gR)"/>
<circle cx="791.7" cy="725.7" r="7" fill="url(#gR)"/>
<text x="720" y="756" font-size="17.4" fill="#f8464c" text-anchor="middle" >MXene</text>
<text x="720" y="772.7" font-size="17.4" fill="#f8464c" text-anchor="middle" >trap states ≤3 wt%</text>
<circle cx="573.3" cy="674.3" r="7" fill="url(#gR)"/>
<circle cx="589.0" cy="674.3" r="7" fill="url(#gR)"/>
<circle cx="573.3" cy="692.0" r="7" fill="url(#gR)"/>
<line x1="918.5" y1="657.3" x2="934.9" y2="657.3" stroke="#444" stroke-width="1"/><circle cx="926.7" cy="657.3" r="6.8" fill="url(#gT)"/>
<line x1="918.5" y1="679.0" x2="934.9" y2="679.0" stroke="#444" stroke-width="1"/><circle cx="926.7" cy="679.0" r="6.8" fill="url(#gT)"/>
<line x1="918.5" y1="701.0" x2="934.9" y2="701.0" stroke="#444" stroke-width="1"/><circle cx="926.7" cy="701.0" r="6.8" fill="url(#gT)"/>
<line x1="946.5" y1="657.3" x2="962.9" y2="657.3" stroke="#444" stroke-width="1"/><circle cx="954.7" cy="657.3" r="6.8" fill="url(#gT)"/>
<line x1="946.5" y1="679.0" x2="962.9" y2="679.0" stroke="#444" stroke-width="1"/><circle cx="954.7" cy="679.0" r="6.8" fill="url(#gT)"/>
<line x1="946.0" y1="701.0" x2="963.4" y2="701.0" stroke="#333" stroke-width="0.9"/>
<line x1="975.1" y1="657.3" x2="991.5" y2="657.3" stroke="#444" stroke-width="1"/><circle cx="983.3" cy="657.3" r="6.8" fill="url(#gT)"/>
<line x1="974.6" y1="679.0" x2="992.0" y2="679.0" stroke="#333" stroke-width="0.9"/>
<line x1="974.6" y1="701.0" x2="992.0" y2="701.0" stroke="#333" stroke-width="0.9"/>
<path d="M897.8,636.5 L898.3,632.1 L899.3,628.3 L900.7,625.2 L902.6,622.7 L904.8,620.9 L907.2,619.8 L909.7,619.4 L912.1,619.7 L914.4,620.8 L916.3,622.5 L917.8,624.7 L918.9,627.4 L919.5,630.7 L919.4,634.4 L922.5,634.6 L917.9,640.3 L914.1,634.0 L917.2,634.2 L917.0,630.9 L916.4,628.2 L915.4,626.1 L914.2,624.5 L912.8,623.5 L911.3,622.9 L909.8,622.8 L908.4,623.2 L906.9,624.0 L905.5,625.3 L904.3,627.2 L903.3,629.7 L902.6,632.8 L902.4,636.5Z" fill="#7ec242" stroke="#4f9a2c" stroke-width="0.7" stroke-linejoin="round"/><path d="M902.4,636.5 L902.6,632.8 L903.3,629.7 L904.3,627.2 L905.5,625.3 L906.9,624.0 L905.9,622.4 L904.1,624.0 L902.5,626.2 L901.3,629.0 L900.5,632.4 L900.1,636.5Z" fill="#4f9a2c" opacity="0.85"/><path d="M901.6,625.7 L903.3,623.4 L905.3,621.7 L907.5,620.6 L909.7,620.3 L911.9,620.5 L914.0,621.5 L915.8,623.0 L917.2,625.0 L918.3,627.6 L918.9,630.7" fill="none" stroke="#b5e06a" stroke-width="0.9" opacity="0.9"/>
<path d="M927.4,641.5 L927.9,637.5 L929.0,634.0 L930.5,631.2 L932.5,628.9 L934.7,627.3 L937.2,626.3 L939.7,626.0 L942.2,626.3 L944.5,627.3 L946.5,628.8 L948.1,630.8 L949.3,633.4 L949.9,636.4 L949.9,639.9 L952.9,640.1 L948.4,645.8 L944.7,639.5 L947.7,639.7 L947.6,636.7 L946.9,634.2 L945.9,632.3 L944.6,630.9 L943.1,629.9 L941.5,629.4 L939.8,629.3 L938.2,629.6 L936.6,630.4 L935.1,631.6 L933.8,633.3 L932.8,635.5 L932.1,638.3 L931.8,641.7Z" fill="#7ec242" stroke="#4f9a2c" stroke-width="0.7" stroke-linejoin="round"/><path d="M931.8,641.7 L932.1,638.3 L932.8,635.5 L933.8,633.3 L935.1,631.6 L936.6,630.4 L935.7,628.8 L933.8,630.3 L932.2,632.2 L930.9,634.8 L930.0,637.9 L929.6,641.6Z" fill="#4f9a2c" opacity="0.85"/><path d="M931.3,631.7 L933.1,629.6 L935.2,628.1 L937.4,627.1 L939.7,626.8 L942.0,627.1 L944.1,627.9 L946.0,629.3 L947.6,631.2 L948.7,633.6 L949.3,636.5" fill="none" stroke="#b5e06a" stroke-width="0.9" opacity="0.9"/>
<path d="M956.4,643.5 L956.9,640.5 L958.0,637.8 L959.6,635.7 L961.6,634.1 L963.9,632.9 L966.2,632.3 L968.6,632.1 L971.0,632.3 L973.2,633.0 L975.2,634.0 L976.9,635.5 L978.2,637.5 L978.9,639.8 L978.9,642.4 L981.7,642.6 L977.5,647.8 L974.3,642.0 L977.1,642.2 L977.0,640.1 L976.3,638.4 L975.3,637.0 L974.0,636.0 L972.4,635.2 L970.6,634.8 L968.7,634.8 L966.8,635.0 L965.0,635.7 L963.4,636.6 L962.0,637.9 L961.0,639.4 L960.3,641.3 L960.0,643.7Z" fill="#7ec242" stroke="#4f9a2c" stroke-width="0.7" stroke-linejoin="round"/><path d="M960.0,643.7 L960.3,641.3 L961.0,639.4 L962.0,637.9 L963.4,636.6 L965.0,635.7 L964.4,634.3 L962.5,635.3 L960.8,636.8 L959.5,638.6 L958.6,640.9 L958.2,643.6Z" fill="#4f9a2c" opacity="0.85"/><path d="M960.2,636.2 L962.1,634.7 L964.1,633.6 L966.4,633.0 L968.6,632.7 L970.9,632.9 L973.0,633.5 L974.9,634.5 L976.5,635.9 L977.7,637.7 L978.4,639.9" fill="none" stroke="#b5e06a" stroke-width="0.9" opacity="0.9"/>
<path d="M985.8,648.6 L986.3,646.2 L987.5,644.2 L989.1,642.6 L991.1,641.4 L993.3,640.6 L995.7,640.1 L998.0,640.0 L1000.4,640.2 L1002.6,640.6 L1004.7,641.4 L1006.4,642.6 L1007.7,644.0 L1008.5,645.8 L1008.5,647.9 L1011.0,648.2 L1007.3,652.8 L1004.8,647.4 L1007.3,647.7 L1007.1,646.1 L1006.5,644.9 L1005.4,643.8 L1004.0,642.9 L1002.2,642.3 L1000.2,642.0 L998.1,641.9 L996.0,642.1 L993.9,642.6 L992.1,643.4 L990.6,644.4 L989.4,645.6 L988.7,647.1 L988.4,648.8Z" fill="#7ec242" stroke="#4f9a2c" stroke-width="0.7" stroke-linejoin="round"/><path d="M988.4,648.8 L988.7,647.1 L989.4,645.6 L990.6,644.4 L992.1,643.4 L993.9,642.6 L993.6,641.6 L991.6,642.4 L989.9,643.5 L988.5,644.9 L987.5,646.6 L987.1,648.7Z" fill="#4f9a2c" opacity="0.85"/><path d="M989.5,643.0 L991.4,641.9 L993.5,641.1 L995.7,640.6 L998.1,640.5 L1000.4,640.6 L1002.5,641.1 L1004.5,641.8 L1006.2,642.9 L1007.4,644.2 L1008.1,645.9" fill="none" stroke="#b5e06a" stroke-width="0.9" opacity="0.9"/>
<circle cx="1011.0" cy="674.3" r="7" fill="url(#gR)"/>
<circle cx="1027.3" cy="674.3" r="7" fill="url(#gR)"/>
<circle cx="1011.0" cy="692.0" r="7" fill="url(#gR)"/>
<circle cx="1027.3" cy="692.0" r="7" fill="url(#gR)"/>
<text x="939.3" y="756" font-size="17.4" fill="#f8464c" text-anchor="middle" >MXene</text>
<text x="939" y="772.7" font-size="17.4" fill="#f8464c" text-anchor="middle" >trap states &gt;3 wt%</text>
<circle cx="550.0" cy="856.7" r="8.5" fill="url(#gT)"/>
<text x="564" y="861.7" font-size="17.4" fill="#111" text-anchor="start" >Negative charge</text>
<circle cx="754.3" cy="856.7" r="8.5" fill="url(#gR)"/>
<text x="772.3" y="861.7" font-size="17.4" fill="#111" text-anchor="start" >Positive charge</text>
<text x="37" y="896" font-size="26" fill="#000" text-anchor="start" >(e)</text>
<rect x="81.7" y="899.3" width="153" height="9.1" fill="#f4b48a"/><circle cx="91.0" cy="903.8" r="3.7" fill="#4f9fdc"/><text x="91.0" y="906.6" font-size="9" fill="#10263f" text-anchor="middle">+</text><circle cx="106.0" cy="903.8" r="3.7" fill="#4f9fdc"/><text x="106.0" y="906.6" font-size="9" fill="#10263f" text-anchor="middle">+</text><circle cx="120.9" cy="903.8" r="3.7" fill="#4f9fdc"/><text x="120.9" y="906.6" font-size="9" fill="#10263f" text-anchor="middle">+</text><circle cx="135.9" cy="903.8" r="3.7" fill="#4f9fdc"/><text x="135.9" y="906.6" font-size="9" fill="#10263f" text-anchor="middle">+</text><circle cx="150.8" cy="903.8" r="3.7" fill="#4f9fdc"/><text x="150.8" y="906.6" font-size="9" fill="#10263f" text-anchor="middle">+</text><circle cx="165.8" cy="903.8" r="3.7" fill="#4f9fdc"/><text x="165.8" y="906.6" font-size="9" fill="#10263f" text-anchor="middle">+</text><circle cx="180.7" cy="903.8" r="3.7" fill="#4f9fdc"/><text x="180.7" y="906.6" font-size="9" fill="#10263f" text-anchor="middle">+</text><circle cx="195.7" cy="903.8" r="3.7" fill="#4f9fdc"/><text x="195.7" y="906.6" font-size="9" fill="#10263f" text-anchor="middle">+</text><circle cx="210.6" cy="903.8" r="3.7" fill="#4f9fdc"/><text x="210.6" y="906.6" font-size="9" fill="#10263f" text-anchor="middle">+</text><circle cx="225.6" cy="903.8" r="3.7" fill="#4f9fdc"/><text x="225.6" y="906.6" font-size="9" fill="#10263f" text-anchor="middle">+</text>
<rect x="81.7" y="922.6" width="153" height="54.4" fill="#8c8c8c"/><circle cx="92.7" cy="930.2" r="4.0" fill="#f9c4c4"/><text x="92.7" y="933.1" font-size="9" fill="#7a1d1d" text-anchor="middle">−</text><circle cx="107.7" cy="930.2" r="4.0" fill="#f9c4c4"/><text x="107.7" y="933.1" font-size="9" fill="#7a1d1d" text-anchor="middle">−</text><circle cx="122.6" cy="930.2" r="4.0" fill="#f9c4c4"/><text x="122.6" y="933.1" font-size="9" fill="#7a1d1d" text-anchor="middle">−</text><circle cx="137.6" cy="930.2" r="4.0" fill="#f9c4c4"/><text x="137.6" y="933.1" font-size="9" fill="#7a1d1d" text-anchor="middle">−</text><circle cx="152.6" cy="930.2" r="4.0" fill="#f9c4c4"/><text x="152.6" y="933.1" font-size="9" fill="#7a1d1d" text-anchor="middle">−</text><circle cx="167.5" cy="930.2" r="4.0" fill="#f9c4c4"/><text x="167.5" y="933.1" font-size="9" fill="#7a1d1d" text-anchor="middle">−</text><circle cx="182.5" cy="930.2" r="4.0" fill="#f9c4c4"/><text x="182.5" y="933.1" font-size="9" fill="#7a1d1d" text-anchor="middle">−</text><circle cx="197.5" cy="930.2" r="4.0" fill="#f9c4c4"/><text x="197.5" y="933.1" font-size="9" fill="#7a1d1d" text-anchor="middle">−</text><circle cx="212.4" cy="930.2" r="4.0" fill="#f9c4c4"/><text x="212.4" y="933.1" font-size="9" fill="#7a1d1d" text-anchor="middle">−</text><circle cx="227.4" cy="930.2" r="4.0" fill="#f9c4c4"/><text x="227.4" y="933.1" font-size="9" fill="#7a1d1d" text-anchor="middle">−</text><path d="M90.4,957.7 Q93.7,963.2 99.3,966.4 M90.4,957.7 Q88.6,961.3 86.7,967.1 M90.4,957.7 Q88.9,956.6 86.7,959.0 M90.4,957.7 Q92.7,952.1 97.2,950.2 M102.6,958.2 Q104.3,963.9 109.9,970.9 M102.6,958.2 Q102.5,962.1 98.7,967.0 M102.6,958.2 Q93.9,959.1 88.3,956.7 M102.6,958.2 Q104.5,951.4 107.7,944.7 M108.2,951.2 Q112.0,954.6 113.6,960.4 M108.2,951.2 Q102.6,956.8 95.0,960.3 M108.2,951.2 Q101.1,946.3 96.9,941.7 M108.2,951.2 Q113.3,949.3 115.0,944.2 M117.9,954.5 Q124.7,956.8 127.4,960.0 M117.9,954.5 Q119.1,961.3 118.5,964.2 M117.9,954.5 Q113.1,952.1 107.9,947.7 M117.9,954.5 Q119.2,947.2 120.0,939.1 M125.9,952.5 Q132.6,955.9 140.5,958.5 M125.9,952.5 Q123.1,958.5 123.8,962.1 M125.9,952.5 Q123.1,948.4 118.9,942.9 M125.9,952.5 Q132.0,949.0 138.8,941.6 M137.9,956.7 Q140.7,961.5 144.4,968.4 M137.9,956.7 Q132.7,961.0 131.0,962.9 M137.9,956.7 Q135.4,949.7 130.2,946.3 M137.9,956.7 Q138.5,949.5 139.9,945.0 M143.2,954.2 Q148.6,962.3 152.0,970.6 M143.2,954.2 Q141.7,964.7 140.0,973.3 M143.2,954.2 Q140.1,955.7 134.3,954.9 M143.2,954.2 Q147.9,950.0 153.3,945.2 M155.2,953.9 Q160.3,955.0 163.3,960.0 M155.2,953.9 Q148.1,961.6 144.9,968.5 M155.2,953.9 Q149.8,947.2 143.7,942.5 M155.2,953.9 Q159.7,944.5 161.0,938.1 M161.0,951.7 Q165.1,952.7 172.0,950.8 M161.0,951.7 Q158.6,955.0 155.9,959.6 M161.0,951.7 Q155.7,947.8 153.1,946.4 M161.0,951.7 Q163.5,943.1 165.6,938.1 M172.3,959.5 Q175.1,965.9 181.9,972.5 M172.3,959.5 Q171.2,967.4 172.7,973.5 M172.3,959.5 Q165.1,956.0 159.3,956.2 M172.3,959.5 Q175.7,953.0 175.8,948.1 M180.4,956.3 Q182.8,960.6 184.4,964.8 M180.4,956.3 Q174.1,964.1 169.3,970.2 M180.4,956.3 Q173.4,953.8 170.0,948.7 M180.4,956.3 Q184.1,955.2 189.3,950.2 M187.7,951.6 Q195.9,951.2 202.0,951.3 M187.7,951.6 Q186.1,954.9 183.3,958.7 M187.7,951.6 Q182.7,947.2 178.5,945.0 M187.7,951.6 Q186.4,945.6 187.2,938.1 M199.4,958.0 Q203.0,960.5 207.6,963.0 M199.4,958.0 Q192.9,965.7 189.8,973.5 M199.4,958.0 Q195.0,955.2 187.5,950.1 M199.4,958.0 Q204.2,952.6 207.7,944.3 M207.8,957.6 Q214.8,959.9 222.7,961.3 M207.8,957.6 Q203.6,961.8 195.6,970.0 M207.8,957.6 Q202.6,954.6 198.3,954.3 M207.8,957.6 Q209.0,955.3 211.9,949.5 M216.8,955.4 Q224.1,954.5 229.7,956.0 M216.8,955.4 Q215.6,962.1 213.0,970.7 M216.8,955.4 Q213.3,951.5 211.8,944.8 M216.8,955.4 Q216.1,947.6 217.9,939.1 M223.8,954.6 Q226.4,961.1 229.6,966.6 M223.8,954.6 Q222.3,958.9 221.8,965.0 M223.8,954.6 Q214.2,954.6 208.3,952.2 M223.8,954.6 Q224.8,950.2 229.7,945.9" stroke="#7df3f1" stroke-width="2.8" fill="none" stroke-linecap="round"/><circle cx="143.7" cy="959.0" r="3.9" fill="#4f9fdc"/><text x="143.7" y="961.8" font-size="9" fill="#10263f" text-anchor="middle">+</text><circle cx="158.7" cy="959.0" r="3.9" fill="#4f9fdc"/><text x="158.7" y="961.8" font-size="9" fill="#10263f" text-anchor="middle">+</text><circle cx="173.7" cy="959.0" r="3.9" fill="#4f9fdc"/><text x="173.7" y="961.8" font-size="9" fill="#10263f" text-anchor="middle">+</text>
<path d="M229.0,957.6 H257.6 V991.7" stroke="#222" stroke-width="1.1" fill="none"/><path d="M248.2,991.7 h18.8 M252.0,995.5 h11.2 M255.0,998.9 h5.2" stroke="#222" stroke-width="1.1" fill="none"/>
<rect x="359.0" y="883.9" width="158.3" height="9.1" fill="#f4b48a"/><circle cx="368.3" cy="888.4" r="3.7" fill="#4f9fdc"/><text x="368.3" y="891.2" font-size="9" fill="#10263f" text-anchor="middle">+</text><circle cx="383.8" cy="888.4" r="3.7" fill="#4f9fdc"/><text x="383.8" y="891.2" font-size="9" fill="#10263f" text-anchor="middle">+</text><circle cx="399.4" cy="888.4" r="3.7" fill="#4f9fdc"/><text x="399.4" y="891.2" font-size="9" fill="#10263f" text-anchor="middle">+</text><circle cx="414.9" cy="888.4" r="3.7" fill="#4f9fdc"/><text x="414.9" y="891.2" font-size="9" fill="#10263f" text-anchor="middle">+</text><circle cx="430.5" cy="888.4" r="3.7" fill="#4f9fdc"/><text x="430.5" y="891.2" font-size="9" fill="#10263f" text-anchor="middle">+</text><circle cx="446.0" cy="888.4" r="3.7" fill="#4f9fdc"/><text x="446.0" y="891.2" font-size="9" fill="#10263f" text-anchor="middle">+</text><circle cx="461.6" cy="888.4" r="3.7" fill="#4f9fdc"/><text x="461.6" y="891.2" font-size="9" fill="#10263f" text-anchor="middle">+</text><circle cx="477.1" cy="888.4" r="3.7" fill="#4f9fdc"/><text x="477.1" y="891.2" font-size="9" fill="#10263f" text-anchor="middle">+</text><circle cx="492.7" cy="888.4" r="3.7" fill="#4f9fdc"/><text x="492.7" y="891.2" font-size="9" fill="#10263f" text-anchor="middle">+</text><circle cx="508.2" cy="888.4" r="3.7" fill="#4f9fdc"/><text x="508.2" y="891.2" font-size="9" fill="#10263f" text-anchor="middle">+</text>
<rect x="359.0" y="919.1" width="158.3" height="56.3" fill="#8c8c8c"/><circle cx="370.0" cy="926.7" r="4.0" fill="#f9c4c4"/><text x="370.0" y="929.6" font-size="9" fill="#7a1d1d" text-anchor="middle">−</text><circle cx="385.6" cy="926.7" r="4.0" fill="#f9c4c4"/><text x="385.6" y="929.6" font-size="9" fill="#7a1d1d" text-anchor="middle">−</text><circle cx="401.1" cy="926.7" r="4.0" fill="#f9c4c4"/><text x="401.1" y="929.6" font-size="9" fill="#7a1d1d" text-anchor="middle">−</text><circle cx="416.7" cy="926.7" r="4.0" fill="#f9c4c4"/><text x="416.7" y="929.6" font-size="9" fill="#7a1d1d" text-anchor="middle">−</text><circle cx="432.2" cy="926.7" r="4.0" fill="#f9c4c4"/><text x="432.2" y="929.6" font-size="9" fill="#7a1d1d" text-anchor="middle">−</text><circle cx="447.8" cy="926.7" r="4.0" fill="#f9c4c4"/><text x="447.8" y="929.6" font-size="9" fill="#7a1d1d" text-anchor="middle">−</text><circle cx="463.3" cy="926.7" r="4.0" fill="#f9c4c4"/><text x="463.3" y="929.6" font-size="9" fill="#7a1d1d" text-anchor="middle">−</text><circle cx="478.9" cy="926.7" r="4.0" fill="#f9c4c4"/><text x="478.9" y="929.6" font-size="9" fill="#7a1d1d" text-anchor="middle">−</text><circle cx="494.4" cy="926.7" r="4.0" fill="#f9c4c4"/><text x="494.4" y="929.6" font-size="9" fill="#7a1d1d" text-anchor="middle">−</text><circle cx="510.0" cy="926.7" r="4.0" fill="#f9c4c4"/><text x="510.0" y="929.6" font-size="9" fill="#7a1d1d" text-anchor="middle">−</text><path d="M370.8,949.7 Q377.5,947.4 386.8,948.2 M370.8,949.7 Q369.2,953.5 364.5,959.5 M370.8,949.7 Q368.8,946.0 365.9,938.9 M370.8,949.7 Q376.7,940.7 380.9,935.3 M379.7,954.1 Q385.3,955.9 388.1,957.1 M379.7,954.1 Q375.6,958.9 367.8,963.2 M379.7,954.1 Q374.1,950.7 370.5,943.6 M379.7,954.1 Q383.5,946.3 383.5,937.3 M386.0,956.5 Q387.5,960.1 392.6,963.5 M386.0,956.5 Q386.5,964.3 387.0,971.9 M386.0,956.5 Q381.7,952.7 374.0,950.4 M386.0,956.5 Q387.3,949.7 390.2,942.1 M396.8,952.6 Q399.6,959.3 405.8,962.1 M396.8,952.6 Q394.7,960.7 393.3,965.5 M396.8,952.6 Q393.5,944.7 391.0,940.1 M396.8,952.6 Q400.5,949.0 403.9,946.6 M405.2,951.8 Q409.0,953.6 412.5,953.0 M405.2,951.8 Q403.2,954.3 399.7,960.4 M405.2,951.8 Q400.2,948.2 391.8,944.9 M405.2,951.8 Q409.8,947.8 414.3,943.0 M417.1,955.7 Q423.7,958.9 429.2,963.3 M417.1,955.7 Q412.1,963.5 406.4,967.7 M417.1,955.7 Q411.9,955.6 405.6,956.8 M417.1,955.7 Q417.5,946.5 418.4,939.2 M422.5,957.9 Q425.2,958.5 430.1,961.1 M422.5,957.9 Q418.1,959.5 415.5,964.3 M422.5,957.9 Q417.9,956.4 414.5,953.0 M422.5,957.9 Q426.8,952.6 434.8,948.2 M434.9,948.6 Q440.1,950.6 446.2,950.6 M434.9,948.6 Q430.1,952.6 427.2,958.7 M434.9,948.6 Q431.9,946.2 427.5,946.5 M434.9,948.6 Q438.4,944.0 445.5,939.5 M443.2,948.7 Q447.5,948.8 449.6,952.9 M443.2,948.7 Q439.7,955.5 433.5,964.4 M443.2,948.7 Q439.0,947.5 436.1,943.4 M443.2,948.7 Q445.4,946.4 448.6,943.0 M450.7,956.3 Q453.5,963.8 457.4,968.6 M450.7,956.3 Q447.7,959.6 446.4,965.7 M450.7,956.3 Q447.9,951.9 443.5,944.9 M450.7,956.3 Q454.1,955.1 458.3,951.0 M462.2,952.1 Q464.3,953.8 469.0,959.1 M462.2,952.1 Q460.7,959.3 459.1,962.8 M462.2,952.1 Q457.7,951.9 450.3,950.9 M462.2,952.1 Q463.9,946.4 469.3,937.1 M471.2,956.3 Q471.9,958.9 476.1,964.0 M471.2,956.3 Q469.1,963.8 463.7,971.9 M471.2,956.3 Q465.0,953.1 460.3,946.0 M471.2,956.3 Q478.6,953.1 482.8,947.6 M480.2,951.5 Q482.9,954.5 489.1,954.2 M480.2,951.5 Q478.6,954.2 478.4,960.2 M480.2,951.5 Q474.4,948.8 471.2,946.2 M480.2,951.5 Q483.5,944.8 484.2,939.7 M489.0,957.0 Q489.8,964.5 494.2,968.3 M489.0,957.0 Q485.3,960.9 484.6,966.8 M489.0,957.0 Q483.2,957.6 481.1,954.3 M489.0,957.0 Q492.0,955.0 495.2,950.7 M498.1,948.9 Q504.7,951.2 508.0,952.9 M498.1,948.9 Q493.5,956.8 492.6,963.2 M498.1,948.9 Q493.3,941.9 489.7,936.5 M498.1,948.9 Q496.4,943.9 497.4,939.3 M508.4,950.4 Q510.9,952.1 512.3,957.6 M508.4,950.4 Q502.5,953.5 498.1,958.7 M508.4,950.4 Q502.0,943.6 496.9,937.7 M508.4,950.4 Q510.0,947.6 512.3,941.4" stroke="#7df3f1" stroke-width="2.8" fill="none" stroke-linecap="round"/><circle cx="397.9" cy="955.9" r="3.9" fill="#4f9fdc"/><text x="397.9" y="958.6" font-size="9" fill="#10263f" text-anchor="middle">+</text><circle cx="413.5" cy="955.9" r="3.9" fill="#4f9fdc"/><text x="413.5" y="958.6" font-size="9" fill="#10263f" text-anchor="middle">+</text><circle cx="428.5" cy="955.9" r="3.9" fill="#4f9fdc"/><text x="428.5" y="958.6" font-size="9" fill="#10263f" text-anchor="middle">+</text><circle cx="444.1" cy="955.9" r="3.9" fill="#4f9fdc"/><text x="444.1" y="958.6" font-size="9" fill="#10263f" text-anchor="middle">+</text><circle cx="459.6" cy="955.9" r="3.9" fill="#4f9fdc"/><text x="459.6" y="958.6" font-size="9" fill="#10263f" text-anchor="middle">+</text><circle cx="475.7" cy="955.9" r="3.9" fill="#4f9fdc"/><text x="475.7" y="958.6" font-size="9" fill="#10263f" text-anchor="middle">+</text>
<path d="M512.8,955.4 H541.3 V990.9" stroke="#222" stroke-width="1.1" fill="none"/><path d="M531.9,990.9 h18.8 M535.7,994.7 h11.2 M538.7,998.1 h5.2" stroke="#222" stroke-width="1.1" fill="none"/>
<rect x="359.0" y="1016.1" width="158.3" height="9.1" fill="#f4b48a"/><circle cx="368.3" cy="1020.6" r="3.7" fill="#4f9fdc"/><text x="368.3" y="1023.4" font-size="9" fill="#10263f" text-anchor="middle">+</text><circle cx="383.8" cy="1020.6" r="3.7" fill="#4f9fdc"/><text x="383.8" y="1023.4" font-size="9" fill="#10263f" text-anchor="middle">+</text><circle cx="399.4" cy="1020.6" r="3.7" fill="#4f9fdc"/><text x="399.4" y="1023.4" font-size="9" fill="#10263f" text-anchor="middle">+</text><circle cx="414.9" cy="1020.6" r="3.7" fill="#4f9fdc"/><text x="414.9" y="1023.4" font-size="9" fill="#10263f" text-anchor="middle">+</text><circle cx="430.5" cy="1020.6" r="3.7" fill="#4f9fdc"/><text x="430.5" y="1023.4" font-size="9" fill="#10263f" text-anchor="middle">+</text><circle cx="446.0" cy="1020.6" r="3.7" fill="#4f9fdc"/><text x="446.0" y="1023.4" font-size="9" fill="#10263f" text-anchor="middle">+</text><circle cx="461.6" cy="1020.6" r="3.7" fill="#4f9fdc"/><text x="461.6" y="1023.4" font-size="9" fill="#10263f" text-anchor="middle">+</text><circle cx="477.1" cy="1020.6" r="3.7" fill="#4f9fdc"/><text x="477.1" y="1023.4" font-size="9" fill="#10263f" text-anchor="middle">+</text><circle cx="492.7" cy="1020.6" r="3.7" fill="#4f9fdc"/><text x="492.7" y="1023.4" font-size="9" fill="#10263f" text-anchor="middle">+</text><circle cx="508.2" cy="1020.6" r="3.7" fill="#4f9fdc"/><text x="508.2" y="1023.4" font-size="9" fill="#10263f" text-anchor="middle">+</text>
<rect x="82.2" y="1045.6" width="152.5" height="9.1" fill="#f4b48a"/><circle cx="91.5" cy="1050.1" r="3.7" fill="#4f9fdc"/><text x="91.5" y="1052.9" font-size="9" fill="#10263f" text-anchor="middle">+</text><circle cx="106.4" cy="1050.1" r="3.7" fill="#4f9fdc"/><text x="106.4" y="1052.9" font-size="9" fill="#10263f" text-anchor="middle">+</text><circle cx="121.3" cy="1050.1" r="3.7" fill="#4f9fdc"/><text x="121.3" y="1052.9" font-size="9" fill="#10263f" text-anchor="middle">+</text><circle cx="136.2" cy="1050.1" r="3.7" fill="#4f9fdc"/><text x="136.2" y="1052.9" font-size="9" fill="#10263f" text-anchor="middle">+</text><circle cx="151.1" cy="1050.1" r="3.7" fill="#4f9fdc"/><text x="151.1" y="1052.9" font-size="9" fill="#10263f" text-anchor="middle">+</text><circle cx="166.0" cy="1050.1" r="3.7" fill="#4f9fdc"/><text x="166.0" y="1052.9" font-size="9" fill="#10263f" text-anchor="middle">+</text><circle cx="180.9" cy="1050.1" r="3.7" fill="#4f9fdc"/><text x="180.9" y="1052.9" font-size="9" fill="#10263f" text-anchor="middle">+</text><circle cx="195.8" cy="1050.1" r="3.7" fill="#4f9fdc"/><text x="195.8" y="1052.9" font-size="9" fill="#10263f" text-anchor="middle">+</text><circle cx="210.7" cy="1050.1" r="3.7" fill="#4f9fdc"/><text x="210.7" y="1052.9" font-size="9" fill="#10263f" text-anchor="middle">+</text><circle cx="225.6" cy="1050.1" r="3.7" fill="#4f9fdc"/><text x="225.6" y="1052.9" font-size="9" fill="#10263f" text-anchor="middle">+</text>
<rect x="82.2" y="1079.8" width="152.5" height="53.9" fill="#8c8c8c"/><circle cx="93.2" cy="1087.4" r="4.0" fill="#f9c4c4"/><text x="93.2" y="1090.3" font-size="9" fill="#7a1d1d" text-anchor="middle">−</text><circle cx="108.1" cy="1087.4" r="4.0" fill="#f9c4c4"/><text x="108.1" y="1090.3" font-size="9" fill="#7a1d1d" text-anchor="middle">−</text><circle cx="123.0" cy="1087.4" r="4.0" fill="#f9c4c4"/><text x="123.0" y="1090.3" font-size="9" fill="#7a1d1d" text-anchor="middle">−</text><circle cx="137.9" cy="1087.4" r="4.0" fill="#f9c4c4"/><text x="137.9" y="1090.3" font-size="9" fill="#7a1d1d" text-anchor="middle">−</text><circle cx="152.8" cy="1087.4" r="4.0" fill="#f9c4c4"/><text x="152.8" y="1090.3" font-size="9" fill="#7a1d1d" text-anchor="middle">−</text><circle cx="167.8" cy="1087.4" r="4.0" fill="#f9c4c4"/><text x="167.8" y="1090.3" font-size="9" fill="#7a1d1d" text-anchor="middle">−</text><circle cx="182.7" cy="1087.4" r="4.0" fill="#f9c4c4"/><text x="182.7" y="1090.3" font-size="9" fill="#7a1d1d" text-anchor="middle">−</text><circle cx="197.6" cy="1087.4" r="4.0" fill="#f9c4c4"/><text x="197.6" y="1090.3" font-size="9" fill="#7a1d1d" text-anchor="middle">−</text><circle cx="212.5" cy="1087.4" r="4.0" fill="#f9c4c4"/><text x="212.5" y="1090.3" font-size="9" fill="#7a1d1d" text-anchor="middle">−</text><circle cx="227.4" cy="1087.4" r="4.0" fill="#f9c4c4"/><text x="227.4" y="1090.3" font-size="9" fill="#7a1d1d" text-anchor="middle">−</text><path d="M93.9,1117.2 Q96.5,1120.9 98.3,1125.2 M93.9,1117.2 Q90.6,1121.4 89.7,1126.0 M93.9,1117.2 Q88.6,1114.4 87.2,1115.0 M93.9,1117.2 Q97.6,1113.2 101.3,1107.4 M100.5,1108.3 Q105.2,1114.5 108.7,1119.8 M100.5,1108.3 Q97.0,1110.9 91.5,1114.6 M100.5,1108.3 Q94.3,1102.2 89.7,1099.4 M100.5,1108.3 Q103.9,1101.6 106.5,1095.3 M110.4,1109.6 Q116.6,1109.1 120.3,1111.0 M110.4,1109.6 Q108.4,1113.6 110.1,1119.4 M110.4,1109.6 Q103.8,1104.1 98.4,1099.6 M110.4,1109.6 Q112.7,1103.9 112.8,1097.8 M117.7,1108.8 Q123.5,1114.0 126.6,1121.3 M117.7,1108.8 Q114.1,1118.7 109.7,1125.1 M117.7,1108.8 Q108.1,1107.5 102.0,1106.9 M117.7,1108.8 Q118.0,1104.0 116.7,1095.3 M128.8,1117.2 Q136.5,1121.8 142.3,1127.6 M128.8,1117.2 Q123.0,1118.7 119.6,1123.5 M128.8,1117.2 Q126.6,1116.6 120.9,1112.4 M128.8,1117.2 Q129.5,1111.0 130.0,1107.4 M136.5,1115.9 Q143.4,1117.0 147.1,1118.6 M136.5,1115.9 Q135.5,1124.6 131.9,1130.2 M136.5,1115.9 Q133.3,1112.8 128.5,1107.0 M136.5,1115.9 Q138.5,1111.0 142.2,1106.9 M146.3,1113.3 Q150.8,1118.6 158.5,1122.9 M146.3,1113.3 Q145.9,1119.5 142.8,1127.7 M146.3,1113.3 Q144.6,1109.3 142.4,1105.0 M146.3,1113.3 Q147.2,1105.7 148.4,1098.5 M154.9,1107.8 Q160.1,1112.3 168.1,1113.9 M154.9,1107.8 Q152.7,1115.7 153.0,1124.0 M154.9,1107.8 Q152.2,1105.8 147.8,1104.0 M154.9,1107.8 Q159.1,1102.3 162.8,1096.7 M162.1,1116.7 Q171.0,1116.8 176.9,1116.8 M162.1,1116.7 Q157.7,1121.4 152.4,1127.7 M162.1,1116.7 Q156.4,1116.8 152.3,1113.2 M162.1,1116.7 Q163.3,1111.8 165.2,1104.2 M171.6,1113.3 Q174.6,1113.4 180.9,1115.7 M171.6,1113.3 Q170.0,1120.2 168.5,1130.2 M171.6,1113.3 Q168.2,1110.8 164.3,1108.9 M171.6,1113.3 Q176.7,1108.8 179.1,1106.3 M182.5,1114.1 Q188.7,1113.1 196.7,1113.2 M182.5,1114.1 Q180.3,1123.1 181.4,1130.2 M182.5,1114.1 Q175.5,1109.4 170.3,1108.1 M182.5,1114.1 Q186.6,1111.6 193.3,1105.3 M191.0,1109.6 Q195.8,1109.9 203.5,1108.4 M191.0,1109.6 Q188.3,1118.1 185.1,1124.6 M191.0,1109.6 Q187.4,1102.9 183.1,1097.6 M191.0,1109.6 Q192.7,1103.5 191.5,1099.8 M197.9,1110.9 Q204.1,1115.1 207.3,1119.8 M197.9,1110.9 Q196.8,1120.2 193.7,1126.1 M197.9,1110.9 Q192.6,1110.3 183.5,1105.9 M197.9,1110.9 Q199.3,1105.7 198.5,1097.9 M205.2,1111.7 Q210.3,1116.6 215.1,1123.7 M205.2,1111.7 Q203.0,1115.8 202.3,1120.4 M205.2,1111.7 Q201.0,1104.7 197.4,1099.8 M205.2,1111.7 Q206.7,1102.6 208.7,1096.0 M217.2,1113.5 Q220.5,1119.7 222.9,1126.4 M217.2,1113.5 Q214.6,1121.9 208.2,1128.9 M217.2,1113.5 Q215.1,1111.2 210.2,1109.7 M217.2,1113.5 Q216.6,1108.7 219.8,1104.7 M226.6,1115.2 Q227.2,1119.4 229.7,1126.3 M226.6,1115.2 Q224.7,1119.1 222.2,1122.8 M226.6,1115.2 Q221.4,1112.4 219.7,1109.9 M226.6,1115.2 Q226.3,1107.7 227.5,1099.2" stroke="#7df3f1" stroke-width="2.8" fill="none" stroke-linecap="round"/><circle cx="119.8" cy="1114.8" r="3.9" fill="#4f9fdc"/><text x="119.8" y="1117.5" font-size="9" fill="#10263f" text-anchor="middle">+</text><circle cx="134.8" cy="1114.8" r="3.9" fill="#4f9fdc"/><text x="134.8" y="1117.5" font-size="9" fill="#10263f" text-anchor="middle">+</text><circle cx="149.8" cy="1114.8" r="3.9" fill="#4f9fdc"/><text x="149.8" y="1117.5" font-size="9" fill="#10263f" text-anchor="middle">+</text><circle cx="164.8" cy="1114.8" r="3.9" fill="#4f9fdc"/><text x="164.8" y="1117.5" font-size="9" fill="#10263f" text-anchor="middle">+</text><circle cx="179.8" cy="1114.8" r="3.9" fill="#4f9fdc"/><text x="179.8" y="1117.5" font-size="9" fill="#10263f" text-anchor="middle">+</text><circle cx="194.8" cy="1114.8" r="3.9" fill="#4f9fdc"/><text x="194.8" y="1117.5" font-size="9" fill="#10263f" text-anchor="middle">+</text>
<path d="M229.5,1114.3 H258.0 V1148.5" stroke="#222" stroke-width="1.1" fill="none"/><path d="M248.6,1148.5 h18.8 M252.4,1152.3 h11.2 M255.4,1155.7 h5.2" stroke="#222" stroke-width="1.1" fill="none"/>
<rect x="359.0" y="1076.2" width="158.3" height="56.7" fill="#8c8c8c"/><circle cx="370.0" cy="1083.8" r="4.0" fill="#f9c4c4"/><text x="370.0" y="1086.7" font-size="9" fill="#7a1d1d" text-anchor="middle">−</text><circle cx="385.6" cy="1083.8" r="4.0" fill="#f9c4c4"/><text x="385.6" y="1086.7" font-size="9" fill="#7a1d1d" text-anchor="middle">−</text><circle cx="401.1" cy="1083.8" r="4.0" fill="#f9c4c4"/><text x="401.1" y="1086.7" font-size="9" fill="#7a1d1d" text-anchor="middle">−</text><circle cx="416.7" cy="1083.8" r="4.0" fill="#f9c4c4"/><text x="416.7" y="1086.7" font-size="9" fill="#7a1d1d" text-anchor="middle">−</text><circle cx="432.2" cy="1083.8" r="4.0" fill="#f9c4c4"/><text x="432.2" y="1086.7" font-size="9" fill="#7a1d1d" text-anchor="middle">−</text><circle cx="447.8" cy="1083.8" r="4.0" fill="#f9c4c4"/><text x="447.8" y="1086.7" font-size="9" fill="#7a1d1d" text-anchor="middle">−</text><circle cx="463.3" cy="1083.8" r="4.0" fill="#f9c4c4"/><text x="463.3" y="1086.7" font-size="9" fill="#7a1d1d" text-anchor="middle">−</text><circle cx="478.9" cy="1083.8" r="4.0" fill="#f9c4c4"/><text x="478.9" y="1086.7" font-size="9" fill="#7a1d1d" text-anchor="middle">−</text><circle cx="494.4" cy="1083.8" r="4.0" fill="#f9c4c4"/><text x="494.4" y="1086.7" font-size="9" fill="#7a1d1d" text-anchor="middle">−</text><circle cx="510.0" cy="1083.8" r="4.0" fill="#f9c4c4"/><text x="510.0" y="1086.7" font-size="9" fill="#7a1d1d" text-anchor="middle">−</text><path d="M369.8,1113.9 Q376.6,1115.8 385.7,1116.3 M369.8,1113.9 Q368.4,1122.5 369.7,1129.4 M369.8,1113.9 Q366.7,1109.4 364.0,1101.9 M369.8,1113.9 Q373.5,1113.4 377.0,1109.2 M379.2,1110.0 Q385.0,1113.6 394.2,1115.1 M379.2,1110.0 Q375.2,1112.4 372.5,1116.4 M379.2,1110.0 Q376.4,1108.3 370.4,1103.3 M379.2,1110.0 Q379.5,1099.3 383.3,1091.9 M388.1,1113.5 Q394.6,1120.3 398.2,1128.9 M388.1,1113.5 Q381.0,1120.3 377.2,1127.0 M388.1,1113.5 Q383.9,1113.8 379.8,1112.7 M388.1,1113.5 Q391.7,1113.1 395.3,1108.6 M397.7,1110.9 Q403.0,1113.0 410.2,1113.9 M397.7,1110.9 Q395.6,1115.6 391.1,1121.1 M397.7,1110.9 Q390.2,1105.6 384.7,1102.8 M397.7,1110.9 Q402.2,1104.2 403.8,1099.5 M405.4,1106.1 Q409.6,1109.8 414.2,1111.4 M405.4,1106.1 Q406.7,1117.3 406.3,1126.0 M405.4,1106.1 Q399.8,1101.8 394.9,1098.2 M405.4,1106.1 Q405.3,1099.5 406.9,1094.1 M416.7,1113.5 Q418.6,1116.5 422.3,1119.1 M416.7,1113.5 Q413.7,1120.2 409.5,1123.6 M416.7,1113.5 Q412.7,1111.4 406.5,1110.7 M416.7,1113.5 Q418.5,1108.6 424.0,1104.0 M422.6,1113.4 Q427.8,1118.1 429.8,1125.0 M422.6,1113.4 Q419.0,1119.6 419.0,1123.1 M422.6,1113.4 Q415.1,1114.6 407.2,1114.1 M422.6,1113.4 Q423.4,1102.3 421.9,1094.5 M432.3,1107.0 Q436.8,1109.3 439.0,1111.6 M432.3,1107.0 Q429.7,1111.0 426.0,1115.5 M432.3,1107.0 Q430.1,1104.2 423.9,1098.6 M432.3,1107.0 Q435.0,1101.6 440.1,1099.1 M441.3,1115.2 Q447.4,1117.9 455.7,1119.6 M441.3,1115.2 Q441.3,1121.6 439.4,1127.2 M441.3,1115.2 Q438.0,1108.6 436.6,1105.4 M441.3,1115.2 Q442.8,1105.4 443.7,1095.7 M451.3,1113.1 Q452.7,1115.3 457.6,1120.1 M451.3,1113.1 Q445.0,1117.5 440.9,1124.0 M451.3,1113.1 Q446.0,1109.9 438.7,1108.8 M451.3,1113.1 Q454.4,1107.9 454.0,1102.2 M463.0,1108.0 Q469.5,1112.1 472.5,1117.2 M463.0,1108.0 Q463.5,1116.8 460.5,1125.7 M463.0,1108.0 Q459.0,1108.2 455.5,1105.1 M463.0,1108.0 Q465.0,1100.4 466.5,1094.9 M468.9,1110.7 Q471.7,1120.0 476.1,1126.9 M468.9,1110.7 Q463.5,1114.3 459.3,1120.3 M468.9,1110.7 Q462.9,1103.7 459.1,1099.6 M468.9,1110.7 Q470.6,1101.8 469.4,1092.7 M480.1,1112.6 Q485.7,1114.7 491.7,1113.9 M480.1,1112.6 Q478.0,1121.5 478.7,1129.4 M480.1,1112.6 Q477.8,1106.7 475.7,1104.7 M480.1,1112.6 Q484.7,1106.4 485.6,1100.2 M490.5,1112.8 Q492.0,1118.4 496.7,1122.9 M490.5,1112.8 Q489.0,1121.2 490.1,1128.6 M490.5,1112.8 Q484.0,1104.4 479.8,1098.6 M490.5,1112.8 Q492.6,1103.7 496.7,1094.7 M497.6,1106.2 Q501.7,1110.3 505.9,1112.5 M497.6,1106.2 Q495.2,1110.7 491.7,1115.0 M497.6,1106.2 Q494.3,1103.7 492.8,1099.8 M497.6,1106.2 Q500.8,1100.6 503.8,1094.0 M508.2,1113.9 Q510.6,1119.6 512.3,1127.9 M508.2,1113.9 Q506.9,1122.1 503.3,1129.4 M508.2,1113.9 Q504.7,1113.3 499.8,1113.4 M508.2,1113.9 Q508.1,1105.8 510.2,1094.4" stroke="#7df3f1" stroke-width="2.8" fill="none" stroke-linecap="round"/><circle cx="370.7" cy="1114.3" r="3.9" fill="#4f9fdc"/><text x="370.7" y="1117.0" font-size="9" fill="#10263f" text-anchor="middle">+</text><circle cx="386.2" cy="1114.3" r="3.9" fill="#4f9fdc"/><text x="386.2" y="1117.0" font-size="9" fill="#10263f" text-anchor="middle">+</text><circle cx="401.8" cy="1114.3" r="3.9" fill="#4f9fdc"/><text x="401.8" y="1117.0" font-size="9" fill="#10263f" text-anchor="middle">+</text><circle cx="417.4" cy="1114.3" r="3.9" fill="#4f9fdc"/><text x="417.4" y="1117.0" font-size="9" fill="#10263f" text-anchor="middle">+</text><circle cx="432.9" cy="1114.3" r="3.9" fill="#4f9fdc"/><text x="432.9" y="1117.0" font-size="9" fill="#10263f" text-anchor="middle">+</text><circle cx="448.4" cy="1114.3" r="3.9" fill="#4f9fdc"/><text x="448.4" y="1117.0" font-size="9" fill="#10263f" text-anchor="middle">+</text><circle cx="464.0" cy="1114.3" r="3.9" fill="#4f9fdc"/><text x="464.0" y="1117.0" font-size="9" fill="#10263f" text-anchor="middle">+</text><circle cx="479.6" cy="1114.3" r="3.9" fill="#4f9fdc"/><text x="479.6" y="1117.0" font-size="9" fill="#10263f" text-anchor="middle">+</text><circle cx="495.1" cy="1114.3" r="3.9" fill="#4f9fdc"/><text x="495.1" y="1117.0" font-size="9" fill="#10263f" text-anchor="middle">+</text><circle cx="510.6" cy="1114.3" r="3.9" fill="#4f9fdc"/><text x="510.6" y="1117.0" font-size="9" fill="#10263f" text-anchor="middle">+</text>
<path d="M517.2,1113.0 H540.8 V1148.0" stroke="#222" stroke-width="1.1" fill="none"/><path d="M531.4,1148.0 h18.8 M535.2,1151.8 h11.2 M538.2,1155.2 h5.2" stroke="#222" stroke-width="1.1" fill="none"/>
<polygon transform="translate(283.0 943.4) rotate(0)" points="0,-3.9 18,-3.9 18,-10.8 32,0 18,10.8 18,3.9 0,3.9" fill="#f0474b" stroke="#7d8fc4" stroke-width="0.5"/>
<polygon transform="translate(283.0 1107.0) rotate(0)" points="0,-3.9 18,-3.9 18,-10.8 32,0 18,10.8 18,3.9 0,3.9" fill="#f0474b" stroke="#7d8fc4" stroke-width="0.5"/>
<polygon transform="translate(151.5 1027.6) rotate(-90)" points="0,-3.9 17,-3.9 17,-10.8 31,0 17,10.8 17,3.9 0,3.9" fill="#f0474b" stroke="#7d8fc4" stroke-width="0.5"/>
<polygon transform="translate(440.8 978.9) rotate(90)" points="0,-3.9 18,-3.9 18,-10.8 32,0 18,10.8 18,3.9 0,3.9" fill="#f0474b" stroke="#7d8fc4" stroke-width="0.5"/>
<path d="M303.2,973.7 V1040.6 M269.5,1006.6 H336.6" stroke="#f5141a" stroke-width="3.2" fill="none"/>
<text x="285.6" y="998.9" font-size="17.4" fill="#111" text-anchor="middle" >I</text>
<text x="318.5" y="998.9" font-size="17.4" fill="#111" text-anchor="middle" >II</text>
<text x="286.1" y="1028.2" font-size="17.4" fill="#111" text-anchor="middle" >IV</text>
<text x="318.5" y="1028.2" font-size="17.4" fill="#111" text-anchor="middle" >III</text>
<path d="M340.3,897 V874" stroke="#5b9bd5" stroke-width="2.6"/><polygon points="340.3,864.5 333.1,874.8 347.5,874.8" fill="#5b9bd5"/>
<path d="M262.2,1024.8 V1048.5" stroke="#5b9bd5" stroke-width="2.6"/><polygon points="262.2,1057.3 255,1048 269.4,1048" fill="#5b9bd5"/>
<text x="300.6" y="908.9" font-size="19.6" fill="#1a6fba" text-anchor="start" >Separate</text>
<text x="211.9" y="1070.2" font-size="19.6" fill="#1a6fba" text-anchor="start" >Approach</text>
<path d="M550.9,948.2 V986" stroke="#f5141a" stroke-width="1.2"/><polygon points="550.9,989.5 549,984 552.8,984" fill="#f5141a"/>
<text x="556.9" y="972.8" font-size="27.4" fill="#f5141a" text-anchor="start" >e</text>
<text x="569.5" y="964.3" font-size="20" fill="#f5141a" text-anchor="start" >-</text>
<path d="M269.4,1151.3 V1114" stroke="#f5141a" stroke-width="1.2"/><polygon points="269.4,1110.5 267.5,1116 271.3,1116" fill="#f5141a"/>
<text x="274.9" y="1136.3" font-size="27.4" fill="#f5141a" text-anchor="start" >e</text>
<text x="287.8" y="1127.8" font-size="20" fill="#f5141a" text-anchor="start" >-</text>
<rect x="73.7" y="1156.3" width="61.7" height="15" fill="#f8be9e"/>
<rect x="73.7" y="1178.6" width="61.7" height="15.3" fill="#8c8e8d"/>
<text x="144.5" y="1170" font-size="19.8" fill="#111" text-anchor="start" >Object</text>
<text x="145.5" y="1194.4" font-size="19.8" fill="#111" text-anchor="start" >MXene/silicone nanocomposite</text>
<path d="M333.9,1159.6 L336.8,1162.9 M336.6,1161.2 L339.0,1164.3 M336.6,1161.2 L336.8,1162.9 M339.8,1160.0 L345.6,1158.7 M339.8,1160.0 L341.6,1164.1 M339.8,1160.0 L339.0,1164.3 M345.6,1158.7 L348.3,1160.4 M345.6,1158.7 L347.4,1163.1 M348.3,1160.4 L350.5,1159.6 M348.3,1160.4 L350.1,1163.1 M348.3,1160.4 L347.4,1163.1 M350.5,1159.6 L355.7,1159.8 M350.5,1159.6 L353.6,1165.6 M350.5,1159.6 L350.1,1163.1 M355.7,1159.8 L359.3,1158.9 M355.7,1159.8 L356.2,1162.8 M359.3,1158.9 L361.6,1158.8 M359.3,1158.9 L356.2,1162.8 M361.6,1158.8 L359.4,1164.5 M365.8,1161.4 L369.5,1160.9 M365.8,1161.4 L367.5,1165.7 M369.5,1160.9 L372.5,1160.8 M369.5,1160.9 L370.9,1164.0 M369.5,1160.9 L367.5,1165.7 M372.5,1160.8 L375.3,1159.3 M372.5,1160.8 L374.9,1163.0 M375.3,1159.3 L380.3,1160.7 M375.3,1159.3 L378.3,1163.3 M375.3,1159.3 L374.9,1163.0 M380.3,1160.7 L383.2,1158.7 M380.3,1160.7 L381.9,1165.8 M380.3,1160.7 L378.3,1163.3 M383.2,1158.7 L386.3,1159.1 M383.2,1158.7 L384.0,1164.5 M386.3,1159.1 L389.9,1161.0 M389.9,1161.0 L393.2,1161.2 M389.9,1161.0 L389.0,1163.2 M393.2,1161.2 L397.1,1163.1 M336.8,1162.9 L339.0,1164.3 M336.8,1162.9 L334.5,1170.1 M336.8,1162.9 L336.8,1169.0 M339.0,1164.3 L341.6,1164.1 M339.0,1164.3 L336.8,1169.0 M339.0,1164.3 L339.9,1168.2 M341.6,1164.1 L347.4,1163.1 M341.6,1164.1 L339.9,1168.2 M341.6,1164.1 L345.0,1169.0 M347.4,1163.1 L350.1,1163.1 M347.4,1163.1 L345.0,1169.0 M350.1,1163.1 L353.6,1165.6 M350.1,1163.1 L348.8,1167.3 M350.1,1163.1 L351.2,1169.8 M353.6,1165.6 L351.2,1169.8 M356.2,1162.8 L358.5,1170.2 M359.4,1164.5 L362.7,1163.0 M359.4,1164.5 L358.5,1170.2 M362.7,1163.0 L367.5,1165.7 M362.7,1163.0 L362.4,1167.1 M362.7,1163.0 L366.5,1168.1 M367.5,1165.7 L370.9,1164.0 M370.9,1164.0 L374.9,1163.0 M370.9,1164.0 L369.1,1167.7 M370.9,1164.0 L372.7,1168.1 M374.9,1163.0 L378.3,1163.3 M374.9,1163.0 L372.7,1168.1 M378.3,1163.3 L381.9,1165.8 M378.3,1163.3 L375.3,1169.1 M378.3,1163.3 L378.9,1169.6 M381.9,1165.8 L384.0,1164.5 M381.9,1165.8 L378.9,1169.6 M384.0,1164.5 L389.0,1163.2 M384.0,1164.5 L382.2,1169.6 M389.0,1163.2 L391.6,1165.9 M389.0,1163.2 L387.7,1168.7 M391.6,1165.9 L397.1,1163.1 M391.6,1165.9 L391.0,1167.9 M391.6,1165.9 L394.6,1168.4 M397.1,1163.1 L394.6,1168.4 M334.5,1170.1 L336.8,1169.0 M336.8,1169.0 L339.0,1172.6 M345.0,1169.0 L346.8,1171.9 M345.0,1169.0 L343.8,1172.6 M348.8,1167.3 L351.2,1169.8 M348.8,1167.3 L350.8,1172.2 M348.8,1167.3 L346.8,1171.9 M351.2,1169.8 L355.4,1168.5 M351.2,1169.8 L350.8,1172.2 M355.4,1168.5 L358.5,1170.2 M355.4,1168.5 L356.1,1174.4 M355.4,1168.5 L352.2,1174.5 M358.5,1170.2 L362.4,1167.1 M358.5,1170.2 L361.7,1173.3 M358.5,1170.2 L356.1,1174.4 M362.4,1167.1 L366.5,1168.1 M362.4,1167.1 L362.7,1171.6 M362.4,1167.1 L361.7,1173.3 M366.5,1168.1 L369.1,1167.7 M366.5,1168.1 L366.8,1172.6 M366.5,1168.1 L362.7,1171.6 M369.1,1167.7 L371.3,1174.5 M369.1,1167.7 L366.8,1172.6 M372.7,1168.1 L375.3,1169.1 M372.7,1168.1 L374.2,1171.9 M372.7,1168.1 L371.3,1174.5 M375.3,1169.1 L378.9,1169.6 M375.3,1169.1 L378.3,1171.8 M378.9,1169.6 L380.6,1173.2 M378.9,1169.6 L378.3,1171.8 M382.2,1169.6 L387.7,1168.7 M382.2,1169.6 L385.7,1171.6 M382.2,1169.6 L380.6,1173.2 M387.7,1168.7 L391.0,1167.9 M387.7,1168.7 L385.7,1171.6 M391.0,1167.9 L392.9,1172.6 M391.0,1167.9 L388.6,1173.7 M394.6,1168.4 L396.8,1171.9 M394.6,1168.4 L392.9,1172.6 M335.1,1174.5 L339.0,1172.6 M339.0,1172.6 L343.8,1172.6 M343.8,1172.6 L346.8,1171.9 M350.8,1172.2 L352.2,1174.5 M352.2,1174.5 L356.1,1174.4 M356.1,1174.4 L361.7,1173.3 M361.7,1173.3 L362.7,1171.6 M371.3,1174.5 L374.2,1171.9 M374.2,1171.9 L378.3,1171.8 M380.6,1173.2 L385.7,1171.6 M385.7,1171.6 L388.6,1173.7 M388.6,1173.7 L392.9,1172.6 M392.9,1172.6 L396.8,1171.9" stroke="#62d8dc" stroke-width="0.8" fill="none" stroke-linecap="round"/>
<text x="401.8" y="1170" font-size="19.7" fill="#111" text-anchor="start" >Conductive sponge</text>
<text x="553.5" y="896.3" font-size="26" fill="#000" text-anchor="start" >(f)</text>
<defs><filter id="fb" x="-5%" y="-5%" width="110%" height="110%"><feGaussianBlur stdDeviation="0.6"/></filter></defs>
<clipPath id="fc1"><rect x="598.4" y="884.5" width="215.4" height="116"/></clipPath><g clip-path="url(#fc1)"><rect x="594.4" y="880.5" width="223.4" height="124" fill="#80ff80"/><g transform="translate(598.4 884.5)" filter="url(#fb)"><path d="M0.0,0.0 216.0,0.0 216.0,67.5 193.0,70.3 169.0,72.5 143.0,74.2 80.0,74.4 62.0,73.7 31.0,71.2 0.0,67.7Z" fill="#88ff77" fill-rule="evenodd"/><path d="M0.0,0.0 216.0,0.0 216.0,56.0 194.9,63.0 175.5,68.0 155.3,72.0 137.0,74.1 89.0,74.4 75.9,74.0 66.3,73.0 54.0,71.0 31.1,66.0 16.8,62.0 0.0,56.4Z" fill="#91ff6e" fill-rule="evenodd"/><path d="M0.0,0.0 216.0,0.0 216.0,31.5 201.9,44.0 187.5,54.0 170.7,63.0 159.2,68.0 150.9,71.0 142.7,73.0 132.0,74.2 84.0,74.2 72.3,73.0 64.1,71.0 55.8,68.0 44.3,63.0 32.6,57.0 24.3,52.0 15.7,46.0 8.2,40.0 0.0,32.5Z" fill="#99ff66" fill-rule="evenodd"/><path d="M20.6,0.0 194.4,0.0 192.9,9.0 190.8,17.0 187.9,25.0 184.0,33.0 179.0,41.0 173.6,48.0 167.1,55.0 160.5,61.0 154.1,66.0 149.4,69.0 145.1,71.0 138.9,73.0 132.0,74.1 108.0,74.2 83.0,74.1 76.1,73.0 69.9,71.0 65.6,69.0 60.9,66.0 54.5,61.0 47.9,55.0 41.4,48.0 36.0,41.0 31.0,33.0 27.1,25.0 24.2,17.0 22.1,9.0Z" fill="#a2ff5e" fill-rule="evenodd"/><path d="M54.3,0.0 160.7,0.0 163.0,6.4 164.5,13.0 165.2,20.0 165.1,27.0 164.2,34.0 162.5,41.0 160.4,47.0 157.2,54.0 152.2,62.0 147.5,67.0 141.5,71.0 134.0,73.6 127.0,74.1 83.7,74.0 78.5,73.0 73.5,71.0 67.5,67.0 64.4,64.0 61.4,60.0 55.9,50.0 51.9,39.0 50.0,29.0 49.8,19.0 51.3,9.0Z" fill="#aaff55" fill-rule="evenodd"/><path d="M75.0,12.9 79.0,8.8 84.0,5.0 89.0,2.2 94.5,0.0 120.5,0.0 127.0,2.7 133.0,6.4 139.0,11.8 144.0,18.3 147.9,26.0 150.3,34.0 151.4,43.0 150.9,52.0 149.0,59.0 145.7,65.0 142.9,68.0 138.9,71.0 134.8,73.0 130.0,73.9 85.0,73.9 80.2,73.0 74.5,70.0 70.2,66.0 66.4,60.0 64.3,53.0 63.5,44.0 64.4,35.0 66.7,27.0 70.0,19.9Z" fill="#b3ff4c" fill-rule="evenodd"/><path d="M74.3,36.0 78.0,30.7 83.0,25.8 88.0,22.2 94.0,19.3 100.0,17.6 107.0,16.8 114.0,17.4 120.0,19.0 126.0,21.6 132.0,25.8 137.0,30.7 140.7,36.0 143.6,42.0 145.4,49.0 145.6,55.0 144.4,61.0 142.6,65.0 139.4,69.0 135.7,72.0 132.0,73.4 124.0,73.8 85.0,73.6 81.4,73.0 77.9,71.0 73.8,67.0 71.4,63.0 69.8,58.0 69.3,53.0 70.0,47.0 71.8,41.0Z" fill="#bbff44" fill-rule="evenodd"/><path d="M75.5,46.0 78.4,41.0 82.0,36.8 87.0,32.6 92.0,29.8 98.0,27.6 104.0,26.5 110.0,26.4 116.0,27.3 122.0,29.3 127.0,32.0 132.0,35.8 136.0,40.2 139.0,45.0 141.0,50.3 141.8,56.0 141.4,61.0 140.0,65.0 137.6,69.0 134.5,72.0 132.0,73.1 126.0,73.6 108.0,73.7 89.0,73.6 83.0,73.1 80.5,72.0 77.4,69.0 75.4,66.0 73.9,62.0 73.2,58.0 73.3,54.0 74.1,50.0Z" fill="#c3ff3c" fill-rule="evenodd"/><path d="M77.8,51.0 80.0,46.7 83.0,42.7 87.0,39.0 92.0,35.8 97.0,33.7 103.0,32.4 109.0,32.1 114.0,32.7 120.0,34.5 125.0,36.9 129.2,40.0 133.0,43.9 136.0,48.4 137.9,53.0 138.7,58.0 138.4,63.0 137.1,67.0 135.5,70.0 133.6,72.0 131.0,73.1 104.0,73.5 83.7,73.0 81.4,72.0 79.5,70.0 76.8,64.0 76.3,58.0Z" fill="#ccff33" fill-rule="evenodd"/><path d="M79.7,56.0 81.3,52.0 84.0,47.7 87.6,44.0 92.0,40.9 97.0,38.5 102.0,37.2 107.0,36.7 112.0,37.1 117.0,38.2 122.0,40.3 127.0,43.6 130.4,47.0 133.2,51.0 135.3,56.0 136.1,61.0 135.9,65.0 135.2,68.0 133.8,71.0 132.9,72.0 130.0,72.9 108.0,73.3 85.0,72.9 82.1,72.0 80.6,70.0 79.8,68.0 78.8,62.0Z" fill="#d5ff2a" fill-rule="evenodd"/><path d="M81.2,62.0 82.6,57.0 84.7,53.0 88.0,49.0 91.0,46.4 95.0,44.0 100.0,42.1 105.0,41.2 110.0,41.2 115.0,42.1 120.0,44.0 124.0,46.4 128.0,50.0 130.9,54.0 132.8,58.0 134.0,63.0 134.1,67.0 133.1,71.0 132.0,72.1 129.0,72.7 113.0,73.1 87.0,72.8 83.0,72.1 81.9,71.0 80.9,67.0Z" fill="#ddff22" fill-rule="evenodd"/><path d="M82.3,68.0 83.0,63.7 84.9,59.0 87.0,55.6 90.4,52.0 94.0,49.3 99.0,47.0 103.0,46.0 108.0,45.6 113.0,46.2 117.0,47.4 121.0,49.3 125.0,52.3 128.0,55.6 130.6,60.0 132.1,64.0 132.8,69.0 132.5,71.0 131.0,72.1 128.0,72.5 93.0,72.8 83.8,72.0 82.5,71.0Z" fill="#e5ff1a" fill-rule="evenodd"/><path d="M83.1,70.0 84.0,66.6 86.0,62.3 89.0,58.3 92.0,55.5 95.0,53.5 99.0,51.6 103.0,50.5 107.0,50.1 111.0,50.4 115.0,51.3 119.0,52.9 123.0,55.5 126.0,58.3 129.0,62.3 131.0,66.6 131.9,70.0 131.8,71.0 131.0,71.5 128.0,72.2 108.0,72.6 87.0,72.2 84.0,71.5 83.2,71.0Z" fill="#eeff11" fill-rule="evenodd"/><path d="M84.1,70.0 86.0,66.4 88.0,63.7 93.0,59.1 100.0,55.7 107.0,54.6 114.0,55.4 121.0,58.5 124.0,60.7 127.0,63.7 129.0,66.4 130.9,70.0 130.9,71.0 127.2,72.0 108.0,72.3 87.8,72.0 84.1,71.0Z" fill="#f7ff08" fill-rule="evenodd"/><path d="M85.5,70.0 90.0,65.1 95.0,61.8 101.0,59.5 107.0,58.7 114.0,59.5 120.0,61.8 125.0,65.1 129.5,70.0 129.4,71.0 126.0,71.6 108.0,72.1 90.0,71.7 85.6,71.0Z" fill="#ffff00" fill-rule="evenodd"/><path d="M87.7,70.0 91.0,67.4 96.0,64.9 101.0,63.4 107.0,62.7 113.0,63.2 118.0,64.5 123.0,66.8 127.3,70.0 126.9,71.0 108.0,71.6 88.1,71.0Z" fill="#fff600" fill-rule="evenodd"/><path d="M92.3,70.0 95.0,68.6 99.0,67.4 107.0,66.5 116.0,67.4 120.0,68.6 122.7,70.0 120.1,71.0 108.0,71.2 94.9,71.0Z" fill="#ffee00" fill-rule="evenodd"/><path d="M0.0,81.3 31.0,77.8 62.0,75.3 80.0,74.6 143.0,74.8 169.0,76.5 193.0,78.7 216.0,81.5 216.0,116.0 0.0,116.0Z" fill="#77ff88" fill-rule="evenodd"/><path d="M0.0,92.6 16.8,87.0 31.1,83.0 48.9,79.0 66.3,76.0 78.0,74.9 133.0,74.7 148.0,75.9 166.1,79.0 183.9,83.0 201.5,88.0 216.0,93.0 216.0,116.0 0.0,116.0Z" fill="#6fff91" fill-rule="evenodd"/><path d="M0.5,116.0 13.1,105.0 27.5,95.0 42.2,87.0 58.3,80.0 67.7,77.0 79.2,75.0 107.0,74.7 135.8,75.0 147.3,77.0 156.7,80.0 172.8,87.0 187.5,95.0 201.9,105.0 214.5,116.0Z" fill="#66ff99" fill-rule="evenodd"/><path d="M31.0,116.0 37.4,106.0 45.9,96.0 56.9,86.0 65.6,80.0 72.6,77.0 81.5,75.0 107.0,74.8 133.5,75.0 142.4,77.0 149.4,80.0 158.1,86.0 169.1,96.0 177.6,106.0 184.0,116.0Z" fill="#5effa2" fill-rule="evenodd"/><path d="M50.6,116.0 53.5,105.0 57.8,95.0 62.8,87.0 68.7,81.0 75.8,77.0 82.0,75.2 107.0,74.9 133.0,75.2 139.2,77.0 146.3,81.0 152.2,87.0 157.2,95.0 161.5,105.0 164.4,116.0Z" fill="#55ffaa" fill-rule="evenodd"/><path d="M64.8,94.0 66.9,88.0 70.2,83.0 74.5,79.0 81.0,75.8 87.0,75.0 107.0,75.0 128.0,75.0 134.0,75.8 138.9,78.0 142.9,81.0 146.4,85.0 149.0,90.0 150.7,96.0 151.4,102.0 151.3,109.0 150.1,116.0 64.9,116.0 63.5,105.0 63.9,99.0Z" fill="#4dffb3" fill-rule="evenodd"/><path d="M70.9,87.0 73.1,83.0 75.6,80.0 79.3,77.0 83.0,75.6 107.0,75.1 132.0,75.6 135.7,77.0 138.4,79.0 141.2,82.0 143.6,86.0 145.0,90.0 145.6,94.0 145.0,102.0 142.8,109.0 138.8,116.0 76.2,116.0 72.2,109.0 69.8,101.0 69.4,94.0Z" fill="#44ffbb" fill-rule="evenodd"/><path d="M73.9,87.0 75.4,83.0 77.4,80.0 80.5,77.0 83.0,75.9 98.0,75.3 131.0,75.7 133.0,76.2 135.8,78.0 139.6,83.0 141.6,89.0 141.7,95.0 140.3,101.0 137.3,107.0 133.2,112.0 128.6,116.0 86.4,116.0 80.0,110.1 75.5,103.0 74.1,99.0 73.3,95.0 73.2,91.0Z" fill="#3cffc3" fill-rule="evenodd"/><path d="M76.6,86.0 77.9,82.0 79.5,79.0 81.4,77.0 83.7,76.0 98.0,75.5 130.0,75.8 133.6,77.0 136.7,81.0 138.4,86.0 138.6,92.0 137.2,98.0 134.6,103.0 130.3,108.0 125.0,112.1 120.0,114.5 115.3,116.0 99.7,116.0 95.0,114.5 90.0,112.1 85.8,109.0 81.9,105.0 79.0,100.6 77.1,96.0 76.3,91.0Z" fill="#33ffcc" fill-rule="evenodd"/><path d="M79.2,83.0 81.2,78.0 82.1,77.0 85.0,76.1 103.0,75.7 129.5,76.0 132.9,77.0 134.4,79.0 135.9,84.0 136.1,89.0 135.0,94.0 132.6,99.0 129.0,103.5 125.0,106.9 120.0,109.7 115.0,111.4 110.0,112.2 104.0,112.1 98.0,110.8 93.0,108.7 88.0,105.4 84.6,102.0 81.8,98.0 79.7,93.0 78.9,88.0Z" fill="#2affd5" fill-rule="evenodd"/><path d="M81.2,80.0 81.9,78.0 82.9,77.0 87.0,76.2 113.0,75.9 129.0,76.3 132.0,76.9 133.1,78.0 134.1,82.0 134.0,86.0 133.0,90.4 130.9,95.0 128.0,99.0 124.0,102.6 120.0,105.0 115.0,106.9 110.0,107.8 104.0,107.7 99.0,106.6 94.0,104.5 90.0,101.8 86.2,98.0 83.5,94.0 81.6,89.0 80.9,84.0Z" fill="#22ffdd" fill-rule="evenodd"/><path d="M82.3,79.0 82.5,78.0 83.8,77.0 88.0,76.4 122.0,76.2 131.2,77.0 132.5,78.0 132.8,80.0 132.1,85.0 130.6,89.0 128.0,93.4 125.0,96.7 121.0,99.7 117.0,101.6 112.0,103.0 107.0,103.4 102.0,102.8 97.0,101.2 93.0,99.0 89.0,95.7 86.0,91.9 83.9,88.0 82.5,83.0Z" fill="#19ffe6" fill-rule="evenodd"/><path d="M83.1,79.0 83.2,78.0 84.0,77.5 87.0,76.8 107.0,76.4 128.0,76.8 131.0,77.5 131.8,78.0 131.9,79.0 131.0,82.4 129.0,86.7 126.0,90.7 123.0,93.5 120.0,95.5 116.0,97.4 112.0,98.5 108.0,98.9 104.0,98.6 100.0,97.7 96.0,96.1 92.0,93.5 89.0,90.7 86.0,86.7 84.0,82.4Z" fill="#11ffee" fill-rule="evenodd"/><path d="M84.1,79.0 84.1,78.0 87.8,77.0 107.0,76.7 127.2,77.0 130.9,78.0 130.9,79.0 129.0,82.6 127.0,85.3 122.0,89.9 115.0,93.3 108.0,94.4 101.0,93.6 94.0,90.5 91.0,88.3 88.0,85.3 86.0,82.6Z" fill="#08fff7" fill-rule="evenodd"/><path d="M85.5,79.0 85.6,78.0 89.0,77.4 107.0,76.9 125.0,77.3 129.4,78.0 129.5,79.0 125.0,83.9 120.0,87.2 114.0,89.5 108.0,90.3 101.0,89.5 95.0,87.2 90.0,83.9Z" fill="#00ffff" fill-rule="evenodd"/><path d="M87.7,79.0 88.1,78.0 107.0,77.4 126.9,78.0 127.3,79.0 124.0,81.6 119.0,84.1 114.0,85.6 108.0,86.3 102.0,85.8 97.0,84.5 92.0,82.2Z" fill="#00f6ff" fill-rule="evenodd"/><path d="M92.3,79.0 94.9,78.0 107.0,77.8 120.1,78.0 122.7,79.0 120.0,80.4 116.0,81.6 108.0,82.5 99.0,81.6 95.0,80.4Z" fill="#00eeff" fill-rule="evenodd"/></g></g><line x1="680.9" y1="955.7" x2="730.9" y2="955.7" stroke="#94741c" stroke-width="1.5" opacity="0.9"/><line x1="680.9" y1="962.3" x2="730.9" y2="962.3" stroke="#0c4c80" stroke-width="1.3" opacity="0.9"/><text x="610" y="908.3" font-size="21.8" fill="#111" text-anchor="start" >(i)</text>
<clipPath id="fc2"><rect x="820.6" y="885" width="215.1" height="115.6"/></clipPath><g clip-path="url(#fc2)"><rect x="816.6" y="881" width="223.1" height="123.6" fill="#80ff80"/><g transform="translate(820.6 885)" filter="url(#fb)"><path d="M0.0,0.0 216.0,0.0 216.0,59.1 188.4,64.0 161.0,67.5 139.0,69.1 81.0,69.3 62.0,68.3 30.0,64.5 0.0,59.3Z" fill="#91ff6e" fill-rule="evenodd"/><path d="M0.0,0.0 216.0,0.0 216.0,39.3 201.1,48.0 186.4,55.0 165.3,63.0 150.5,67.0 134.0,68.9 108.0,69.1 82.0,68.9 71.0,68.0 64.7,67.0 49.9,63.0 31.2,56.0 16.0,49.0 0.0,39.8Z" fill="#a2ff5e" fill-rule="evenodd"/><path d="M2.9,0.0 212.3,0.0 208.4,9.0 204.2,17.0 199.0,25.0 193.7,32.0 187.4,39.0 181.1,45.0 172.5,52.0 164.0,58.0 153.2,64.0 147.6,66.0 141.0,67.5 130.0,68.7 85.0,68.7 74.0,67.5 67.6,66.0 62.0,64.0 51.2,58.0 41.4,51.0 34.1,45.0 27.8,39.0 21.5,32.0 16.2,25.0 11.0,17.0 6.8,9.0Z" fill="#b3ff4c" fill-rule="evenodd"/><path d="M31.5,0.0 183.7,0.0 183.2,7.0 181.8,15.0 179.5,23.0 176.7,30.0 172.5,38.0 168.0,45.0 162.6,52.0 157.0,58.0 153.2,61.0 148.0,64.0 143.0,66.0 138.0,67.4 129.0,68.4 108.0,68.6 86.0,68.3 77.0,67.3 72.2,66.0 67.2,64.0 62.0,61.0 58.2,58.0 52.6,52.0 47.2,45.0 42.7,38.0 38.5,30.0 35.7,23.0 33.4,15.0 32.2,8.0Z" fill="#c3ff3c" fill-rule="evenodd"/><path d="M52.9,0.0 162.3,0.0 164.8,11.0 165.2,23.0 163.4,35.0 159.4,47.0 155.6,54.0 150.3,60.0 144.5,64.0 140.0,66.0 136.0,67.1 124.0,68.2 89.0,68.1 80.0,67.3 72.8,65.0 66.1,61.0 61.1,56.0 56.7,49.0 53.2,40.0 50.7,29.0 49.9,19.0 50.7,9.0Z" fill="#d5ff2a" fill-rule="evenodd"/><path d="M66.1,9.0 69.0,4.4 72.5,0.0 142.7,0.0 147.0,5.6 150.2,11.0 153.0,17.9 154.8,25.0 155.8,33.0 155.7,40.0 154.5,47.0 152.3,53.0 149.0,58.0 144.8,62.0 139.0,65.4 133.0,67.2 120.0,67.9 90.0,67.8 81.2,67.0 75.2,65.0 69.2,61.0 64.7,56.0 61.6,50.0 59.9,43.0 59.4,34.0 60.4,25.0 62.5,17.0Z" fill="#e5ff1a" fill-rule="evenodd"/><path d="M70.0,22.0 74.1,16.0 80.0,10.0 86.0,5.7 93.0,2.4 98.0,0.9 103.0,0.0 113.0,0.1 122.0,2.3 129.0,5.6 136.0,10.7 141.1,16.0 145.8,23.0 149.0,30.4 150.8,38.0 151.0,45.0 149.5,52.0 147.0,57.0 142.5,62.0 138.1,65.0 133.0,66.7 122.0,67.6 96.0,67.6 85.0,67.1 79.0,65.8 73.9,63.0 69.7,59.0 66.6,54.0 64.6,48.0 64.1,42.0 65.0,35.0 67.0,28.2Z" fill="#f7ff08" fill-rule="evenodd"/><path d="M70.3,33.0 73.7,27.0 78.0,21.7 83.0,17.4 89.0,13.7 96.0,10.9 103.0,9.5 110.0,9.3 117.0,10.3 124.0,12.6 130.0,15.8 136.0,20.5 140.8,26.0 144.4,32.0 146.6,38.0 147.6,45.0 147.0,51.0 145.1,56.0 141.7,61.0 138.2,64.0 133.0,66.2 125.0,67.1 107.0,67.4 90.0,67.1 82.0,66.1 78.0,64.6 74.5,62.0 71.2,58.0 68.8,53.0 67.7,48.0 67.7,43.0 68.6,38.0Z" fill="#fff700" fill-rule="evenodd"/><path d="M72.3,38.0 75.0,32.5 79.0,27.3 84.0,22.9 89.0,19.7 95.0,17.2 102.0,15.5 109.0,15.2 115.0,15.8 122.0,17.8 128.0,20.7 133.0,24.3 138.0,29.4 141.6,35.0 143.6,40.0 144.7,46.0 144.3,52.0 142.6,57.0 139.2,62.0 136.0,64.5 132.0,65.9 124.0,66.8 110.0,67.1 93.0,66.9 84.0,66.1 80.2,65.0 77.0,63.0 74.3,60.0 72.2,56.0 70.9,52.0 70.5,47.0 71.0,42.3Z" fill="#ffe500" fill-rule="evenodd"/><path d="M74.4,41.0 77.0,35.7 80.6,31.0 85.0,27.0 90.0,23.8 96.0,21.3 102.0,19.9 108.0,19.5 114.0,20.0 120.0,21.5 126.0,24.2 131.0,27.6 135.5,32.0 139.0,37.0 141.1,42.0 142.2,48.0 141.9,53.0 140.5,58.0 138.0,62.0 135.6,64.0 132.0,65.4 125.0,66.4 113.0,66.7 95.0,66.6 85.0,65.8 81.7,65.0 79.0,63.6 76.4,61.0 74.8,58.0 73.5,54.0 73.0,50.0 73.4,45.0Z" fill="#ffd400" fill-rule="evenodd"/><path d="M76.3,44.0 78.6,39.0 82.0,34.3 86.0,30.5 91.0,27.2 96.0,25.1 102.0,23.6 108.0,23.2 114.0,23.7 120.0,25.4 125.0,27.7 130.0,31.1 134.0,35.2 137.2,40.0 139.2,45.0 140.0,50.0 139.8,55.0 138.7,59.0 136.9,62.0 134.0,64.2 130.0,65.4 122.0,66.2 107.0,66.4 93.0,66.1 85.0,65.4 82.0,64.6 79.2,63.0 76.5,59.0 75.6,56.0 75.2,52.0 75.4,48.0Z" fill="#ffc300" fill-rule="evenodd"/><path d="M77.7,48.0 79.6,43.0 82.8,38.0 86.7,34.0 91.0,31.0 96.0,28.6 102.0,27.0 107.0,26.6 113.0,27.0 119.0,28.6 124.0,30.9 128.0,33.6 132.0,37.5 135.1,42.0 137.2,47.0 138.1,52.0 137.9,57.0 136.7,61.0 135.0,63.0 133.0,64.1 129.0,65.2 122.0,65.8 109.0,66.0 95.0,65.9 87.0,65.3 81.0,63.5 78.5,61.0 77.4,58.0 77.0,55.0Z" fill="#ffb200" fill-rule="evenodd"/><path d="M78.9,52.0 80.4,47.0 83.0,42.4 86.0,38.7 90.0,35.4 95.0,32.5 100.0,30.8 105.0,30.0 111.0,30.1 116.0,31.0 121.2,33.0 126.0,35.9 130.0,39.6 133.0,43.6 135.2,48.0 136.5,53.0 136.6,58.0 135.9,61.0 134.1,63.0 132.0,64.0 128.0,64.9 110.0,65.7 89.0,65.1 83.0,63.9 79.9,62.0 78.6,58.0Z" fill="#ffa100" fill-rule="evenodd"/><path d="M79.7,57.0 80.7,52.0 82.4,48.0 85.0,44.0 89.0,39.9 93.0,37.1 98.0,34.8 103.0,33.6 109.0,33.2 114.0,33.9 119.0,35.5 124.0,38.2 128.0,41.5 131.0,45.1 133.7,50.0 135.2,55.0 135.6,59.0 135.2,61.0 134.0,62.5 132.0,63.5 128.0,64.5 116.0,65.3 96.0,65.2 87.0,64.4 82.0,63.0 80.0,61.0Z" fill="#ff9000" fill-rule="evenodd"/><path d="M80.5,60.0 81.1,56.0 83.0,51.2 85.7,47.0 89.0,43.5 93.0,40.5 98.0,38.1 103.0,36.8 108.0,36.5 113.0,37.0 118.0,38.4 122.0,40.4 126.0,43.3 129.0,46.4 132.0,50.8 134.0,55.7 134.7,60.0 133.8,62.0 129.0,63.8 121.0,64.7 108.0,65.0 95.0,64.7 87.0,64.0 82.0,62.4 80.6,61.0Z" fill="#ff7f00" fill-rule="evenodd"/><path d="M81.2,60.0 82.5,56.0 85.0,51.4 88.0,47.7 91.0,45.1 95.0,42.6 99.0,40.9 103.0,40.0 108.0,39.6 113.0,40.1 117.0,41.2 121.0,43.0 125.0,45.7 128.0,48.6 131.0,52.6 133.0,56.6 134.0,60.0 133.9,61.0 133.0,62.0 128.0,63.6 120.0,64.4 108.0,64.6 95.0,64.4 87.0,63.6 82.2,62.0 81.3,61.0Z" fill="#ff6e00" fill-rule="evenodd"/><path d="M82.0,61.0 82.9,58.0 85.0,54.3 88.0,50.7 92.0,47.4 96.0,45.1 100.0,43.6 108.0,42.5 116.0,43.8 120.0,45.5 124.0,47.9 127.0,50.5 130.0,54.1 132.3,58.0 133.2,61.0 131.0,62.4 126.0,63.5 108.0,64.2 89.0,63.4 84.0,62.3Z" fill="#ff5d00" fill-rule="evenodd"/><path d="M82.9,61.0 83.5,59.0 86.0,55.5 89.0,52.4 93.0,49.4 100.0,46.3 108.0,45.3 116.0,46.5 123.0,49.9 129.0,55.2 132.0,59.6 132.3,61.0 130.0,62.2 125.0,63.2 108.0,63.9 90.0,63.2 85.0,62.2Z" fill="#ff4c00" fill-rule="evenodd"/><path d="M84.0,61.0 84.1,60.0 87.0,56.5 90.0,53.9 94.0,51.3 101.0,48.6 108.0,47.8 115.0,48.8 122.0,51.7 128.0,56.3 131.0,59.9 131.2,61.0 129.0,62.0 124.0,62.9 108.0,63.5 92.0,62.9 86.1,62.0Z" fill="#ff3b00" fill-rule="evenodd"/><path d="M85.4,61.0 85.5,60.0 88.0,57.5 95.0,53.0 101.0,51.0 108.0,50.2 115.0,51.2 121.0,53.4 127.0,57.3 129.7,60.0 129.8,61.0 126.9,62.0 123.0,62.5 108.0,63.1 93.0,62.6 88.3,62.0Z" fill="#ff2a00" fill-rule="evenodd"/><path d="M87.2,61.0 87.3,60.0 89.0,58.5 96.0,54.7 102.0,53.0 108.0,52.5 114.0,53.1 120.0,55.0 126.0,58.4 127.9,60.0 128.0,61.0 122.0,62.2 108.0,62.7 94.0,62.3Z" fill="#ff1900" fill-rule="evenodd"/><path d="M89.6,61.0 89.7,60.0 91.1,59.0 97.0,56.3 102.0,55.1 108.0,54.6 114.0,55.2 119.0,56.6 124.1,59.0 125.5,60.0 125.6,61.0 118.6,62.0 108.0,62.3 96.6,62.0Z" fill="#ff0800" fill-rule="evenodd"/><path d="M93.0,60.0 100.0,57.5 108.0,56.7 116.0,57.7 122.2,60.0 122.0,61.0 108.0,61.8 93.2,61.0Z" fill="#f60000" fill-rule="evenodd"/><path d="M98.9,60.0 104.0,59.0 108.0,58.8 116.2,60.0 115.2,61.0 108.0,61.2 100.0,61.0Z" fill="#e50000" fill-rule="evenodd"/><path d="M0.0,79.6 21.0,75.8 43.0,72.7 62.0,70.6 80.0,69.7 141.0,69.8 165.0,71.8 198.0,76.4 216.0,79.8 216.0,116.0 0.0,116.0Z" fill="#6fff91" fill-rule="evenodd"/><path d="M0.0,99.1 15.8,90.0 30.9,83.0 49.6,76.0 64.1,72.0 73.0,70.7 84.0,69.9 124.0,69.8 137.0,70.2 152.0,72.2 159.3,74.0 168.5,77.0 188.9,85.0 208.5,95.0 216.0,99.6 216.0,116.0 0.0,116.0Z" fill="#5effa2" fill-rule="evenodd"/><path d="M14.7,116.0 23.1,105.0 34.0,94.0 46.7,84.0 54.1,79.0 59.6,76.0 67.3,73.0 77.0,70.9 87.0,70.2 128.0,70.2 138.0,70.9 147.9,73.0 155.6,76.0 161.1,79.0 168.5,84.0 181.2,94.0 191.2,104.0 200.5,116.0Z" fill="#4dffb3" fill-rule="evenodd"/><path d="M35.7,116.0 40.4,105.0 47.9,93.0 56.1,83.0 63.4,77.0 71.9,73.0 80.0,71.0 89.0,70.5 126.0,70.4 135.0,71.0 143.3,73.0 151.8,77.0 159.1,83.0 167.3,93.0 174.2,104.0 179.5,116.0Z" fill="#3cffc3" fill-rule="evenodd"/><path d="M50.0,116.0 51.6,105.0 55.3,93.0 60.2,84.0 66.0,78.0 72.6,74.0 80.0,71.6 88.0,70.8 108.0,70.6 127.0,70.8 135.0,71.6 142.6,74.0 149.2,78.0 155.0,84.0 157.5,88.0 159.8,93.0 163.4,104.0 165.2,116.0Z" fill="#2affd5" fill-rule="evenodd"/><path d="M60.7,92.0 63.4,85.0 68.0,79.0 73.2,75.0 80.0,72.2 88.0,71.2 106.0,70.9 126.0,71.1 135.0,72.1 140.2,74.0 146.2,78.0 149.9,82.0 152.8,87.0 154.8,93.0 155.8,100.0 155.7,108.0 154.4,116.0 60.8,116.0 59.8,110.0 59.3,104.0 59.6,98.0Z" fill="#1affe5" fill-rule="evenodd"/><path d="M65.7,87.0 68.2,82.0 72.5,77.0 76.9,74.0 82.0,72.2 90.0,71.4 107.0,71.2 125.0,71.4 133.0,72.2 137.0,73.4 141.4,76.0 144.7,79.0 147.6,83.0 149.5,87.0 150.7,92.0 151.1,97.0 150.4,103.0 148.5,110.0 145.7,116.0 69.5,116.0 66.4,109.0 64.5,101.0 64.2,94.0Z" fill="#08fff7" fill-rule="evenodd"/><path d="M69.5,84.0 71.8,80.0 75.5,76.0 78.5,74.0 83.0,72.5 91.0,71.8 107.0,71.5 124.0,71.7 132.0,72.5 135.0,73.3 138.4,75.0 141.8,78.0 144.7,82.0 146.4,86.0 147.4,90.0 147.6,94.0 147.1,99.0 145.6,104.0 143.8,108.0 141.4,112.0 138.3,116.0 76.9,116.0 74.0,112.3 71.3,108.0 68.4,100.0 67.6,92.0 68.2,88.0Z" fill="#00f7ff" fill-rule="evenodd"/><path d="M72.6,82.0 75.0,78.0 78.2,75.0 81.0,73.6 85.0,72.6 93.8,72.0 123.0,72.1 131.0,72.8 134.0,73.5 137.0,75.0 139.3,77.0 141.6,80.0 143.5,84.0 144.5,88.0 144.7,92.0 144.3,96.0 142.5,102.0 139.8,107.0 136.0,111.8 131.2,116.0 84.0,116.0 80.0,112.6 76.8,109.0 74.0,104.7 71.9,100.0 70.7,95.0 70.5,91.0 71.1,86.0Z" fill="#00e5ff" fill-rule="evenodd"/><path d="M73.7,84.0 75.2,80.0 77.1,77.0 80.0,74.7 84.0,73.3 91.0,72.5 103.0,72.2 120.0,72.3 129.0,72.9 133.0,73.7 135.8,75.0 138.1,77.0 139.5,79.0 140.9,82.0 141.9,86.0 142.0,93.0 139.9,100.0 136.0,106.3 130.1,112.0 123.4,116.0 91.8,116.0 87.0,113.3 83.0,110.3 79.0,106.1 76.3,102.0 74.5,98.0 73.2,93.0 73.0,88.0Z" fill="#00d4ff" fill-rule="evenodd"/><path d="M75.9,82.0 77.5,78.0 79.1,76.0 82.0,74.3 86.0,73.4 94.0,72.7 121.0,72.7 129.0,73.3 134.7,75.0 137.7,78.0 139.8,84.0 139.8,91.0 138.1,97.0 135.3,102.0 131.9,106.0 127.0,110.0 122.0,112.7 116.0,114.8 110.0,115.7 103.0,115.5 97.0,114.2 91.0,111.7 85.5,108.0 81.0,103.5 78.0,98.9 75.8,93.0 75.2,87.0Z" fill="#00c3ff" fill-rule="evenodd"/><path d="M78.0,79.0 79.1,77.0 81.7,75.0 85.0,74.0 89.0,73.4 112.0,72.9 129.0,73.7 134.0,75.2 136.8,78.0 138.1,83.0 137.9,89.0 136.5,94.0 133.8,99.0 130.0,103.5 125.0,107.4 120.0,110.0 114.0,111.7 108.0,112.3 102.0,111.9 96.0,110.3 91.0,107.9 86.0,104.3 82.0,99.9 79.2,95.0 77.5,90.0 77.0,84.0Z" fill="#00b2ff" fill-rule="evenodd"/><path d="M78.7,80.0 79.2,78.0 80.9,76.0 83.0,75.0 87.0,74.0 102.0,73.2 124.0,73.6 130.0,74.4 134.3,76.0 135.4,77.0 136.3,79.0 136.7,84.0 135.8,89.0 133.8,94.0 131.0,98.1 127.0,102.2 122.0,105.5 117.0,107.6 111.0,108.8 105.0,108.9 99.0,107.8 94.0,105.9 89.0,102.8 85.0,99.1 82.0,95.0 79.7,90.0 78.6,85.0Z" fill="#00a1ff" fill-rule="evenodd"/><path d="M79.7,79.0 80.6,77.0 82.0,75.9 88.0,74.3 100.0,73.6 119.0,73.7 128.0,74.4 133.0,75.8 135.3,78.0 135.6,81.0 134.7,86.0 133.0,90.5 130.1,95.0 127.0,98.3 123.0,101.3 118.0,103.8 113.0,105.2 107.0,105.7 101.0,104.9 96.0,103.3 91.0,100.5 87.0,97.2 83.6,93.0 81.1,88.0 79.8,83.0Z" fill="#0090ff" fill-rule="evenodd"/><path d="M80.6,78.0 82.0,76.5 87.0,74.9 95.0,74.2 108.0,73.9 121.0,74.2 129.0,75.1 132.0,75.9 133.9,77.0 134.7,79.0 134.0,83.2 132.0,88.1 129.0,92.5 126.0,95.6 122.0,98.5 118.0,100.5 113.0,101.9 108.0,102.4 103.0,102.1 98.0,100.8 93.0,98.4 89.0,95.4 85.8,92.0 83.0,87.7 81.1,83.0Z" fill="#007fff" fill-rule="evenodd"/><path d="M81.2,78.0 82.1,77.0 84.0,76.1 89.0,75.0 108.0,74.3 127.0,75.1 132.0,76.4 134.0,78.0 133.1,82.0 131.0,86.3 128.0,90.3 125.0,93.2 121.0,95.9 117.0,97.7 113.0,98.8 108.0,99.3 103.0,99.0 98.0,97.6 94.0,95.8 90.0,93.0 87.0,90.1 84.0,85.9 82.0,81.7Z" fill="#006eff" fill-rule="evenodd"/><path d="M82.0,78.0 84.0,76.6 89.0,75.5 108.0,74.7 126.0,75.4 131.0,76.5 133.2,78.0 132.3,81.0 130.0,84.9 127.0,88.4 124.0,91.0 120.0,93.4 116.0,95.1 108.0,96.4 100.0,95.3 96.0,93.8 92.0,91.5 88.0,88.2 85.0,84.6 83.0,81.2Z" fill="#005dff" fill-rule="evenodd"/><path d="M82.9,78.0 85.0,76.7 90.0,75.7 108.0,75.0 125.0,75.7 130.0,76.7 132.3,78.0 131.6,80.0 129.0,83.7 123.0,89.0 116.0,92.4 108.0,93.6 100.0,92.6 93.0,89.5 87.0,84.6 84.0,80.7Z" fill="#004cff" fill-rule="evenodd"/><path d="M84.0,78.0 86.0,76.9 91.5,76.0 108.0,75.4 124.0,76.0 129.0,76.9 131.2,78.0 131.0,79.0 128.0,82.6 122.0,87.2 115.0,90.1 108.0,91.1 101.0,90.3 94.0,87.6 88.0,83.4 85.0,80.2Z" fill="#003bff" fill-rule="evenodd"/><path d="M85.4,78.0 87.8,77.0 92.0,76.4 108.0,75.8 123.0,76.4 127.4,77.0 129.9,78.0 129.6,79.0 127.0,81.6 121.0,85.5 115.0,87.7 108.0,88.7 101.0,87.9 95.0,85.9 88.0,81.4 85.6,79.0Z" fill="#002aff" fill-rule="evenodd"/><path d="M87.1,78.0 90.6,77.0 108.0,76.2 122.0,76.7 128.1,78.0 127.8,79.0 126.0,80.5 120.0,83.9 114.0,85.8 108.0,86.4 102.0,85.9 96.0,84.2 90.0,81.1 87.4,79.0Z" fill="#0019ff" fill-rule="evenodd"/><path d="M89.5,78.0 95.1,77.0 108.0,76.6 120.1,77.0 125.7,78.0 125.4,79.0 124.0,80.0 119.0,82.3 114.0,83.7 108.0,84.3 102.0,83.8 97.0,82.6 91.2,80.0 89.8,79.0Z" fill="#0008ff" fill-rule="evenodd"/><path d="M92.9,78.0 108.0,77.1 122.3,78.0 122.0,79.0 118.0,80.6 113.0,81.8 108.0,82.2 103.0,81.9 98.0,80.9 93.2,79.0Z" fill="#0000f6" fill-rule="evenodd"/><path d="M99.2,79.0 99.3,78.0 108.0,77.7 115.9,78.0 116.0,79.0 108.0,80.1 104.0,79.9Z" fill="#0000e5" fill-rule="evenodd"/></g></g><line x1="901.2" y1="946.1" x2="955.2" y2="946.1" stroke="#5a1c10" stroke-width="1.5" opacity="0.9"/><line x1="901.2" y1="962.8" x2="955.2" y2="962.8" stroke="#0a1040" stroke-width="1.3" opacity="0.9"/><text x="828" y="908.3" font-size="21.8" fill="#111" text-anchor="start" >(ii)</text>
<clipPath id="fc4"><rect x="598.4" y="1008.3" width="215.4" height="115"/></clipPath><g clip-path="url(#fc4)"><rect x="594.4" y="1004.3" width="223.4" height="123" fill="#80ff80"/><g transform="translate(598.4 1008.3)" filter="url(#fb)"><path d="M0.0,0.0 216.0,0.0 216.0,58.2 189.4,63.0 161.0,66.8 141.0,68.4 78.0,68.5 61.0,67.4 29.0,63.5 0.0,58.3Z" fill="#91ff6e" fill-rule="evenodd"/><path d="M0.0,0.0 216.0,0.0 216.0,37.6 202.2,46.0 186.1,54.0 165.6,62.0 151.6,66.0 137.0,68.0 125.0,68.3 83.0,68.2 67.0,66.6 52.8,63.0 31.6,55.0 15.0,47.0 0.0,38.0Z" fill="#a2ff5e" fill-rule="evenodd"/><path d="M5.5,0.0 209.9,0.0 206.2,9.0 202.1,17.0 197.0,25.0 191.8,32.0 185.5,39.0 179.3,45.0 170.8,52.0 162.5,58.0 157.6,61.0 151.1,64.0 139.9,67.0 130.0,68.0 86.0,68.0 75.4,67.0 64.3,64.0 57.8,61.0 52.9,58.0 44.6,52.0 36.1,45.0 29.9,39.0 23.6,32.0 18.4,25.0 13.3,17.0 9.2,9.0Z" fill="#b3ff4c" fill-rule="evenodd"/><path d="M33.7,0.0 181.7,0.0 181.2,8.0 180.1,15.0 177.9,23.0 175.2,30.0 171.7,37.0 166.8,45.0 161.5,52.0 156.9,57.0 153.3,60.0 148.3,63.0 143.7,65.0 138.0,66.6 129.0,67.6 108.0,67.9 86.0,67.6 77.0,66.5 71.7,65.0 67.1,63.0 62.1,60.0 58.5,57.0 53.9,52.0 48.6,45.0 43.7,37.0 40.2,30.0 37.5,23.0 35.3,15.0 34.2,8.0Z" fill="#c3ff3c" fill-rule="evenodd"/><path d="M54.9,0.0 160.5,0.0 162.3,6.0 163.4,12.0 163.9,24.0 163.2,30.0 161.9,37.0 159.7,44.0 157.6,49.0 154.0,55.0 149.2,60.0 142.9,64.0 135.0,66.6 122.0,67.5 88.0,67.3 80.0,66.5 72.5,64.0 66.2,60.0 61.4,55.0 57.3,48.0 54.1,39.0 52.0,29.0 51.4,19.0 52.5,9.0Z" fill="#d5ff2a" fill-rule="evenodd"/><path d="M66.7,11.0 70.5,5.0 74.8,0.0 140.6,0.0 145.0,5.1 149.0,11.5 151.9,18.0 153.9,25.0 155.0,33.0 155.0,40.0 154.1,46.0 152.0,52.0 148.9,57.0 143.7,62.0 138.3,65.0 133.0,66.5 120.0,67.2 90.0,67.1 82.0,66.4 76.0,64.5 70.4,61.0 65.7,56.0 62.5,50.0 60.9,44.0 60.2,36.0 61.1,27.0 63.2,19.0Z" fill="#e5ff1a" fill-rule="evenodd"/><path d="M71.6,21.0 76.0,15.2 82.0,9.7 88.0,5.8 95.0,2.9 102.0,1.3 110.0,1.0 117.0,2.0 124.0,4.2 131.0,8.0 137.0,12.8 142.0,18.4 146.1,25.0 149.2,33.0 150.5,40.0 150.2,47.0 148.4,53.0 145.5,58.0 141.5,62.0 137.0,64.8 132.9,66.0 122.0,66.8 95.0,66.9 85.0,66.4 79.0,65.0 73.9,62.0 69.9,58.0 67.0,53.0 65.2,47.0 64.9,41.0 65.9,34.0 68.3,27.0Z" fill="#f7ff08" fill-rule="evenodd"/><path d="M71.4,32.0 75.0,26.1 79.5,21.0 85.0,16.6 91.0,13.3 97.0,11.2 104.0,10.0 111.0,9.9 118.0,11.1 125.0,13.6 131.0,17.1 136.0,21.1 141.0,26.9 144.5,33.0 146.5,39.0 147.1,45.0 146.4,51.0 144.5,56.0 140.9,61.0 137.0,64.0 133.0,65.5 125.0,66.4 106.0,66.6 90.0,66.4 82.0,65.4 78.4,64.0 74.5,61.0 71.5,57.0 69.3,52.0 68.3,47.0 68.4,42.0 69.5,37.0Z" fill="#fff700" fill-rule="evenodd"/><path d="M73.2,37.0 76.0,31.8 80.0,26.9 85.0,22.6 90.0,19.6 96.0,17.2 103.0,15.7 110.0,15.5 116.0,16.3 122.0,18.1 128.0,21.0 133.4,25.0 138.0,29.8 141.3,35.0 143.5,41.0 144.3,47.0 143.8,52.0 142.0,57.0 139.4,61.0 136.0,63.8 132.0,65.2 124.0,66.1 106.0,66.3 91.0,66.1 83.0,65.1 79.8,64.0 77.0,62.0 74.5,59.0 72.5,55.0 71.4,51.0 71.1,46.0 71.6,42.0Z" fill="#ffe500" fill-rule="evenodd"/><path d="M75.0,41.0 77.3,36.0 81.0,31.1 85.0,27.4 90.0,24.1 96.0,21.5 102.0,20.1 108.0,19.7 114.0,20.2 120.0,21.7 126.0,24.4 131.0,27.9 135.2,32.0 138.6,37.0 140.7,42.0 141.8,48.0 141.5,53.0 139.9,58.0 137.3,62.0 134.3,64.0 131.0,65.0 123.0,65.8 109.0,66.0 93.0,65.8 85.0,65.1 82.0,64.4 79.3,63.0 77.2,61.0 75.5,58.0 74.1,54.0 73.6,50.0 73.8,46.0Z" fill="#ffd400" fill-rule="evenodd"/><path d="M76.6,45.0 78.6,40.0 81.9,35.0 85.9,31.0 90.0,28.1 95.0,25.7 101.0,24.0 107.0,23.3 113.0,23.7 119.0,25.2 124.0,27.3 129.0,30.6 133.5,35.0 136.8,40.0 138.8,45.0 139.6,50.0 139.3,55.0 138.2,59.0 136.3,62.0 134.0,63.6 130.0,64.7 122.0,65.4 94.0,65.5 86.0,64.8 80.4,63.0 77.7,60.0 76.5,57.0 75.8,53.0 75.9,49.0Z" fill="#ffc300" fill-rule="evenodd"/><path d="M78.3,48.0 80.1,43.0 83.0,38.5 87.0,34.3 91.0,31.4 96.0,29.0 102.0,27.3 107.0,26.8 113.0,27.2 119.0,28.8 124.0,31.2 128.1,34.0 132.0,38.0 135.0,42.5 136.8,47.0 137.8,52.0 137.6,57.0 136.8,60.0 135.4,62.0 133.0,63.5 129.0,64.5 122.0,65.1 95.0,65.1 87.0,64.5 81.4,63.0 80.0,62.0 78.6,60.0 77.5,54.0Z" fill="#ffb200" fill-rule="evenodd"/><path d="M79.2,53.0 80.6,48.0 83.0,43.2 86.0,39.4 90.0,35.9 94.0,33.5 99.0,31.5 104.0,30.4 110.0,30.3 115.0,31.1 120.0,32.8 125.0,35.6 129.0,39.0 132.2,43.0 134.8,48.0 136.2,53.0 136.4,58.0 135.5,61.0 134.6,62.0 132.0,63.3 128.0,64.2 111.0,65.0 90.0,64.5 84.0,63.5 80.8,62.0 79.9,61.0 79.2,59.0Z" fill="#ffa100" fill-rule="evenodd"/><path d="M80.0,58.0 80.9,53.0 82.4,49.0 85.0,44.8 89.0,40.5 93.0,37.6 98.0,35.3 103.0,34.0 108.0,33.6 113.0,34.1 118.0,35.5 123.0,38.0 127.0,41.0 130.6,45.0 133.0,49.0 134.8,54.0 135.4,59.0 134.8,61.0 133.7,62.0 128.0,63.8 118.0,64.5 100.0,64.5 90.0,64.1 84.0,63.0 82.0,62.2 80.6,61.0Z" fill="#ff9000" fill-rule="evenodd"/><path d="M80.8,60.0 81.5,56.0 83.6,51.0 86.3,47.0 90.0,43.2 94.0,40.5 98.0,38.6 103.0,37.3 108.0,36.9 113.0,37.4 118.0,38.8 122.0,40.8 126.0,43.7 129.1,47.0 132.0,51.3 133.9,56.0 134.6,60.0 134.2,61.0 132.8,62.0 128.0,63.3 120.0,64.0 108.0,64.3 95.0,64.0 87.0,63.3 82.6,62.0 81.2,61.0Z" fill="#ff7f00" fill-rule="evenodd"/><path d="M81.5,60.0 82.8,56.0 85.0,52.0 88.0,48.3 91.0,45.7 95.0,43.1 99.0,41.4 103.0,40.4 108.0,40.0 112.0,40.3 116.0,41.3 120.0,42.9 124.0,45.4 127.0,47.9 130.0,51.5 132.6,56.0 133.9,60.0 133.4,61.0 132.0,61.8 127.0,63.1 108.0,63.9 96.0,63.7 88.0,63.0 83.0,61.6 82.0,61.0Z" fill="#ff6e00" fill-rule="evenodd"/><path d="M82.3,60.0 84.0,56.4 86.0,53.5 89.0,50.3 92.0,47.9 96.0,45.6 100.0,44.0 108.0,42.9 112.0,43.3 116.0,44.2 123.0,47.6 129.0,53.0 132.0,57.4 133.1,60.0 132.0,61.3 127.0,62.7 120.0,63.3 108.0,63.5 89.0,62.7 84.0,61.6 82.9,61.0Z" fill="#ff5d00" fill-rule="evenodd"/><path d="M83.3,60.0 85.0,57.1 88.0,53.7 94.0,49.3 101.0,46.5 108.0,45.7 115.0,46.6 122.0,49.6 128.0,54.3 131.0,57.9 132.1,60.0 131.0,61.2 126.0,62.4 108.0,63.2 90.0,62.4 84.0,61.0Z" fill="#ff4c00" fill-rule="evenodd"/><path d="M84.5,60.0 86.0,57.9 89.0,55.0 95.0,51.2 101.0,49.0 108.0,48.2 115.0,49.2 121.0,51.5 127.0,55.5 130.9,60.0 130.0,61.0 125.0,62.1 108.0,62.8 90.0,62.0 85.4,61.0Z" fill="#ff3b00" fill-rule="evenodd"/><path d="M86.0,60.0 90.0,56.2 96.0,53.0 102.0,51.2 108.0,50.6 114.0,51.3 120.0,53.2 126.0,56.7 129.4,60.0 128.2,61.0 123.0,61.8 108.0,62.4 92.0,61.8 87.2,61.0Z" fill="#ff2a00" fill-rule="evenodd"/><path d="M87.9,60.0 91.0,57.5 97.0,54.7 102.0,53.4 108.0,52.9 114.0,53.5 119.0,54.9 124.0,57.3 127.5,60.0 125.7,61.0 108.0,62.0 93.0,61.4 89.7,61.0Z" fill="#ff1900" fill-rule="evenodd"/><path d="M90.6,60.0 93.0,58.3 98.0,56.4 103.0,55.4 108.0,55.0 113.0,55.4 118.0,56.6 122.0,58.1 124.8,60.0 121.8,61.0 108.0,61.5 94.0,61.0Z" fill="#ff0800" fill-rule="evenodd"/><path d="M94.7,60.0 96.3,59.0 100.0,58.0 108.0,57.2 115.6,58.0 119.1,59.0 120.7,60.0 114.0,61.0 101.0,60.9Z" fill="#f60000" fill-rule="evenodd"/><path d="M0.0,79.1 22.3,75.0 45.0,71.7 64.0,69.7 82.0,68.9 129.0,68.8 147.0,69.4 169.0,71.6 194.0,75.1 216.0,79.2 216.0,115.0 0.0,115.0Z" fill="#6fff91" fill-rule="evenodd"/><path d="M0.0,99.4 13.9,91.0 28.0,84.0 45.3,77.0 61.1,72.0 72.4,70.0 84.0,69.2 122.0,69.1 137.0,69.5 149.6,71.0 164.4,75.0 187.4,84.0 205.0,93.0 216.0,99.8 216.0,115.0 0.0,115.0Z" fill="#5effa2" fill-rule="evenodd"/><path d="M16.6,115.0 25.7,103.0 35.5,93.0 49.2,82.0 60.6,75.0 68.5,72.0 78.1,70.0 88.0,69.4 128.0,69.4 137.3,70.0 146.9,72.0 156.0,75.6 167.6,83.0 181.0,94.0 190.6,104.0 198.8,115.0Z" fill="#4dffb3" fill-rule="evenodd"/><path d="M37.3,115.0 42.3,103.0 48.9,92.0 56.9,82.0 64.2,76.0 72.0,72.3 80.0,70.3 88.0,69.7 127.0,69.7 135.0,70.3 142.5,72.0 151.2,76.0 158.5,82.0 166.5,92.0 173.6,104.0 178.1,115.0Z" fill="#3cffc3" fill-rule="evenodd"/><path d="M51.5,115.0 52.9,103.0 56.6,91.0 60.9,83.0 63.4,80.0 66.7,77.0 73.4,73.0 81.0,70.7 89.2,70.0 108.0,69.8 126.2,70.0 135.0,70.8 142.0,73.0 148.7,77.0 154.5,83.0 156.9,87.0 159.2,92.0 162.5,103.0 163.9,115.0Z" fill="#2affd5" fill-rule="evenodd"/><path d="M61.6,90.0 64.6,83.0 68.6,78.0 73.9,74.0 80.0,71.4 89.0,70.4 111.0,70.1 128.0,70.4 136.0,71.6 141.5,74.0 145.7,77.0 150.1,82.0 152.7,87.0 154.5,93.0 155.1,100.0 154.7,108.0 153.3,115.0 62.1,115.0 60.7,108.0 60.3,102.0 60.5,96.0Z" fill="#1affe5" fill-rule="evenodd"/><path d="M66.3,86.0 68.8,81.0 73.2,76.0 77.6,73.0 82.0,71.5 90.0,70.7 106.0,70.4 125.0,70.7 133.0,71.4 137.0,72.6 141.0,75.0 144.3,78.0 147.2,82.0 149.1,86.0 150.3,91.0 150.5,96.0 150.0,101.0 148.1,108.0 144.7,115.0 70.7,115.0 67.3,108.0 65.2,100.0 64.9,93.0Z" fill="#08fff7" fill-rule="evenodd"/><path d="M70.6,82.0 73.1,78.0 76.1,75.0 79.2,73.0 84.0,71.6 93.0,70.9 113.0,70.8 126.0,71.1 133.0,71.9 136.2,73.0 139.4,75.0 142.3,78.0 144.8,82.0 146.3,86.0 147.0,90.0 147.1,94.0 146.5,98.0 145.4,102.0 143.2,107.0 140.6,111.0 137.3,115.0 78.1,115.0 75.0,111.3 72.2,107.0 70.4,103.0 68.9,98.0 68.3,94.0 68.4,90.0 69.1,86.0Z" fill="#00f7ff" fill-rule="evenodd"/><path d="M72.0,84.0 73.6,80.0 76.4,76.0 79.0,73.8 83.0,72.3 89.0,71.5 100.0,71.1 119.0,71.2 129.0,71.7 133.0,72.4 136.0,73.6 138.0,75.0 140.6,78.0 142.3,81.0 143.7,85.0 144.2,89.0 144.1,93.0 142.7,99.0 139.8,105.0 135.9,110.0 130.1,115.0 85.3,115.0 81.5,112.0 78.0,108.3 73.5,101.0 72.0,96.9 71.2,92.0 71.2,88.0Z" fill="#00e5ff" fill-rule="evenodd"/><path d="M74.5,82.0 76.2,78.0 78.5,75.0 81.0,73.4 85.0,72.3 93.0,71.6 122.0,71.6 130.0,72.2 135.5,74.0 137.8,76.0 139.2,78.0 140.6,81.0 141.6,85.0 141.5,92.0 139.8,98.0 136.0,104.4 131.0,109.5 124.0,114.0 121.8,115.0 93.6,115.0 89.0,112.7 84.0,109.2 80.0,105.2 77.1,101.0 75.0,96.4 73.9,92.0 73.6,87.0Z" fill="#00d4ff" fill-rule="evenodd"/><path d="M77.0,79.0 78.6,76.0 80.0,74.7 83.0,73.2 87.0,72.4 96.0,71.9 123.0,72.0 130.0,72.7 134.3,74.0 135.9,75.0 137.5,77.0 139.4,83.0 139.3,90.0 137.9,95.0 135.0,100.4 131.0,105.1 126.0,108.9 120.0,111.9 114.0,113.5 108.0,114.1 102.0,113.6 96.0,112.1 90.0,109.3 85.0,105.6 80.8,101.0 77.9,96.0 76.1,90.0 75.8,84.0Z" fill="#00c3ff" fill-rule="evenodd"/><path d="M77.9,80.0 78.8,77.0 80.5,75.0 83.0,73.7 87.0,72.9 105.0,72.1 127.0,72.7 133.0,73.9 136.0,76.0 137.5,80.0 137.7,86.0 136.7,91.0 134.0,96.6 130.6,101.0 126.0,105.0 121.0,107.8 116.0,109.5 110.0,110.5 104.0,110.4 98.0,109.1 93.0,107.1 88.0,103.9 84.0,100.2 80.5,95.0 78.4,90.0 77.6,85.0Z" fill="#00b2ff" fill-rule="evenodd"/><path d="M79.1,79.0 79.6,77.0 81.0,75.3 83.7,74.0 87.0,73.3 101.0,72.5 122.0,72.7 130.0,73.6 134.0,75.0 135.8,77.0 136.4,82.0 135.6,87.0 133.7,92.0 131.0,96.1 127.0,100.3 122.0,103.6 117.0,105.7 112.0,106.9 106.0,107.1 100.0,106.2 95.0,104.4 90.0,101.5 86.0,98.0 82.9,94.0 80.4,89.0 79.2,84.0Z" fill="#00a1ff" fill-rule="evenodd"/><path d="M80.1,78.0 80.9,76.0 82.0,75.2 87.0,73.7 97.0,72.9 115.0,72.8 125.0,73.3 131.0,74.2 134.5,76.0 135.1,77.0 135.4,79.0 134.6,84.0 133.0,88.4 130.0,93.1 126.3,97.0 122.0,100.0 117.0,102.3 112.0,103.5 107.0,103.8 102.0,103.2 97.0,101.8 92.0,99.2 88.0,96.0 84.6,92.0 82.0,87.5 80.5,83.0Z" fill="#0090ff" fill-rule="evenodd"/><path d="M80.8,78.0 80.9,77.0 82.0,75.8 87.0,74.1 95.0,73.4 108.0,73.1 121.0,73.4 129.0,74.2 133.8,76.0 134.5,77.0 134.6,78.0 133.7,82.0 132.0,86.1 129.0,90.6 126.0,93.7 122.0,96.6 118.0,98.6 113.0,100.0 108.0,100.5 103.0,100.1 98.0,98.8 94.0,96.9 90.0,94.2 87.0,91.3 84.0,87.2 82.0,83.0Z" fill="#007fff" fill-rule="evenodd"/><path d="M81.6,77.0 84.0,75.3 89.0,74.2 108.0,73.5 127.0,74.3 132.0,75.6 133.8,77.0 133.0,80.5 131.0,84.4 128.0,88.4 125.0,91.3 121.0,94.0 117.0,95.8 113.0,96.9 108.0,97.4 103.0,97.0 99.0,96.0 95.0,94.3 91.0,91.7 88.0,89.1 85.0,85.4 82.6,81.0Z" fill="#006eff" fill-rule="evenodd"/><path d="M82.4,77.0 85.0,75.5 90.0,74.5 108.0,73.9 126.0,74.6 131.0,75.7 133.1,77.0 132.0,80.0 129.0,84.4 123.0,89.8 116.0,93.2 108.0,94.5 100.0,93.4 96.0,91.8 92.0,89.5 89.0,87.1 86.0,83.9 83.0,79.2Z" fill="#005dff" fill-rule="evenodd"/><path d="M83.3,77.0 85.0,76.0 90.0,75.0 108.0,74.3 125.0,74.9 130.0,75.8 132.1,77.0 131.0,79.5 128.0,83.1 122.0,87.8 115.0,90.8 108.0,91.7 100.0,90.6 93.0,87.6 87.0,82.7 84.0,78.9Z" fill="#004cff" fill-rule="evenodd"/><path d="M84.5,77.0 86.6,76.0 92.0,75.2 108.0,74.6 124.0,75.2 128.8,76.0 130.9,77.0 130.0,78.8 127.0,81.9 121.0,85.9 115.0,88.2 108.0,89.2 101.0,88.4 94.0,85.7 88.0,81.5 85.0,78.3Z" fill="#003bff" fill-rule="evenodd"/><path d="M86.1,77.0 89.0,76.0 93.0,75.5 108.0,75.0 123.0,75.6 126.4,76.0 129.3,77.0 129.0,78.1 126.0,80.7 120.0,84.2 114.0,86.1 108.0,86.8 101.0,86.0 95.0,84.0 89.0,80.4 86.3,78.0Z" fill="#002aff" fill-rule="evenodd"/><path d="M88.1,77.0 94.0,75.9 108.0,75.4 122.0,75.9 127.3,77.0 127.1,78.0 125.0,79.5 119.0,82.5 114.0,83.9 108.0,84.5 102.0,84.0 96.0,82.3 90.0,79.3 88.4,78.0Z" fill="#0019ff" fill-rule="evenodd"/><path d="M90.9,77.0 99.0,76.0 117.0,76.0 124.5,77.0 124.3,78.0 118.0,80.8 113.0,82.0 108.0,82.4 102.0,81.9 97.0,80.7 91.1,78.0Z" fill="#0008ff" fill-rule="evenodd"/><path d="M95.3,77.0 108.0,76.4 120.1,77.0 120.0,78.0 117.0,79.1 108.0,80.2 99.0,79.2 95.4,78.0Z" fill="#0000f6" fill-rule="evenodd"/></g></g><line x1="679.1" y1="1068.9" x2="733.1" y2="1068.9" stroke="#5a1c10" stroke-width="1.5" opacity="0.9"/><line x1="679.1" y1="1085.1" x2="733.1" y2="1085.1" stroke="#0a1040" stroke-width="1.3" opacity="0.9"/><text x="604.4" y="1035" font-size="21.8" fill="#111" text-anchor="start" >(iv)</text>
<clipPath id="fc3"><rect x="820.6" y="1008.9" width="215.1" height="114.4"/></clipPath><g clip-path="url(#fc3)"><rect x="816.6" y="1004.9" width="223.1" height="122.4" fill="#80ff80"/><g transform="translate(820.6 1008.9)" filter="url(#fb)"><path d="M0.0,0.0 216.0,0.0 216.0,56.4 186.0,60.7 169.0,62.4 145.0,63.7 110.0,64.1 73.0,63.8 48.0,62.5 30.0,60.8 0.0,56.6Z" fill="#91ff6e" fill-rule="evenodd"/><path d="M0.0,0.0 216.0,0.0 216.0,44.4 188.4,55.0 178.8,58.0 162.3,61.0 144.1,63.0 120.0,63.7 79.0,63.4 60.7,62.0 40.9,59.0 29.6,56.0 0.0,44.7Z" fill="#a2ff5e" fill-rule="evenodd"/><path d="M0.0,0.0 216.0,0.0 216.0,25.7 205.8,34.0 184.0,50.5 176.0,54.6 165.4,58.0 148.0,61.6 133.0,63.1 92.0,63.4 79.5,63.0 72.0,62.3 62.0,60.7 49.8,58.0 42.0,55.6 35.6,53.0 27.6,48.0 0.0,26.4Z" fill="#b3ff4c" fill-rule="evenodd"/><path d="M4.8,0.0 210.4,0.0 202.4,15.0 187.1,38.0 181.4,45.0 175.1,50.0 169.7,53.0 162.5,56.0 153.2,59.0 144.9,61.0 131.0,62.8 108.0,63.2 85.0,62.8 71.0,61.1 55.6,57.0 47.7,54.0 41.0,50.6 33.8,45.0 28.1,38.0 12.8,15.0Z" fill="#c3ff3c" fill-rule="evenodd"/><path d="M24.7,0.0 190.5,0.0 185.6,21.0 181.4,34.0 179.4,38.0 176.7,42.0 170.3,48.0 164.0,52.0 158.1,55.0 150.8,58.0 142.0,60.6 130.0,62.3 108.0,62.8 86.0,62.4 73.0,60.6 64.4,58.0 57.1,55.0 51.2,52.0 44.9,48.0 41.3,45.0 37.8,41.0 33.4,33.0 28.8,18.0Z" fill="#d5ff2a" fill-rule="evenodd"/><path d="M38.8,0.0 176.4,0.0 177.8,17.0 177.6,23.0 176.7,29.0 175.2,34.0 173.2,38.0 170.4,42.0 166.5,46.0 161.4,50.0 155.0,54.0 149.0,57.0 143.0,59.3 133.0,61.5 120.0,62.3 92.0,62.2 78.0,60.8 68.0,57.7 56.8,52.0 48.7,46.0 45.7,43.0 42.6,39.0 39.3,32.0 37.7,24.0 37.5,13.0Z" fill="#e5ff1a" fill-rule="evenodd"/><path d="M43.5,19.0 45.2,10.0 48.8,0.0 166.4,0.0 169.1,7.0 170.8,13.0 171.7,19.0 171.8,24.0 171.2,29.0 170.1,33.0 167.7,38.0 164.9,42.0 161.2,46.0 156.7,50.0 151.0,54.0 145.6,57.0 137.5,60.0 129.0,61.4 114.0,62.1 93.0,61.9 82.0,60.9 74.0,58.8 64.2,54.0 56.1,48.0 50.3,42.0 45.9,35.0 44.4,31.0 43.6,27.0Z" fill="#f7ff08" fill-rule="evenodd"/><path d="M48.6,20.0 49.5,15.0 51.1,10.0 53.3,5.0 56.3,0.0 158.9,0.0 162.4,6.0 164.9,12.0 166.4,18.0 166.8,24.0 166.2,29.0 165.1,33.0 163.3,37.0 160.2,42.0 156.1,47.0 151.8,51.0 147.9,54.0 142.9,57.0 136.0,59.6 128.0,61.0 114.0,61.6 95.0,61.5 85.0,60.8 77.1,59.0 68.8,55.0 62.2,50.0 55.7,43.0 50.9,35.0 48.8,28.0Z" fill="#fff700" fill-rule="evenodd"/><path d="M53.4,20.0 54.5,15.0 56.4,10.0 59.1,5.0 62.8,0.0 152.4,0.0 156.7,6.0 159.7,12.0 161.6,19.0 162.0,25.0 161.5,29.0 160.2,34.0 158.5,38.0 155.6,43.0 148.9,51.0 145.4,54.0 140.6,57.0 134.0,59.5 126.0,60.7 112.0,61.3 94.0,61.0 85.0,60.2 78.0,58.5 71.2,55.0 65.2,50.0 59.6,43.0 55.4,35.0 53.4,27.0Z" fill="#ffe500" fill-rule="evenodd"/><path d="M58.6,18.0 60.0,13.4 62.1,9.0 65.5,4.0 69.1,0.0 146.1,0.0 151.2,6.0 155.0,13.0 157.0,20.0 157.2,28.0 155.1,37.0 152.9,42.0 150.5,46.0 144.4,53.0 138.0,57.3 131.0,59.5 122.0,60.5 104.0,60.9 89.0,60.2 81.9,59.0 76.0,56.7 70.8,53.0 65.4,47.0 61.3,40.0 58.6,32.0 57.8,25.0Z" fill="#ffd400" fill-rule="evenodd"/><path d="M64.1,16.0 66.4,11.0 69.0,7.0 75.9,0.0 139.3,0.0 146.2,7.0 149.0,11.3 151.1,16.0 152.3,20.0 153.0,25.0 153.0,30.0 152.2,35.0 149.5,43.0 145.3,50.0 140.2,55.0 134.4,58.0 126.0,59.7 113.0,60.4 95.0,60.2 84.0,58.9 78.3,57.0 73.8,54.0 69.2,49.0 65.7,43.0 63.2,36.0 62.2,29.0 62.5,22.0Z" fill="#ffc300" fill-rule="evenodd"/><path d="M69.6,15.0 72.0,10.9 75.2,7.0 79.0,3.4 83.9,0.0 131.3,0.0 136.9,4.0 140.9,8.0 144.5,13.0 147.0,18.0 148.7,24.0 149.3,30.0 148.9,36.0 147.4,42.0 144.7,48.0 140.9,53.0 137.0,56.1 131.0,58.4 121.0,59.7 104.0,60.0 90.0,59.3 82.0,57.7 77.0,55.3 73.3,52.0 69.9,47.0 67.5,41.0 66.2,35.0 66.0,28.0 67.2,21.0Z" fill="#ffb200" fill-rule="evenodd"/><path d="M73.6,17.0 77.1,12.0 82.2,7.0 88.0,3.2 95.0,0.2 119.4,0.0 124.0,1.6 130.0,4.8 135.3,9.0 139.6,14.0 143.1,20.0 145.3,27.0 146.1,34.0 145.3,41.0 143.4,47.0 140.4,52.0 137.2,55.0 133.0,57.2 127.0,58.6 115.0,59.5 98.0,59.4 88.0,58.6 81.0,56.7 76.7,54.0 74.1,51.0 71.4,46.0 69.7,40.0 69.1,34.0 69.7,28.0 71.3,22.0Z" fill="#ffa100" fill-rule="evenodd"/><path d="M76.2,21.0 80.0,15.6 84.8,11.0 90.0,7.6 96.0,5.1 102.0,3.7 109.0,3.3 116.0,4.2 122.0,6.1 128.0,9.3 132.7,13.0 137.0,17.9 140.1,23.0 142.3,29.0 143.3,36.0 143.0,42.0 141.4,48.0 139.1,52.0 135.9,55.0 132.0,56.9 126.0,58.2 114.0,59.1 98.7,59.0 89.0,58.2 82.0,56.4 78.0,54.0 75.4,51.0 73.4,47.0 72.2,42.0 71.8,37.0 72.5,31.0 73.9,26.0Z" fill="#ff9000" fill-rule="evenodd"/><path d="M76.7,28.0 80.0,22.1 84.0,17.5 89.0,13.6 94.0,10.9 100.0,9.0 106.0,8.2 112.0,8.4 118.0,9.7 124.0,12.3 129.0,15.6 133.0,19.4 136.4,24.0 139.0,29.1 140.7,35.0 141.1,41.0 140.3,47.0 138.6,51.0 136.1,54.0 132.0,56.2 127.0,57.5 118.0,58.5 104.0,58.7 93.0,58.2 85.0,56.8 81.0,55.3 78.1,53.0 76.0,50.0 74.9,47.0 74.2,43.0 74.1,38.0 75.0,33.0Z" fill="#ff7f00" fill-rule="evenodd"/><path d="M77.7,33.0 80.2,28.0 83.9,23.0 88.0,19.3 93.0,16.2 98.0,14.1 104.0,12.9 110.0,12.8 115.0,13.5 121.0,15.6 126.0,18.4 130.3,22.0 134.0,26.4 137.0,31.9 138.7,37.0 139.3,43.0 138.7,48.0 137.6,51.0 135.0,54.0 131.0,56.0 126.0,57.2 117.0,58.1 104.0,58.2 93.0,57.7 86.0,56.5 83.0,55.5 80.0,53.8 78.2,52.0 76.8,49.0 76.0,45.0 76.0,41.0Z" fill="#ff6e00" fill-rule="evenodd"/><path d="M78.2,39.0 80.0,34.0 83.0,29.1 87.0,24.7 91.0,21.6 96.0,19.1 101.0,17.5 106.0,16.9 112.0,17.1 117.0,18.3 122.0,20.4 127.0,23.7 131.0,27.6 134.1,32.0 136.4,37.0 137.7,43.0 137.6,48.0 136.7,51.0 134.0,53.9 131.0,55.4 126.0,56.7 118.0,57.5 108.0,57.8 98.0,57.6 90.0,56.8 83.0,54.9 81.0,53.8 79.1,52.0 78.1,50.0 77.5,47.0 77.5,43.0Z" fill="#ff5d00" fill-rule="evenodd"/><path d="M78.9,44.0 80.2,39.0 82.8,34.0 86.0,29.8 90.0,26.3 95.0,23.3 100.0,21.5 105.0,20.6 110.0,20.6 115.0,21.5 120.0,23.2 125.0,26.1 129.0,29.6 132.0,33.3 134.6,38.0 136.1,43.0 136.6,48.0 135.9,51.0 134.3,53.0 132.0,54.4 128.0,55.7 122.0,56.7 115.0,57.2 97.0,57.0 87.0,55.7 84.0,54.7 81.0,53.1 79.9,52.0 78.9,50.0Z" fill="#ff4c00" fill-rule="evenodd"/><path d="M79.6,48.0 80.3,44.0 82.3,39.0 85.0,34.8 89.0,30.7 93.0,27.8 98.0,25.5 103.0,24.2 108.0,23.9 113.0,24.4 118.0,25.8 123.0,28.3 127.0,31.4 131.0,35.9 133.4,40.0 135.0,44.4 135.6,49.0 135.2,51.0 134.0,52.5 131.5,54.0 128.0,55.2 118.0,56.6 104.0,56.9 93.0,56.2 85.0,54.5 80.7,52.0 79.7,50.0Z" fill="#ff3b00" fill-rule="evenodd"/><path d="M80.4,49.0 81.4,45.0 83.8,40.0 86.8,36.0 90.0,33.0 94.0,30.4 98.0,28.6 103.0,27.3 108.0,26.9 113.0,27.4 118.0,28.9 122.0,30.8 126.0,33.7 129.0,36.7 132.0,41.0 134.0,45.5 134.8,50.0 134.0,51.7 132.3,53.0 126.0,55.1 117.0,56.2 104.0,56.4 93.0,55.7 86.0,54.3 81.5,52.0 80.6,51.0Z" fill="#ff2a00" fill-rule="evenodd"/><path d="M81.1,50.0 82.0,46.7 84.5,42.0 87.0,38.7 91.0,35.1 95.0,32.7 99.0,31.0 103.0,30.1 108.0,29.7 113.0,30.2 117.0,31.3 121.0,33.1 125.0,35.7 128.0,38.5 131.0,42.4 133.0,46.2 134.1,50.0 133.9,51.0 132.0,52.5 127.0,54.4 119.0,55.5 108.0,56.0 97.0,55.6 89.0,54.5 83.0,52.4 81.3,51.0Z" fill="#ff1900" fill-rule="evenodd"/><path d="M81.8,50.0 83.0,47.0 86.0,42.5 89.0,39.3 92.0,37.0 96.0,34.8 100.0,33.3 108.0,32.2 116.0,33.5 120.0,35.1 124.0,37.6 127.0,40.1 130.0,43.5 132.0,46.7 133.4,50.0 133.2,51.0 131.9,52.0 126.0,54.1 118.0,55.1 108.0,55.5 97.0,55.1 89.0,54.0 83.3,52.0 82.0,51.0Z" fill="#ff0800" fill-rule="evenodd"/><path d="M82.7,50.0 84.0,47.4 87.0,43.6 93.0,38.7 100.0,35.6 108.0,34.6 115.0,35.6 122.0,38.6 128.0,43.4 131.0,47.1 132.5,50.0 132.3,51.0 130.7,52.0 125.0,53.7 118.0,54.6 108.0,55.0 98.0,54.7 90.0,53.7 84.5,52.0 82.9,51.0Z" fill="#f60000" fill-rule="evenodd"/><path d="M83.6,50.0 88.0,44.6 94.0,40.3 101.0,37.6 108.0,36.8 115.0,37.8 122.0,40.7 128.0,45.4 131.5,50.0 131.3,51.0 130.0,51.7 125.0,53.2 118.0,54.2 108.0,54.5 98.0,54.2 91.0,53.4 85.9,52.0 83.9,51.0Z" fill="#e50000" fill-rule="evenodd"/><path d="M84.8,50.0 89.0,45.6 95.0,41.7 101.0,39.6 108.0,38.8 115.0,39.8 121.0,42.1 126.0,45.4 130.4,50.0 130.0,51.0 124.0,52.9 117.0,53.7 108.0,54.1 99.0,53.8 91.9,53.0 85.2,51.0Z" fill="#d40000" fill-rule="evenodd"/><path d="M86.2,50.0 90.0,46.5 96.0,43.1 102.0,41.3 108.0,40.8 114.0,41.5 120.0,43.5 125.0,46.4 129.0,50.0 128.6,51.0 123.0,52.5 108.0,53.6 93.0,52.7 87.0,51.1Z" fill="#c30000" fill-rule="evenodd"/><path d="M87.8,50.0 92.0,46.8 97.0,44.5 102.0,43.1 108.0,42.6 114.0,43.3 119.0,44.8 124.0,47.3 127.3,50.0 126.8,51.0 122.0,52.2 108.0,53.1 93.0,52.1 88.4,51.0Z" fill="#b20000" fill-rule="evenodd"/><path d="M89.9,50.0 93.0,47.9 98.0,45.8 103.0,44.7 108.0,44.4 113.0,44.8 117.0,45.8 122.0,47.8 125.3,50.0 124.5,51.0 120.0,51.9 108.0,52.6 95.0,51.9 90.7,51.0Z" fill="#a10000" fill-rule="evenodd"/><path d="M92.5,50.0 95.0,48.6 99.0,47.2 103.0,46.4 108.0,46.1 116.0,47.1 120.0,48.5 122.7,50.0 121.6,51.0 108.0,52.1 93.6,51.0Z" fill="#900000" fill-rule="evenodd"/><path d="M96.1,50.0 101.0,48.4 108.0,47.7 114.0,48.3 119.1,50.0 117.2,51.0 108.0,51.5 98.0,51.0Z" fill="#7f0000" fill-rule="evenodd"/><path d="M102.9,50.0 108.0,49.6 112.3,50.0 108.0,50.5Z" fill="#6e0000" fill-rule="evenodd"/><path d="M0.0,72.0 31.0,67.6 53.0,65.7 78.0,64.5 142.0,64.6 173.0,66.4 186.0,67.8 216.0,72.1 216.0,115.0 0.0,115.0Z" fill="#6fff91" fill-rule="evenodd"/><path d="M0.0,83.8 25.4,74.0 34.5,71.0 49.5,68.0 65.4,66.0 86.0,64.8 130.0,64.8 149.8,66.0 165.7,68.0 176.6,70.0 184.1,72.0 216.0,84.1 216.0,115.0 0.0,115.0Z" fill="#5effa2" fill-rule="evenodd"/><path d="M0.0,102.1 31.2,78.0 39.0,74.0 48.0,71.0 66.6,67.0 80.0,65.5 105.0,65.0 134.0,65.4 148.6,67.0 163.4,70.0 173.6,73.0 182.3,77.0 189.6,82.0 216.0,102.8 216.0,115.0 0.0,115.0Z" fill="#4dffb3" fill-rule="evenodd"/><path d="M11.9,115.0 26.4,93.0 31.6,86.0 37.0,80.7 44.0,76.3 57.1,71.0 72.9,67.0 86.0,65.6 108.0,65.3 130.0,65.7 142.3,67.0 158.1,71.0 166.3,74.0 172.0,76.7 178.6,81.0 184.5,87.0 203.3,115.0Z" fill="#3cffc3" fill-rule="evenodd"/><path d="M27.7,115.0 31.8,100.0 35.5,91.0 38.1,87.0 40.8,84.0 48.6,78.0 60.5,72.0 68.0,69.3 75.0,67.5 87.0,66.0 108.0,65.7 128.0,66.0 140.0,67.5 146.2,69.0 154.7,72.0 166.6,78.0 174.4,84.0 177.1,87.0 179.7,91.0 183.4,100.0 187.5,115.0Z" fill="#2affd5" fill-rule="evenodd"/><path d="M37.5,107.0 38.2,101.0 39.5,96.0 41.7,91.0 44.4,87.0 48.2,83.0 53.1,79.0 59.3,75.0 65.1,72.0 75.0,68.4 85.0,66.7 104.0,66.0 127.0,66.4 138.0,67.8 147.8,71.0 159.2,77.0 168.1,84.0 172.9,90.0 176.0,97.0 177.5,105.0 177.7,115.0 37.5,115.0Z" fill="#1affe5" fill-rule="evenodd"/><path d="M43.4,103.0 44.3,98.0 45.7,94.0 47.8,90.0 50.7,86.0 55.5,81.0 60.5,77.0 70.7,71.0 78.0,68.4 86.9,67.0 101.0,66.5 121.0,66.6 132.0,67.4 140.0,69.2 148.5,73.0 157.3,79.0 163.6,85.0 168.6,92.0 171.1,99.0 171.9,107.0 170.9,115.0 44.3,115.0 43.4,109.0Z" fill="#08fff7" fill-rule="evenodd"/><path d="M48.6,102.0 49.6,97.0 51.1,93.0 56.1,85.0 59.6,81.0 64.0,77.0 68.0,74.0 73.3,71.0 80.0,68.6 88.0,67.4 101.0,66.9 120.0,67.0 131.0,67.8 138.0,69.5 143.9,72.0 151.2,77.0 158.3,84.0 163.1,91.0 165.9,98.0 166.8,106.0 165.3,115.0 49.9,115.0 48.5,108.0Z" fill="#00f7ff" fill-rule="evenodd"/><path d="M53.4,101.0 55.6,93.0 57.5,89.0 60.6,84.0 63.8,80.0 67.9,76.0 75.6,71.0 82.0,68.8 90.0,67.7 104.0,67.2 121.0,67.5 130.0,68.2 137.0,69.9 143.2,73.0 148.4,77.0 154.6,84.0 158.7,91.0 161.4,99.0 162.0,106.0 161.5,110.0 160.2,115.0 55.0,115.0 53.4,108.0Z" fill="#00e5ff" fill-rule="evenodd"/><path d="M58.3,98.0 60.6,90.0 65.0,82.0 68.2,78.0 71.3,75.0 77.6,71.0 84.0,69.0 92.5,68.0 109.0,67.6 124.0,68.1 132.0,69.2 137.6,71.0 142.6,74.0 147.9,79.0 152.1,85.0 155.3,92.0 157.1,99.0 157.3,106.0 156.5,111.0 155.2,115.0 60.0,115.0 58.0,107.0 57.8,103.0Z" fill="#00d4ff" fill-rule="evenodd"/><path d="M63.3,92.0 66.4,84.0 70.3,78.0 75.7,73.0 81.0,70.4 88.0,68.9 100.0,68.1 117.0,68.2 129.0,69.2 135.0,70.7 139.5,73.0 144.0,77.0 147.7,82.0 150.6,88.0 152.3,94.0 153.1,101.0 152.6,107.0 150.1,115.0 65.1,115.0 63.3,110.0 62.2,104.0 62.3,98.0Z" fill="#00c3ff" fill-rule="evenodd"/><path d="M68.3,85.0 71.4,79.0 74.8,75.0 79.0,72.0 84.8,70.0 94.0,68.8 110.0,68.5 123.4,69.0 132.0,70.4 136.2,72.0 140.4,75.0 143.8,79.0 146.5,84.0 148.2,89.0 149.2,95.0 149.2,101.0 148.1,107.0 144.8,115.0 70.4,115.0 67.4,108.0 66.0,100.0 66.4,92.0Z" fill="#00b2ff" fill-rule="evenodd"/><path d="M72.5,80.0 75.2,76.0 78.7,73.0 83.0,71.1 89.0,69.8 100.2,69.0 116.0,69.0 126.0,69.8 133.0,71.3 136.5,73.0 140.0,76.0 142.7,80.0 144.7,85.0 145.8,90.0 146.0,96.0 145.4,101.0 144.0,106.2 142.0,110.7 139.3,115.0 75.9,115.0 73.4,111.0 71.5,107.0 70.2,103.0 69.3,98.0 69.6,89.0 70.8,84.0Z" fill="#00a1ff" fill-rule="evenodd"/><path d="M75.7,77.0 78.6,74.0 82.0,72.1 87.0,70.7 93.0,69.9 105.0,69.4 119.0,69.6 127.0,70.4 133.0,72.0 136.0,73.6 138.7,76.0 140.7,79.0 142.5,84.0 143.3,89.0 143.2,94.0 142.4,99.0 141.0,103.4 138.0,109.2 133.2,115.0 82.0,115.0 78.5,111.0 75.4,106.0 73.3,101.0 72.2,96.0 71.8,91.0 72.3,86.0 73.6,81.0Z" fill="#0090ff" fill-rule="evenodd"/><path d="M77.6,76.0 80.0,73.9 84.0,72.0 89.0,70.8 95.0,70.2 106.0,69.8 118.0,70.0 126.0,70.8 132.0,72.3 135.4,74.0 137.6,76.0 139.4,79.0 140.4,82.0 141.1,86.0 141.1,90.0 140.4,95.0 139.1,99.0 137.0,103.6 134.0,107.9 130.1,112.0 126.1,115.0 89.1,115.0 84.0,111.0 80.5,107.0 77.4,102.0 75.4,97.0 74.2,91.0 74.2,85.0 75.4,80.0Z" fill="#007fff" fill-rule="evenodd"/><path d="M77.3,78.0 79.6,75.0 82.0,73.4 86.0,72.0 91.0,71.0 100.0,70.4 111.0,70.3 121.0,70.7 128.0,71.7 134.0,73.9 137.3,77.0 138.6,80.0 139.2,83.0 139.3,87.0 138.8,91.0 137.0,96.6 134.0,102.1 130.0,106.8 125.0,110.8 120.0,113.4 114.8,115.0 100.4,115.0 94.0,112.8 89.0,110.0 84.0,105.6 80.5,101.0 77.6,95.0 76.1,89.0 76.0,83.0Z" fill="#006eff" fill-rule="evenodd"/><path d="M78.3,78.0 79.5,76.0 82.2,74.0 86.0,72.5 91.0,71.6 108.0,70.7 125.0,71.7 132.0,73.5 135.7,76.0 137.5,80.0 137.5,87.0 136.0,92.6 133.2,98.0 129.1,103.0 125.0,106.3 120.0,109.1 115.0,110.8 109.0,111.7 103.0,111.3 97.0,109.8 92.0,107.5 87.0,103.8 83.0,99.4 80.0,94.4 78.0,88.6 77.4,83.0Z" fill="#005dff" fill-rule="evenodd"/><path d="M78.8,79.0 79.6,77.0 81.6,75.0 84.0,73.8 88.0,72.6 100.0,71.3 116.0,71.3 126.0,72.4 133.0,74.6 135.6,77.0 136.4,79.0 136.6,82.0 135.8,87.0 133.9,92.0 131.0,96.6 127.0,100.8 122.0,104.3 117.0,106.5 112.0,107.6 106.0,107.9 100.0,107.0 95.0,105.2 90.0,102.2 86.0,98.7 82.5,94.0 80.0,89.0 78.8,84.0Z" fill="#004cff" fill-rule="evenodd"/><path d="M79.6,79.0 80.3,77.0 82.0,75.4 88.0,73.1 97.0,71.9 111.0,71.6 122.0,72.3 130.0,73.9 133.0,75.3 134.9,77.0 135.6,80.0 134.7,85.0 133.0,89.3 130.0,94.0 126.0,98.0 122.0,100.8 117.0,103.1 112.0,104.3 107.0,104.6 102.0,104.1 97.0,102.6 92.0,100.1 88.0,97.0 84.5,93.0 82.0,88.9 80.2,84.0Z" fill="#003bff" fill-rule="evenodd"/><path d="M80.4,79.0 81.0,77.0 82.0,76.1 88.0,73.7 96.0,72.5 108.0,72.1 120.0,72.6 128.0,73.9 133.1,76.0 134.2,77.0 134.8,79.0 134.0,83.0 132.0,87.5 129.0,91.8 126.0,94.8 122.0,97.7 118.0,99.6 113.0,101.1 108.0,101.6 103.0,101.2 99.0,100.3 94.0,98.1 90.0,95.5 86.0,91.6 83.5,88.0 81.2,83.0Z" fill="#002aff" fill-rule="evenodd"/><path d="M81.1,78.0 82.0,76.8 84.0,75.6 89.0,74.0 97.0,72.9 108.0,72.5 118.0,72.9 126.0,73.9 132.0,76.0 134.1,78.0 133.1,82.0 131.0,86.1 128.0,90.0 125.0,92.8 121.0,95.4 117.0,97.2 113.0,98.3 108.0,98.8 103.0,98.4 99.0,97.5 94.0,95.3 90.0,92.6 87.0,89.8 84.0,85.8 82.0,81.8Z" fill="#0019ff" fill-rule="evenodd"/><path d="M81.8,78.0 84.3,76.0 90.0,74.3 98.0,73.3 108.0,73.0 118.0,73.4 125.0,74.2 130.9,76.0 133.4,78.0 132.4,81.0 130.0,85.0 127.0,88.4 124.0,90.9 120.0,93.4 116.0,95.0 108.0,96.3 100.0,95.2 96.0,93.7 92.0,91.5 88.0,88.2 85.0,84.7 83.0,81.5Z" fill="#0008ff" fill-rule="evenodd"/><path d="M82.6,78.0 83.6,77.0 85.7,76.0 91.0,74.6 98.0,73.8 108.0,73.5 118.0,73.9 125.0,74.8 130.0,76.2 132.6,78.0 131.8,80.0 129.0,84.0 123.0,89.3 116.0,92.6 108.0,93.9 100.0,92.9 93.0,89.8 89.0,86.9 86.0,83.8 83.4,80.0Z" fill="#0000f6" fill-rule="evenodd"/><path d="M83.6,78.0 86.0,76.5 92.0,75.0 99.0,74.2 108.0,74.0 117.0,74.3 124.0,75.1 129.0,76.4 131.6,78.0 131.0,79.5 128.0,83.1 122.0,87.8 115.0,90.7 108.0,91.7 101.0,90.9 94.0,88.2 90.0,85.6 87.0,82.9 84.0,79.2Z" fill="#0000e5" fill-rule="evenodd"/><path d="M84.8,78.0 87.0,76.7 93.0,75.3 108.0,74.4 123.0,75.4 128.0,76.6 130.4,78.0 130.0,79.1 127.0,82.3 121.0,86.4 115.0,88.7 108.0,89.7 101.0,88.9 95.0,86.8 88.0,82.1 85.1,79.0Z" fill="#0000d4" fill-rule="evenodd"/><path d="M86.1,78.0 88.0,76.9 94.0,75.7 108.0,74.9 122.0,75.8 127.0,76.9 129.1,78.0 128.7,79.0 126.0,81.4 120.0,85.0 114.0,87.0 108.0,87.7 102.0,87.2 96.0,85.4 89.0,81.3 86.5,79.0Z" fill="#0000c3" fill-rule="evenodd"/><path d="M87.8,78.0 89.9,77.0 95.0,76.1 108.0,75.4 120.0,76.1 125.3,77.0 127.4,78.0 126.9,79.0 125.0,80.5 119.0,83.7 114.0,85.2 108.0,85.9 102.0,85.4 96.0,83.6 90.0,80.4 88.3,79.0Z" fill="#0000b2" fill-rule="evenodd"/><path d="M89.8,78.0 92.7,77.0 96.0,76.5 108.0,75.9 119.0,76.5 122.5,77.0 125.4,78.0 124.8,79.0 123.3,80.0 118.0,82.4 113.0,83.7 108.0,84.1 102.0,83.6 97.0,82.3 91.9,80.0 90.4,79.0Z" fill="#0000a1" fill-rule="evenodd"/><path d="M92.5,78.0 97.0,76.9 108.0,76.4 118.0,76.9 122.7,78.0 122.0,79.0 117.0,81.1 113.0,82.0 108.0,82.5 103.0,82.1 99.0,81.3 94.0,79.5Z" fill="#000090" fill-rule="evenodd"/><path d="M96.1,78.0 102.0,77.2 108.0,77.0 119.1,78.0 118.1,79.0 115.0,80.0 108.0,80.8 100.4,80.0 97.0,79.0Z" fill="#00007f" fill-rule="evenodd"/><path d="M103.0,78.0 112.2,78.0 108.0,79.0Z" fill="#00006e" fill-rule="evenodd"/></g></g><line x1="901.2" y1="1059.6" x2="955.2" y2="1059.6" stroke="#5a1c10" stroke-width="1.5" opacity="0.9"/><line x1="901.2" y1="1086.7" x2="955.2" y2="1086.7" stroke="#0a1040" stroke-width="1.3" opacity="0.9"/><text x="825" y="1035" font-size="21.8" fill="#111" text-anchor="start" >(iii)</text>
<defs><linearGradient id="jet" x1="0" y1="0" x2="1" y2="0"><stop offset="0.0000" stop-color="#000080"/><stop offset="0.0625" stop-color="#0000bf"/><stop offset="0.1250" stop-color="#0000ff"/><stop offset="0.1875" stop-color="#0040ff"/><stop offset="0.2500" stop-color="#0080ff"/><stop offset="0.3125" stop-color="#00bfff"/><stop offset="0.3750" stop-color="#00ffff"/><stop offset="0.4375" stop-color="#40ffbf"/><stop offset="0.5000" stop-color="#80ff80"/><stop offset="0.5625" stop-color="#bfff40"/><stop offset="0.6250" stop-color="#ffff00"/><stop offset="0.6875" stop-color="#ffbf00"/><stop offset="0.7500" stop-color="#ff8000"/><stop offset="0.8125" stop-color="#ff4000"/><stop offset="0.8750" stop-color="#ff0000"/><stop offset="0.9375" stop-color="#bf0000"/><stop offset="1.0000" stop-color="#800000"/></linearGradient></defs>
<rect x="582.6" y="1137.5" width="451.2" height="13.5" fill="url(#jet)" stroke="#555" stroke-width="0.8"/>
<line x1="619.6" y1="1137.5" x2="619.6" y2="1141" stroke="#333" stroke-width="0.8"/>
<text x="618.4" y="1171.5" font-size="20.5" fill="#111" text-anchor="middle" >6</text>
<line x1="682.2" y1="1137.5" x2="682.2" y2="1141" stroke="#333" stroke-width="0.8"/>
<text x="681.02" y="1171.5" font-size="20.5" fill="#111" text-anchor="middle" >4</text>
<line x1="744.8" y1="1137.5" x2="744.8" y2="1141" stroke="#333" stroke-width="0.8"/>
<text x="743.64" y="1171.5" font-size="20.5" fill="#111" text-anchor="middle" >2</text>
<line x1="807.5" y1="1137.5" x2="807.5" y2="1141" stroke="#333" stroke-width="0.8"/>
<text x="806.26" y="1171.5" font-size="20.5" fill="#111" text-anchor="middle" >0</text>
<line x1="870.1" y1="1137.5" x2="870.1" y2="1141" stroke="#333" stroke-width="0.8"/>
<text x="868.88" y="1171.5" font-size="20.5" fill="#111" text-anchor="middle" >2</text>
<line x1="932.7" y1="1137.5" x2="932.7" y2="1141" stroke="#333" stroke-width="0.8"/>
<text x="931.5" y="1171.5" font-size="20.5" fill="#111" text-anchor="middle" >4</text>
<line x1="995.3" y1="1137.5" x2="995.3" y2="1141" stroke="#333" stroke-width="0.8"/>
<text x="994.1199999999999" y="1171.5" font-size="20.5" fill="#111" text-anchor="middle" >6</text>
<text x="1006.6" y="1170.5" font-size="20.5" fill="#111">×10<tspan dy="-7.5" font-size="13.5">7</tspan><tspan dy="7.5" dx="2.6">V</tspan></text>
<text x="35.5" y="1222" font-size="26" fill="#000" text-anchor="start" >(g)</text><rect x="115.8" y="1331.3" width="17.2" height="89.7" fill="#6699cc"/><rect x="133.0" y="1328.9" width="17.7" height="92.1" fill="#ff4646"/><path d="M124.4,1328.4 V1334.1 M120.9,1328.4 h7.0 M120.9,1334.1 h7.0" stroke="#111" stroke-width="1.15" fill="none"/><path d="M141.8,1327.6 V1330.1 M138.3,1327.6 h7.0 M138.3,1330.1 h7.0" stroke="#111" stroke-width="1.15" fill="none"/><line x1="133.0" y1="1421" x2="133.0" y2="1425" stroke="#111" stroke-width="1.4"/><text x="133.0" y="1439.2" font-size="14.5" fill="#111" text-anchor="middle" >0</text><rect x="184.7" y="1304.0" width="17.2" height="117.0" fill="#6699cc"/><rect x="201.9" y="1319.4" width="17.7" height="101.6" fill="#ff4646"/><path d="M193.3,1303.3 V1304.7 M189.8,1303.3 h7.0 M189.8,1304.7 h7.0" stroke="#111" stroke-width="1.15" fill="none"/><path d="M210.8,1317.6 V1321.3 M207.3,1317.6 h7.0 M207.3,1321.3 h7.0" stroke="#111" stroke-width="1.15" fill="none"/><line x1="201.9" y1="1421" x2="201.9" y2="1425" stroke="#111" stroke-width="1.4"/><text x="201.92000000000002" y="1439.2" font-size="14.5" fill="#111" text-anchor="middle" >1</text><rect x="253.6" y="1289.2" width="17.2" height="131.8" fill="#6699cc"/><rect x="270.8" y="1300.4" width="17.7" height="120.6" fill="#ff4646"/><path d="M262.2,1284.7 V1293.8 M258.7,1284.7 h7.0 M258.7,1293.8 h7.0" stroke="#111" stroke-width="1.15" fill="none"/><path d="M279.7,1299.2 V1301.7 M276.2,1299.2 h7.0 M276.2,1301.7 h7.0" stroke="#111" stroke-width="1.15" fill="none"/><line x1="270.8" y1="1421" x2="270.8" y2="1425" stroke="#111" stroke-width="1.4"/><text x="270.84000000000003" y="1439.2" font-size="14.5" fill="#111" text-anchor="middle" >2</text><rect x="322.6" y="1251.7" width="17.2" height="169.3" fill="#6699cc"/><rect x="339.8" y="1262.2" width="17.7" height="158.8" fill="#ff4646"/><path d="M331.2,1250.6 V1252.9 M327.7,1250.6 h7.0 M327.7,1252.9 h7.0" stroke="#111" stroke-width="1.15" fill="none"/><path d="M348.6,1260.3 V1264.1 M345.1,1260.3 h7.0 M345.1,1264.1 h7.0" stroke="#111" stroke-width="1.15" fill="none"/><line x1="339.8" y1="1421" x2="339.8" y2="1425" stroke="#111" stroke-width="1.4"/><text x="339.76" y="1439.2" font-size="14.5" fill="#111" text-anchor="middle" >3</text><rect x="391.5" y="1293.8" width="17.2" height="127.2" fill="#6699cc"/><rect x="408.7" y="1314.9" width="17.7" height="106.1" fill="#ff4646"/><path d="M400.1,1292.1 V1295.5 M396.6,1292.1 h7.0 M396.6,1295.5 h7.0" stroke="#111" stroke-width="1.15" fill="none"/><path d="M417.5,1313.3 V1316.5 M414.0,1313.3 h7.0 M414.0,1316.5 h7.0" stroke="#111" stroke-width="1.15" fill="none"/><line x1="408.7" y1="1421" x2="408.7" y2="1425" stroke="#111" stroke-width="1.4"/><text x="408.68" y="1439.2" font-size="14.5" fill="#111" text-anchor="middle" >4</text><rect x="460.4" y="1322.7" width="17.2" height="98.3" fill="#6699cc"/><rect x="477.6" y="1328.9" width="17.7" height="92.1" fill="#ff4646"/><path d="M469.0,1322.5 V1323.0 M465.5,1322.5 h7.0 M465.5,1323.0 h7.0" stroke="#111" stroke-width="1.15" fill="none"/><path d="M486.5,1327.6 V1330.1 M483.0,1327.6 h7.0 M483.0,1330.1 h7.0" stroke="#111" stroke-width="1.15" fill="none"/><line x1="477.6" y1="1421" x2="477.6" y2="1425" stroke="#111" stroke-width="1.4"/><text x="477.6" y="1439.2" font-size="14.5" fill="#111" text-anchor="middle" >5</text><line x1="97.7" y1="1217" x2="512.8" y2="1217" stroke="#111" stroke-width="1.5"/><line x1="97.7" y1="1421" x2="512.8" y2="1421" stroke="#111" stroke-width="1.7"/><line x1="98.5" y1="1217" x2="98.5" y2="1421" stroke="#3b6ba5" stroke-width="1.7"/><line x1="512" y1="1217" x2="512" y2="1421" stroke="#f01414" stroke-width="1.7"/><line x1="94.5" y1="1421.0" x2="98.5" y2="1421.0" stroke="#3b6ba5" stroke-width="1.4"/><text x="92.3" y="1426.1" font-size="15.5" fill="#3b6ba5" text-anchor="end" >0</text><line x1="94.5" y1="1392.6" x2="98.5" y2="1392.6" stroke="#3b6ba5" stroke-width="1.4"/><text x="92.3" y="1397.6999999999998" font-size="15.5" fill="#3b6ba5" text-anchor="end" >5</text><line x1="94.5" y1="1364.2" x2="98.5" y2="1364.2" stroke="#3b6ba5" stroke-width="1.4"/><text x="92.3" y="1369.3" font-size="15.5" fill="#3b6ba5" text-anchor="end" >10</text><line x1="94.5" y1="1335.8" x2="98.5" y2="1335.8" stroke="#3b6ba5" stroke-width="1.4"/><text x="92.3" y="1340.8999999999999" font-size="15.5" fill="#3b6ba5" text-anchor="end" >15</text><line x1="94.5" y1="1307.4" x2="98.5" y2="1307.4" stroke="#3b6ba5" stroke-width="1.4"/><text x="92.3" y="1312.5" font-size="15.5" fill="#3b6ba5" text-anchor="end" >20</text><line x1="94.5" y1="1279.0" x2="98.5" y2="1279.0" stroke="#3b6ba5" stroke-width="1.4"/><text x="92.3" y="1284.1" font-size="15.5" fill="#3b6ba5" text-anchor="end" >25</text><line x1="94.5" y1="1250.6" x2="98.5" y2="1250.6" stroke="#3b6ba5" stroke-width="1.4"/><text x="92.3" y="1255.6999999999998" font-size="15.5" fill="#3b6ba5" text-anchor="end" >30</text><line x1="94.5" y1="1222.2" x2="98.5" y2="1222.2" stroke="#3b6ba5" stroke-width="1.4"/><text x="92.3" y="1227.3" font-size="15.5" fill="#3b6ba5" text-anchor="end" >35</text><line x1="512" y1="1421.0" x2="516" y2="1421.0" stroke="#f01414" stroke-width="1.4"/><text x="520" y="1426.1" font-size="15.5" fill="#f01414" text-anchor="start" >0</text><line x1="512" y1="1373.8" x2="516" y2="1373.8" stroke="#f01414" stroke-width="1.4"/><text x="520" y="1378.9399999999998" font-size="15.5" fill="#f01414" text-anchor="start" >3</text><line x1="512" y1="1326.7" x2="516" y2="1326.7" stroke="#f01414" stroke-width="1.4"/><text x="520" y="1331.78" font-size="15.5" fill="#f01414" text-anchor="start" >6</text><line x1="512" y1="1279.5" x2="516" y2="1279.5" stroke="#f01414" stroke-width="1.4"/><text x="520" y="1284.62" font-size="15.5" fill="#f01414" text-anchor="start" >9</text><line x1="512" y1="1232.4" x2="516" y2="1232.4" stroke="#f01414" stroke-width="1.4"/><text x="520" y="1237.4599999999998" font-size="15.5" fill="#f01414" text-anchor="start" >12</text><line x1="512" y1="1397.4" x2="514.2" y2="1397.4" stroke="#f01414" stroke-width="1.1"/><line x1="512" y1="1350.3" x2="514.2" y2="1350.3" stroke="#f01414" stroke-width="1.1"/><line x1="512" y1="1303.1" x2="514.2" y2="1303.1" stroke="#f01414" stroke-width="1.1"/><line x1="512" y1="1255.9" x2="514.2" y2="1255.9" stroke="#f01414" stroke-width="1.1"/><text x="73.5" y="1319.0" font-size="17.3" fill="#3b6ba5" text-anchor="middle" transform="rotate(-90 73.5 1319.0)" >Voltage (V)</text><text x="532.5" y="1319.0" font-size="17.3" fill="#f01414" text-anchor="middle" transform="rotate(90 532.5 1319.0)" >Charge (nC)</text><text x="305.25" y="1455" font-size="17.4" fill="#111" text-anchor="middle" >Weight ratio (%)</text>
<text x="538" y="1222" font-size="26" fill="#000" text-anchor="start" >(h)</text><rect x="647.5" y="1319.4" width="31.5" height="101.1" fill="#6699cc"/><rect x="679.0" y="1318.3" width="32.2" height="102.2" fill="#ff4646"/><path d="M663.2,1319.1 V1319.7 M659.8,1319.1 h7.0 M659.8,1319.7 h7.0" stroke="#111" stroke-width="1.15" fill="none"/><path d="M695.1,1317.7 V1318.9 M691.6,1317.7 h7.0 M691.6,1318.9 h7.0" stroke="#111" stroke-width="1.15" fill="none"/><text x="682.5" y="1447.3" font-size="17.5" fill="#111" text-anchor="middle" >SR@CF</text><rect x="775.5" y="1278.5" width="31.5" height="142.0" fill="#6699cc"/><rect x="807.0" y="1279.8" width="32.2" height="140.7" fill="#ff4646"/><path d="M791.2,1278.2 V1278.8 M787.8,1278.2 h7.0 M787.8,1278.8 h7.0" stroke="#111" stroke-width="1.15" fill="none"/><path d="M823.1,1279.2 V1280.4 M819.6,1279.2 h7.0 M819.6,1280.4 h7.0" stroke="#111" stroke-width="1.15" fill="none"/><text x="810.5" y="1447.3" font-size="17.5" fill="#111" text-anchor="middle" >MXene/SR@CF</text><rect x="903.5" y="1240.2" width="31.5" height="180.3" fill="#6699cc"/><rect x="935.0" y="1231.1" width="32.2" height="189.4" fill="#ff4646"/><path d="M919.2,1239.9 V1240.4 M915.8,1239.9 h7.0 M915.8,1240.4 h7.0" stroke="#111" stroke-width="1.15" fill="none"/><path d="M951.1,1230.3 V1231.9 M947.6,1230.3 h7.0 M947.6,1231.9 h7.0" stroke="#111" stroke-width="1.15" fill="none"/><text x="947.5" y="1447.3" font-size="17.5" fill="#111" text-anchor="middle" >MXene/SR@CS</text><line x1="614.8000000000001" y1="1216.8" x2="999.3" y2="1216.8" stroke="#111" stroke-width="1.5"/><line x1="614.8000000000001" y1="1420.5" x2="999.3" y2="1420.5" stroke="#111" stroke-width="1.7"/><line x1="615.6" y1="1216.8" x2="615.6" y2="1420.5" stroke="#3b6ba5" stroke-width="1.7"/><line x1="998.5" y1="1216.8" x2="998.5" y2="1420.5" stroke="#f01414" stroke-width="1.7"/><line x1="611.6" y1="1420.5" x2="615.6" y2="1420.5" stroke="#3b6ba5" stroke-width="1.4"/><text x="607.1" y="1425.6" font-size="15.5" fill="#3b6ba5" text-anchor="end" >0</text><line x1="611.6" y1="1392.1" x2="615.6" y2="1392.1" stroke="#3b6ba5" stroke-width="1.4"/><text x="607.1" y="1397.1999999999998" font-size="15.5" fill="#3b6ba5" text-anchor="end" >5</text><line x1="611.6" y1="1363.7" x2="615.6" y2="1363.7" stroke="#3b6ba5" stroke-width="1.4"/><text x="607.1" y="1368.8" font-size="15.5" fill="#3b6ba5" text-anchor="end" >10</text><line x1="611.6" y1="1335.3" x2="615.6" y2="1335.3" stroke="#3b6ba5" stroke-width="1.4"/><text x="607.1" y="1340.3999999999999" font-size="15.5" fill="#3b6ba5" text-anchor="end" >15</text><line x1="611.6" y1="1306.9" x2="615.6" y2="1306.9" stroke="#3b6ba5" stroke-width="1.4"/><text x="607.1" y="1312.0" font-size="15.5" fill="#3b6ba5" text-anchor="end" >20</text><line x1="611.6" y1="1278.5" x2="615.6" y2="1278.5" stroke="#3b6ba5" stroke-width="1.4"/><text x="607.1" y="1283.6" font-size="15.5" fill="#3b6ba5" text-anchor="end" >25</text><line x1="611.6" y1="1250.1" x2="615.6" y2="1250.1" stroke="#3b6ba5" stroke-width="1.4"/><text x="607.1" y="1255.1999999999998" font-size="15.5" fill="#3b6ba5" text-anchor="end" >30</text><line x1="611.6" y1="1221.7" x2="615.6" y2="1221.7" stroke="#3b6ba5" stroke-width="1.4"/><text x="607.1" y="1226.8" font-size="15.5" fill="#3b6ba5" text-anchor="end" >35</text><line x1="998.5" y1="1420.5" x2="1002.5" y2="1420.5" stroke="#f01414" stroke-width="1.4"/><text x="1006.5" y="1425.6" font-size="15.5" fill="#f01414" text-anchor="start" >0</text><line x1="998.5" y1="1373.3" x2="1002.5" y2="1373.3" stroke="#f01414" stroke-width="1.4"/><text x="1006.5" y="1378.4399999999998" font-size="15.5" fill="#f01414" text-anchor="start" >3</text><line x1="998.5" y1="1326.2" x2="1002.5" y2="1326.2" stroke="#f01414" stroke-width="1.4"/><text x="1006.5" y="1331.28" font-size="15.5" fill="#f01414" text-anchor="start" >6</text><line x1="998.5" y1="1279.0" x2="1002.5" y2="1279.0" stroke="#f01414" stroke-width="1.4"/><text x="1006.5" y="1284.12" font-size="15.5" fill="#f01414" text-anchor="start" >9</text><line x1="998.5" y1="1231.9" x2="1002.5" y2="1231.9" stroke="#f01414" stroke-width="1.4"/><text x="1006.5" y="1236.9599999999998" font-size="15.5" fill="#f01414" text-anchor="start" >12</text><line x1="998.5" y1="1396.9" x2="1000.7" y2="1396.9" stroke="#f01414" stroke-width="1.1"/><line x1="998.5" y1="1349.8" x2="1000.7" y2="1349.8" stroke="#f01414" stroke-width="1.1"/><line x1="998.5" y1="1302.6" x2="1000.7" y2="1302.6" stroke="#f01414" stroke-width="1.1"/><line x1="998.5" y1="1255.4" x2="1000.7" y2="1255.4" stroke="#f01414" stroke-width="1.1"/><text x="585" y="1318.65" font-size="19.5" fill="#3b6ba5" text-anchor="middle" transform="rotate(-90 585 1318.65)" >Voltage (V)</text><text x="1018.5" y="1318.65" font-size="19.5" fill="#f01414" text-anchor="middle" transform="rotate(90 1018.5 1318.65)" >Charge (nC)</text></svg></body></html>
